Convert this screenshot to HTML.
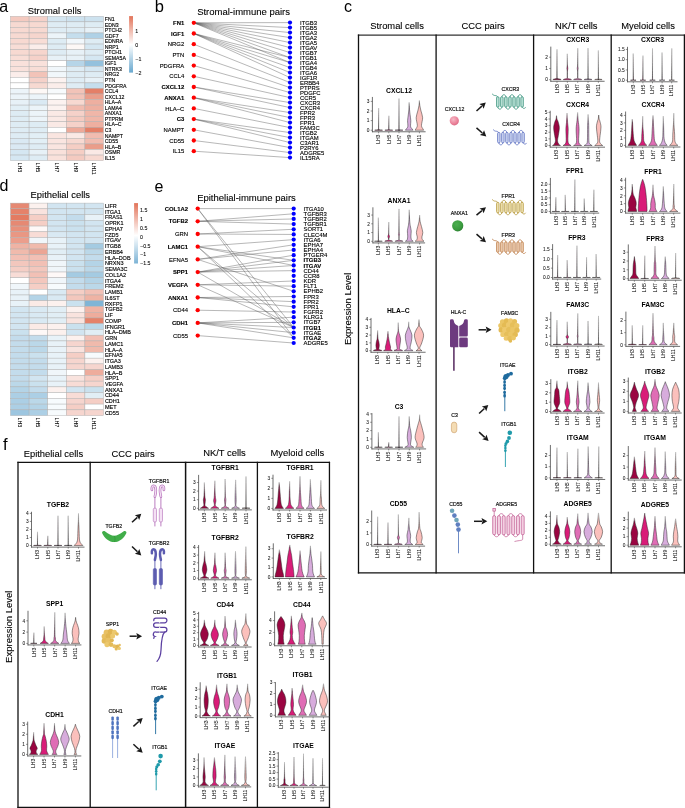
<!DOCTYPE html>
<html><head><meta charset="utf-8"><style>html,body{margin:0;padding:0;background:#fff;width:685px;height:808px;overflow:hidden}svg{display:block;will-change:transform}text{font-family:"Liberation Sans",sans-serif}</style></head><body>
<svg width="685" height="808" viewBox="0 0 685 808" font-family='"Liberation Sans", sans-serif'>
<rect width="685" height="808" fill="#ffffff"/>
<defs><linearGradient id="fade" x1="0" y1="0" x2="0" y2="1"><stop offset="0" stop-color="#fff" stop-opacity="0.6"/><stop offset="0.55" stop-color="#fff" stop-opacity="0.3"/><stop offset="1" stop-color="#fff" stop-opacity="0"/></linearGradient></defs>
<text x="-0.80" y="11.80" font-size="16" text-anchor="start" fill="#000">a</text>
<text x="54.60" y="14.40" font-size="9.4" text-anchor="middle" fill="#000" stroke="#000" stroke-width="0.1">Stromal cells</text>
<rect x="10.50" y="16.30" width="18.60" height="5.55" fill="#f4cac0" stroke="#b0b0b0" stroke-width="0.45"/>
<rect x="29.10" y="16.30" width="18.60" height="5.55" fill="#f5d1c9" stroke="#b0b0b0" stroke-width="0.45"/>
<rect x="47.70" y="16.30" width="18.60" height="5.55" fill="#d5e7f2" stroke="#b0b0b0" stroke-width="0.45"/>
<rect x="66.30" y="16.30" width="18.60" height="5.55" fill="#cde2ef" stroke="#b0b0b0" stroke-width="0.45"/>
<rect x="84.90" y="16.30" width="18.60" height="5.55" fill="#cde2ef" stroke="#b0b0b0" stroke-width="0.45"/>
<rect x="10.50" y="21.85" width="18.60" height="5.55" fill="#f7d9d1" stroke="#b0b0b0" stroke-width="0.45"/>
<rect x="29.10" y="21.85" width="18.60" height="5.55" fill="#f7d9d1" stroke="#b0b0b0" stroke-width="0.45"/>
<rect x="47.70" y="21.85" width="18.60" height="5.55" fill="#deecf4" stroke="#b0b0b0" stroke-width="0.45"/>
<rect x="66.30" y="21.85" width="18.60" height="5.55" fill="#deecf4" stroke="#b0b0b0" stroke-width="0.45"/>
<rect x="84.90" y="21.85" width="18.60" height="5.55" fill="#deecf4" stroke="#b0b0b0" stroke-width="0.45"/>
<rect x="10.50" y="27.40" width="18.60" height="5.55" fill="#f7d9d1" stroke="#b0b0b0" stroke-width="0.45"/>
<rect x="29.10" y="27.40" width="18.60" height="5.55" fill="#f7d9d1" stroke="#b0b0b0" stroke-width="0.45"/>
<rect x="47.70" y="27.40" width="18.60" height="5.55" fill="#deecf4" stroke="#b0b0b0" stroke-width="0.45"/>
<rect x="66.30" y="27.40" width="18.60" height="5.55" fill="#deecf4" stroke="#b0b0b0" stroke-width="0.45"/>
<rect x="84.90" y="27.40" width="18.60" height="5.55" fill="#e7f1f7" stroke="#b0b0b0" stroke-width="0.45"/>
<rect x="10.50" y="32.95" width="18.60" height="5.55" fill="#f7d9d1" stroke="#b0b0b0" stroke-width="0.45"/>
<rect x="29.10" y="32.95" width="18.60" height="5.55" fill="#f6d5cd" stroke="#b0b0b0" stroke-width="0.45"/>
<rect x="47.70" y="32.95" width="18.60" height="5.55" fill="#ecf4f9" stroke="#b0b0b0" stroke-width="0.45"/>
<rect x="66.30" y="32.95" width="18.60" height="5.55" fill="#c5deed" stroke="#b0b0b0" stroke-width="0.45"/>
<rect x="84.90" y="32.95" width="18.60" height="5.55" fill="#afd1e6" stroke="#b0b0b0" stroke-width="0.45"/>
<rect x="10.50" y="38.50" width="18.60" height="5.55" fill="#f7d9d1" stroke="#b0b0b0" stroke-width="0.45"/>
<rect x="29.10" y="38.50" width="18.60" height="5.55" fill="#f8ddd6" stroke="#b0b0b0" stroke-width="0.45"/>
<rect x="47.70" y="38.50" width="18.60" height="5.55" fill="#deecf4" stroke="#b0b0b0" stroke-width="0.45"/>
<rect x="66.30" y="38.50" width="18.60" height="5.55" fill="#f1f7fb" stroke="#b0b0b0" stroke-width="0.45"/>
<rect x="84.90" y="38.50" width="18.60" height="5.55" fill="#deecf4" stroke="#b0b0b0" stroke-width="0.45"/>
<rect x="10.50" y="44.05" width="18.60" height="5.55" fill="#f8ddd6" stroke="#b0b0b0" stroke-width="0.45"/>
<rect x="29.10" y="44.05" width="18.60" height="5.55" fill="#fbedea" stroke="#b0b0b0" stroke-width="0.45"/>
<rect x="47.70" y="44.05" width="18.60" height="5.55" fill="#deecf4" stroke="#b0b0b0" stroke-width="0.45"/>
<rect x="66.30" y="44.05" width="18.60" height="5.55" fill="#fdf8f6" stroke="#b0b0b0" stroke-width="0.45"/>
<rect x="84.90" y="44.05" width="18.60" height="5.55" fill="#d5e7f2" stroke="#b0b0b0" stroke-width="0.45"/>
<rect x="10.50" y="49.60" width="18.60" height="5.55" fill="#f7d9d1" stroke="#b0b0b0" stroke-width="0.45"/>
<rect x="29.10" y="49.60" width="18.60" height="5.55" fill="#f6d5cd" stroke="#b0b0b0" stroke-width="0.45"/>
<rect x="47.70" y="49.60" width="18.60" height="5.55" fill="#deecf4" stroke="#b0b0b0" stroke-width="0.45"/>
<rect x="66.30" y="49.60" width="18.60" height="5.55" fill="#e7f1f7" stroke="#b0b0b0" stroke-width="0.45"/>
<rect x="84.90" y="49.60" width="18.60" height="5.55" fill="#deecf4" stroke="#b0b0b0" stroke-width="0.45"/>
<rect x="10.50" y="55.15" width="18.60" height="5.55" fill="#f8ddd6" stroke="#b0b0b0" stroke-width="0.45"/>
<rect x="29.10" y="55.15" width="18.60" height="5.55" fill="#f5d1c9" stroke="#b0b0b0" stroke-width="0.45"/>
<rect x="47.70" y="55.15" width="18.60" height="5.55" fill="#e7f1f7" stroke="#b0b0b0" stroke-width="0.45"/>
<rect x="66.30" y="55.15" width="18.60" height="5.55" fill="#e7f1f7" stroke="#b0b0b0" stroke-width="0.45"/>
<rect x="84.90" y="55.15" width="18.60" height="5.55" fill="#d5e7f2" stroke="#b0b0b0" stroke-width="0.45"/>
<rect x="10.50" y="60.70" width="18.60" height="5.55" fill="#f9e1db" stroke="#b0b0b0" stroke-width="0.45"/>
<rect x="29.10" y="60.70" width="18.60" height="5.55" fill="#f9e1db" stroke="#b0b0b0" stroke-width="0.45"/>
<rect x="47.70" y="60.70" width="18.60" height="5.55" fill="#ffffff" stroke="#b0b0b0" stroke-width="0.45"/>
<rect x="66.30" y="60.70" width="18.60" height="5.55" fill="#b6d5e8" stroke="#b0b0b0" stroke-width="0.45"/>
<rect x="84.90" y="60.70" width="18.60" height="5.55" fill="#94c1dd" stroke="#b0b0b0" stroke-width="0.45"/>
<rect x="10.50" y="66.25" width="18.60" height="5.55" fill="#f9e1db" stroke="#b0b0b0" stroke-width="0.45"/>
<rect x="29.10" y="66.25" width="18.60" height="5.55" fill="#f8ddd6" stroke="#b0b0b0" stroke-width="0.45"/>
<rect x="47.70" y="66.25" width="18.60" height="5.55" fill="#f1f7fb" stroke="#b0b0b0" stroke-width="0.45"/>
<rect x="66.30" y="66.25" width="18.60" height="5.55" fill="#deecf4" stroke="#b0b0b0" stroke-width="0.45"/>
<rect x="84.90" y="66.25" width="18.60" height="5.55" fill="#d5e7f2" stroke="#b0b0b0" stroke-width="0.45"/>
<rect x="10.50" y="71.80" width="18.60" height="5.55" fill="#fbedea" stroke="#b0b0b0" stroke-width="0.45"/>
<rect x="29.10" y="71.80" width="18.60" height="5.55" fill="#f2c3b8" stroke="#b0b0b0" stroke-width="0.45"/>
<rect x="47.70" y="71.80" width="18.60" height="5.55" fill="#f1f7fb" stroke="#b0b0b0" stroke-width="0.45"/>
<rect x="66.30" y="71.80" width="18.60" height="5.55" fill="#deecf4" stroke="#b0b0b0" stroke-width="0.45"/>
<rect x="84.90" y="71.80" width="18.60" height="5.55" fill="#deecf4" stroke="#b0b0b0" stroke-width="0.45"/>
<rect x="10.50" y="77.35" width="18.60" height="5.55" fill="#ffffff" stroke="#b0b0b0" stroke-width="0.45"/>
<rect x="29.10" y="77.35" width="18.60" height="5.55" fill="#f5d1c9" stroke="#b0b0b0" stroke-width="0.45"/>
<rect x="47.70" y="77.35" width="18.60" height="5.55" fill="#fcf2f0" stroke="#b0b0b0" stroke-width="0.45"/>
<rect x="66.30" y="77.35" width="18.60" height="5.55" fill="#deecf4" stroke="#b0b0b0" stroke-width="0.45"/>
<rect x="84.90" y="77.35" width="18.60" height="5.55" fill="#e7f1f7" stroke="#b0b0b0" stroke-width="0.45"/>
<rect x="10.50" y="82.90" width="18.60" height="5.55" fill="#ffffff" stroke="#b0b0b0" stroke-width="0.45"/>
<rect x="29.10" y="82.90" width="18.60" height="5.55" fill="#f7d9d1" stroke="#b0b0b0" stroke-width="0.45"/>
<rect x="47.70" y="82.90" width="18.60" height="5.55" fill="#fbedea" stroke="#b0b0b0" stroke-width="0.45"/>
<rect x="66.30" y="82.90" width="18.60" height="5.55" fill="#deecf4" stroke="#b0b0b0" stroke-width="0.45"/>
<rect x="84.90" y="82.90" width="18.60" height="5.55" fill="#c5deed" stroke="#b0b0b0" stroke-width="0.45"/>
<rect x="10.50" y="88.45" width="18.60" height="5.55" fill="#ecf4f9" stroke="#b0b0b0" stroke-width="0.45"/>
<rect x="29.10" y="88.45" width="18.60" height="5.55" fill="#fdf8f6" stroke="#b0b0b0" stroke-width="0.45"/>
<rect x="47.70" y="88.45" width="18.60" height="5.55" fill="#f7fafc" stroke="#b0b0b0" stroke-width="0.45"/>
<rect x="66.30" y="88.45" width="18.60" height="5.55" fill="#f2c3b8" stroke="#b0b0b0" stroke-width="0.45"/>
<rect x="84.90" y="88.45" width="18.60" height="5.55" fill="#e47f67" stroke="#b0b0b0" stroke-width="0.45"/>
<rect x="10.50" y="94.00" width="18.60" height="5.55" fill="#ecf4f9" stroke="#b0b0b0" stroke-width="0.45"/>
<rect x="29.10" y="94.00" width="18.60" height="5.55" fill="#ecf4f9" stroke="#b0b0b0" stroke-width="0.45"/>
<rect x="47.70" y="94.00" width="18.60" height="5.55" fill="#ffffff" stroke="#b0b0b0" stroke-width="0.45"/>
<rect x="66.30" y="94.00" width="18.60" height="5.55" fill="#f2c3b8" stroke="#b0b0b0" stroke-width="0.45"/>
<rect x="84.90" y="94.00" width="18.60" height="5.55" fill="#ea9d8a" stroke="#b0b0b0" stroke-width="0.45"/>
<rect x="10.50" y="99.55" width="18.60" height="5.55" fill="#e7f1f7" stroke="#b0b0b0" stroke-width="0.45"/>
<rect x="29.10" y="99.55" width="18.60" height="5.55" fill="#dae9f3" stroke="#b0b0b0" stroke-width="0.45"/>
<rect x="47.70" y="99.55" width="18.60" height="5.55" fill="#fcf2f0" stroke="#b0b0b0" stroke-width="0.45"/>
<rect x="66.30" y="99.55" width="18.60" height="5.55" fill="#f7d9d1" stroke="#b0b0b0" stroke-width="0.45"/>
<rect x="84.90" y="99.55" width="18.60" height="5.55" fill="#eeafa0" stroke="#b0b0b0" stroke-width="0.45"/>
<rect x="10.50" y="105.10" width="18.60" height="5.55" fill="#e2eff6" stroke="#b0b0b0" stroke-width="0.45"/>
<rect x="29.10" y="105.10" width="18.60" height="5.55" fill="#ecf4f9" stroke="#b0b0b0" stroke-width="0.45"/>
<rect x="47.70" y="105.10" width="18.60" height="5.55" fill="#fcf2f0" stroke="#b0b0b0" stroke-width="0.45"/>
<rect x="66.30" y="105.10" width="18.60" height="5.55" fill="#f1bcb0" stroke="#b0b0b0" stroke-width="0.45"/>
<rect x="84.90" y="105.10" width="18.60" height="5.55" fill="#eeafa0" stroke="#b0b0b0" stroke-width="0.45"/>
<rect x="10.50" y="110.65" width="18.60" height="5.55" fill="#deecf4" stroke="#b0b0b0" stroke-width="0.45"/>
<rect x="29.10" y="110.65" width="18.60" height="5.55" fill="#ecf4f9" stroke="#b0b0b0" stroke-width="0.45"/>
<rect x="47.70" y="110.65" width="18.60" height="5.55" fill="#fae9e5" stroke="#b0b0b0" stroke-width="0.45"/>
<rect x="66.30" y="110.65" width="18.60" height="5.55" fill="#f5d1c9" stroke="#b0b0b0" stroke-width="0.45"/>
<rect x="84.90" y="110.65" width="18.60" height="5.55" fill="#f0b6a8" stroke="#b0b0b0" stroke-width="0.45"/>
<rect x="10.50" y="116.20" width="18.60" height="5.55" fill="#deecf4" stroke="#b0b0b0" stroke-width="0.45"/>
<rect x="29.10" y="116.20" width="18.60" height="5.55" fill="#ecf4f9" stroke="#b0b0b0" stroke-width="0.45"/>
<rect x="47.70" y="116.20" width="18.60" height="5.55" fill="#fae9e5" stroke="#b0b0b0" stroke-width="0.45"/>
<rect x="66.30" y="116.20" width="18.60" height="5.55" fill="#f4cac0" stroke="#b0b0b0" stroke-width="0.45"/>
<rect x="84.90" y="116.20" width="18.60" height="5.55" fill="#f0b6a8" stroke="#b0b0b0" stroke-width="0.45"/>
<rect x="10.50" y="121.75" width="18.60" height="5.55" fill="#deecf4" stroke="#b0b0b0" stroke-width="0.45"/>
<rect x="29.10" y="121.75" width="18.60" height="5.55" fill="#deecf4" stroke="#b0b0b0" stroke-width="0.45"/>
<rect x="47.70" y="121.75" width="18.60" height="5.55" fill="#fae9e5" stroke="#b0b0b0" stroke-width="0.45"/>
<rect x="66.30" y="121.75" width="18.60" height="5.55" fill="#f5d1c9" stroke="#b0b0b0" stroke-width="0.45"/>
<rect x="84.90" y="121.75" width="18.60" height="5.55" fill="#eeafa0" stroke="#b0b0b0" stroke-width="0.45"/>
<rect x="10.50" y="127.30" width="18.60" height="5.55" fill="#deecf4" stroke="#b0b0b0" stroke-width="0.45"/>
<rect x="29.10" y="127.30" width="18.60" height="5.55" fill="#deecf4" stroke="#b0b0b0" stroke-width="0.45"/>
<rect x="47.70" y="127.30" width="18.60" height="5.55" fill="#ffffff" stroke="#b0b0b0" stroke-width="0.45"/>
<rect x="66.30" y="127.30" width="18.60" height="5.55" fill="#eda999" stroke="#b0b0b0" stroke-width="0.45"/>
<rect x="84.90" y="127.30" width="18.60" height="5.55" fill="#e47f67" stroke="#b0b0b0" stroke-width="0.45"/>
<rect x="10.50" y="132.85" width="18.60" height="5.55" fill="#deecf4" stroke="#b0b0b0" stroke-width="0.45"/>
<rect x="29.10" y="132.85" width="18.60" height="5.55" fill="#e2eff6" stroke="#b0b0b0" stroke-width="0.45"/>
<rect x="47.70" y="132.85" width="18.60" height="5.55" fill="#fae5e0" stroke="#b0b0b0" stroke-width="0.45"/>
<rect x="66.30" y="132.85" width="18.60" height="5.55" fill="#fae9e5" stroke="#b0b0b0" stroke-width="0.45"/>
<rect x="84.90" y="132.85" width="18.60" height="5.55" fill="#f1bcb0" stroke="#b0b0b0" stroke-width="0.45"/>
<rect x="10.50" y="138.40" width="18.60" height="5.55" fill="#dae9f3" stroke="#b0b0b0" stroke-width="0.45"/>
<rect x="29.10" y="138.40" width="18.60" height="5.55" fill="#e2eff6" stroke="#b0b0b0" stroke-width="0.45"/>
<rect x="47.70" y="138.40" width="18.60" height="5.55" fill="#fae5e0" stroke="#b0b0b0" stroke-width="0.45"/>
<rect x="66.30" y="138.40" width="18.60" height="5.55" fill="#f7d9d1" stroke="#b0b0b0" stroke-width="0.45"/>
<rect x="84.90" y="138.40" width="18.60" height="5.55" fill="#f1bcb0" stroke="#b0b0b0" stroke-width="0.45"/>
<rect x="10.50" y="143.95" width="18.60" height="5.55" fill="#dae9f3" stroke="#b0b0b0" stroke-width="0.45"/>
<rect x="29.10" y="143.95" width="18.60" height="5.55" fill="#deecf4" stroke="#b0b0b0" stroke-width="0.45"/>
<rect x="47.70" y="143.95" width="18.60" height="5.55" fill="#fae5e0" stroke="#b0b0b0" stroke-width="0.45"/>
<rect x="66.30" y="143.95" width="18.60" height="5.55" fill="#f5cec4" stroke="#b0b0b0" stroke-width="0.45"/>
<rect x="84.90" y="143.95" width="18.60" height="5.55" fill="#ea9d8a" stroke="#b0b0b0" stroke-width="0.45"/>
<rect x="10.50" y="149.50" width="18.60" height="5.55" fill="#d5e7f2" stroke="#b0b0b0" stroke-width="0.45"/>
<rect x="29.10" y="149.50" width="18.60" height="5.55" fill="#e7f1f7" stroke="#b0b0b0" stroke-width="0.45"/>
<rect x="47.70" y="149.50" width="18.60" height="5.55" fill="#f9e1db" stroke="#b0b0b0" stroke-width="0.45"/>
<rect x="66.30" y="149.50" width="18.60" height="5.55" fill="#f5cec4" stroke="#b0b0b0" stroke-width="0.45"/>
<rect x="84.90" y="149.50" width="18.60" height="5.55" fill="#fae9e5" stroke="#b0b0b0" stroke-width="0.45"/>
<rect x="10.50" y="155.05" width="18.60" height="5.55" fill="#d5e7f2" stroke="#b0b0b0" stroke-width="0.45"/>
<rect x="29.10" y="155.05" width="18.60" height="5.55" fill="#deecf4" stroke="#b0b0b0" stroke-width="0.45"/>
<rect x="47.70" y="155.05" width="18.60" height="5.55" fill="#f9e1db" stroke="#b0b0b0" stroke-width="0.45"/>
<rect x="66.30" y="155.05" width="18.60" height="5.55" fill="#f4cac0" stroke="#b0b0b0" stroke-width="0.45"/>
<rect x="84.90" y="155.05" width="18.60" height="5.55" fill="#f7d9d1" stroke="#b0b0b0" stroke-width="0.45"/>
<text x="104.80" y="20.95" font-size="5.2" text-anchor="start" fill="#000" stroke="#000" stroke-width="0.14">FN1</text>
<text x="104.80" y="26.50" font-size="5.2" text-anchor="start" fill="#000" stroke="#000" stroke-width="0.14">EDN3</text>
<text x="104.80" y="32.05" font-size="5.2" text-anchor="start" fill="#000" stroke="#000" stroke-width="0.14">PTCH2</text>
<text x="104.80" y="37.60" font-size="5.2" text-anchor="start" fill="#000" stroke="#000" stroke-width="0.14">GDF7</text>
<text x="104.80" y="43.15" font-size="5.2" text-anchor="start" fill="#000" stroke="#000" stroke-width="0.14">EDNRA</text>
<text x="104.80" y="48.70" font-size="5.2" text-anchor="start" fill="#000" stroke="#000" stroke-width="0.14">NRP1</text>
<text x="104.80" y="54.25" font-size="5.2" text-anchor="start" fill="#000" stroke="#000" stroke-width="0.14">PTCH1</text>
<text x="104.80" y="59.80" font-size="5.2" text-anchor="start" fill="#000" stroke="#000" stroke-width="0.14">SEMA5A</text>
<text x="104.80" y="65.35" font-size="5.2" text-anchor="start" fill="#000" stroke="#000" stroke-width="0.14">IGF1</text>
<text x="104.80" y="70.90" font-size="5.2" text-anchor="start" fill="#000" stroke="#000" stroke-width="0.14">NTRK3</text>
<text x="104.80" y="76.45" font-size="5.2" text-anchor="start" fill="#000" stroke="#000" stroke-width="0.14">NRG2</text>
<text x="104.80" y="82.00" font-size="5.2" text-anchor="start" fill="#000" stroke="#000" stroke-width="0.14">PTN</text>
<text x="104.80" y="87.55" font-size="5.2" text-anchor="start" fill="#000" stroke="#000" stroke-width="0.14">PDGFRA</text>
<text x="104.80" y="93.10" font-size="5.2" text-anchor="start" fill="#000" stroke="#000" stroke-width="0.14">CCL4</text>
<text x="104.80" y="98.65" font-size="5.2" text-anchor="start" fill="#000" stroke="#000" stroke-width="0.14">CXCL12</text>
<text x="104.80" y="104.20" font-size="5.2" text-anchor="start" fill="#000" stroke="#000" stroke-width="0.14">HLA–A</text>
<text x="104.80" y="109.75" font-size="5.2" text-anchor="start" fill="#000" stroke="#000" stroke-width="0.14">LAMA4</text>
<text x="104.80" y="115.30" font-size="5.2" text-anchor="start" fill="#000" stroke="#000" stroke-width="0.14">ANXA1</text>
<text x="104.80" y="120.85" font-size="5.2" text-anchor="start" fill="#000" stroke="#000" stroke-width="0.14">PTPRM</text>
<text x="104.80" y="126.40" font-size="5.2" text-anchor="start" fill="#000" stroke="#000" stroke-width="0.14">HLA–C</text>
<text x="104.80" y="131.95" font-size="5.2" text-anchor="start" fill="#000" stroke="#000" stroke-width="0.14">C3</text>
<text x="104.80" y="137.50" font-size="5.2" text-anchor="start" fill="#000" stroke="#000" stroke-width="0.14">NAMPT</text>
<text x="104.80" y="143.05" font-size="5.2" text-anchor="start" fill="#000" stroke="#000" stroke-width="0.14">CD55</text>
<text x="104.80" y="148.60" font-size="5.2" text-anchor="start" fill="#000" stroke="#000" stroke-width="0.14">HLA–B</text>
<text x="104.80" y="154.15" font-size="5.2" text-anchor="start" fill="#000" stroke="#000" stroke-width="0.14">OSMR</text>
<text x="104.80" y="159.70" font-size="5.2" text-anchor="start" fill="#000" stroke="#000" stroke-width="0.14">IL15</text>
<text x="17.89" y="162.50" font-size="5.3" text-anchor="start" fill="#000" transform="rotate(90 17.89 162.50)" stroke="#000" stroke-width="0.07">LH3</text>
<text x="36.49" y="162.50" font-size="5.3" text-anchor="start" fill="#000" transform="rotate(90 36.49 162.50)" stroke="#000" stroke-width="0.07">LH5</text>
<text x="55.09" y="162.50" font-size="5.3" text-anchor="start" fill="#000" transform="rotate(90 55.09 162.50)" stroke="#000" stroke-width="0.07">LH7</text>
<text x="73.69" y="162.50" font-size="5.3" text-anchor="start" fill="#000" transform="rotate(90 73.69 162.50)" stroke="#000" stroke-width="0.07">LH9</text>
<text x="92.29" y="162.50" font-size="5.3" text-anchor="start" fill="#000" transform="rotate(90 92.29 162.50)" stroke="#000" stroke-width="0.07">LH11</text>
<defs><linearGradient id="g166" x1="0" y1="0" x2="0" y2="1"><stop offset="0" stop-color="#e2745a"/><stop offset="0.505" stop-color="#ffffff"/><stop offset="1" stop-color="#68a8cf"/></linearGradient></defs>
<rect x="129.10" y="16.10" width="3.90" height="56.50" fill="url(#g166)" stroke="none" stroke-width="0"/>
<text x="135.30" y="32.71" font-size="5.3" text-anchor="start" fill="#000" stroke="#000" stroke-width="0.07">1</text>
<text x="135.30" y="46.61" font-size="5.3" text-anchor="start" fill="#000" stroke="#000" stroke-width="0.07">0</text>
<text x="135.30" y="60.81" font-size="5.3" text-anchor="start" fill="#000" stroke="#000" stroke-width="0.07">−1</text>
<text x="135.30" y="74.71" font-size="5.3" text-anchor="start" fill="#000" stroke="#000" stroke-width="0.07">−2</text>
<text x="-0.50" y="191.40" font-size="16" text-anchor="start" fill="#000">d</text>
<text x="60.30" y="198.00" font-size="9.4" text-anchor="middle" fill="#000" stroke="#000" stroke-width="0.1">Epithelial cells</text>
<rect x="10.50" y="203.10" width="18.60" height="5.74" fill="#e68973" stroke="#b0b0b0" stroke-width="0.45"/>
<rect x="29.10" y="203.10" width="18.60" height="5.74" fill="#fcf1ee" stroke="#b0b0b0" stroke-width="0.45"/>
<rect x="47.70" y="203.10" width="18.60" height="5.74" fill="#d2e5f1" stroke="#b0b0b0" stroke-width="0.45"/>
<rect x="66.30" y="203.10" width="18.60" height="5.74" fill="#d2e5f1" stroke="#b0b0b0" stroke-width="0.45"/>
<rect x="84.90" y="203.10" width="18.60" height="5.74" fill="#d2e5f1" stroke="#b0b0b0" stroke-width="0.45"/>
<rect x="10.50" y="208.84" width="18.60" height="5.74" fill="#e5826a" stroke="#b0b0b0" stroke-width="0.45"/>
<rect x="29.10" y="208.84" width="18.60" height="5.74" fill="#f9e3de" stroke="#b0b0b0" stroke-width="0.45"/>
<rect x="47.70" y="208.84" width="18.60" height="5.74" fill="#d2e5f1" stroke="#b0b0b0" stroke-width="0.45"/>
<rect x="66.30" y="208.84" width="18.60" height="5.74" fill="#d2e5f1" stroke="#b0b0b0" stroke-width="0.45"/>
<rect x="84.90" y="208.84" width="18.60" height="5.74" fill="#d2e5f1" stroke="#b0b0b0" stroke-width="0.45"/>
<rect x="10.50" y="214.59" width="18.60" height="5.74" fill="#e37b62" stroke="#b0b0b0" stroke-width="0.45"/>
<rect x="29.10" y="214.59" width="18.60" height="5.74" fill="#f5cec5" stroke="#b0b0b0" stroke-width="0.45"/>
<rect x="47.70" y="214.59" width="18.60" height="5.74" fill="#d2e5f1" stroke="#b0b0b0" stroke-width="0.45"/>
<rect x="66.30" y="214.59" width="18.60" height="5.74" fill="#c3dcec" stroke="#b0b0b0" stroke-width="0.45"/>
<rect x="84.90" y="214.59" width="18.60" height="5.74" fill="#e8f2f8" stroke="#b0b0b0" stroke-width="0.45"/>
<rect x="10.50" y="220.33" width="18.60" height="5.74" fill="#e68973" stroke="#b0b0b0" stroke-width="0.45"/>
<rect x="29.10" y="220.33" width="18.60" height="5.74" fill="#f5cec5" stroke="#b0b0b0" stroke-width="0.45"/>
<rect x="47.70" y="220.33" width="18.60" height="5.74" fill="#d2e5f1" stroke="#b0b0b0" stroke-width="0.45"/>
<rect x="66.30" y="220.33" width="18.60" height="5.74" fill="#cae1ee" stroke="#b0b0b0" stroke-width="0.45"/>
<rect x="84.90" y="220.33" width="18.60" height="5.74" fill="#d2e5f1" stroke="#b0b0b0" stroke-width="0.45"/>
<rect x="10.50" y="226.07" width="18.60" height="5.74" fill="#e8907b" stroke="#b0b0b0" stroke-width="0.45"/>
<rect x="29.10" y="226.07" width="18.60" height="5.74" fill="#fef8f7" stroke="#b0b0b0" stroke-width="0.45"/>
<rect x="47.70" y="226.07" width="18.60" height="5.74" fill="#d2e5f1" stroke="#b0b0b0" stroke-width="0.45"/>
<rect x="66.30" y="226.07" width="18.60" height="5.74" fill="#cae1ee" stroke="#b0b0b0" stroke-width="0.45"/>
<rect x="84.90" y="226.07" width="18.60" height="5.74" fill="#d2e5f1" stroke="#b0b0b0" stroke-width="0.45"/>
<rect x="10.50" y="231.82" width="18.60" height="5.74" fill="#e99783" stroke="#b0b0b0" stroke-width="0.45"/>
<rect x="29.10" y="231.82" width="18.60" height="5.74" fill="#f8dcd6" stroke="#b0b0b0" stroke-width="0.45"/>
<rect x="47.70" y="231.82" width="18.60" height="5.74" fill="#d9e9f3" stroke="#b0b0b0" stroke-width="0.45"/>
<rect x="66.30" y="231.82" width="18.60" height="5.74" fill="#d2e5f1" stroke="#b0b0b0" stroke-width="0.45"/>
<rect x="84.90" y="231.82" width="18.60" height="5.74" fill="#d2e5f1" stroke="#b0b0b0" stroke-width="0.45"/>
<rect x="10.50" y="237.56" width="18.60" height="5.74" fill="#eb9e8c" stroke="#b0b0b0" stroke-width="0.45"/>
<rect x="29.10" y="237.56" width="18.60" height="5.74" fill="#f0f6fa" stroke="#b0b0b0" stroke-width="0.45"/>
<rect x="47.70" y="237.56" width="18.60" height="5.74" fill="#e8f2f8" stroke="#b0b0b0" stroke-width="0.45"/>
<rect x="66.30" y="237.56" width="18.60" height="5.74" fill="#d2e5f1" stroke="#b0b0b0" stroke-width="0.45"/>
<rect x="84.90" y="237.56" width="18.60" height="5.74" fill="#d2e5f1" stroke="#b0b0b0" stroke-width="0.45"/>
<rect x="10.50" y="243.30" width="18.60" height="5.74" fill="#efb3a4" stroke="#b0b0b0" stroke-width="0.45"/>
<rect x="29.10" y="243.30" width="18.60" height="5.74" fill="#f0baac" stroke="#b0b0b0" stroke-width="0.45"/>
<rect x="47.70" y="243.30" width="18.60" height="5.74" fill="#e8f2f8" stroke="#b0b0b0" stroke-width="0.45"/>
<rect x="66.30" y="243.30" width="18.60" height="5.74" fill="#d2e5f1" stroke="#b0b0b0" stroke-width="0.45"/>
<rect x="84.90" y="243.30" width="18.60" height="5.74" fill="#a4cbe2" stroke="#b0b0b0" stroke-width="0.45"/>
<rect x="10.50" y="249.05" width="18.60" height="5.74" fill="#f0baac" stroke="#b0b0b0" stroke-width="0.45"/>
<rect x="29.10" y="249.05" width="18.60" height="5.74" fill="#eca594" stroke="#b0b0b0" stroke-width="0.45"/>
<rect x="47.70" y="249.05" width="18.60" height="5.74" fill="#e1eef5" stroke="#b0b0b0" stroke-width="0.45"/>
<rect x="66.30" y="249.05" width="18.60" height="5.74" fill="#d2e5f1" stroke="#b0b0b0" stroke-width="0.45"/>
<rect x="84.90" y="249.05" width="18.60" height="5.74" fill="#bbd8e9" stroke="#b0b0b0" stroke-width="0.45"/>
<rect x="10.50" y="254.79" width="18.60" height="5.74" fill="#f2c0b5" stroke="#b0b0b0" stroke-width="0.45"/>
<rect x="29.10" y="254.79" width="18.60" height="5.74" fill="#f2c0b5" stroke="#b0b0b0" stroke-width="0.45"/>
<rect x="47.70" y="254.79" width="18.60" height="5.74" fill="#e8f2f8" stroke="#b0b0b0" stroke-width="0.45"/>
<rect x="66.30" y="254.79" width="18.60" height="5.74" fill="#d2e5f1" stroke="#b0b0b0" stroke-width="0.45"/>
<rect x="84.90" y="254.79" width="18.60" height="5.74" fill="#c3dcec" stroke="#b0b0b0" stroke-width="0.45"/>
<rect x="10.50" y="260.53" width="18.60" height="5.74" fill="#f3c7bd" stroke="#b0b0b0" stroke-width="0.45"/>
<rect x="29.10" y="260.53" width="18.60" height="5.74" fill="#f2c0b5" stroke="#b0b0b0" stroke-width="0.45"/>
<rect x="47.70" y="260.53" width="18.60" height="5.74" fill="#f0f6fa" stroke="#b0b0b0" stroke-width="0.45"/>
<rect x="66.30" y="260.53" width="18.60" height="5.74" fill="#cae1ee" stroke="#b0b0b0" stroke-width="0.45"/>
<rect x="84.90" y="260.53" width="18.60" height="5.74" fill="#b4d4e7" stroke="#b0b0b0" stroke-width="0.45"/>
<rect x="10.50" y="266.28" width="18.60" height="5.74" fill="#f5cec5" stroke="#b0b0b0" stroke-width="0.45"/>
<rect x="29.10" y="266.28" width="18.60" height="5.74" fill="#f3c7bd" stroke="#b0b0b0" stroke-width="0.45"/>
<rect x="47.70" y="266.28" width="18.60" height="5.74" fill="#f0f6fa" stroke="#b0b0b0" stroke-width="0.45"/>
<rect x="66.30" y="266.28" width="18.60" height="5.74" fill="#cae1ee" stroke="#b0b0b0" stroke-width="0.45"/>
<rect x="84.90" y="266.28" width="18.60" height="5.74" fill="#bbd8e9" stroke="#b0b0b0" stroke-width="0.45"/>
<rect x="10.50" y="272.02" width="18.60" height="5.74" fill="#f8dcd6" stroke="#b0b0b0" stroke-width="0.45"/>
<rect x="29.10" y="272.02" width="18.60" height="5.74" fill="#f2c0b5" stroke="#b0b0b0" stroke-width="0.45"/>
<rect x="47.70" y="272.02" width="18.60" height="5.74" fill="#fef8f7" stroke="#b0b0b0" stroke-width="0.45"/>
<rect x="66.30" y="272.02" width="18.60" height="5.74" fill="#a4cbe2" stroke="#b0b0b0" stroke-width="0.45"/>
<rect x="84.90" y="272.02" width="18.60" height="5.74" fill="#a4cbe2" stroke="#b0b0b0" stroke-width="0.45"/>
<rect x="10.50" y="277.76" width="18.60" height="5.74" fill="#ffffff" stroke="#b0b0b0" stroke-width="0.45"/>
<rect x="29.10" y="277.76" width="18.60" height="5.74" fill="#f3c7bd" stroke="#b0b0b0" stroke-width="0.45"/>
<rect x="47.70" y="277.76" width="18.60" height="5.74" fill="#f0f6fa" stroke="#b0b0b0" stroke-width="0.45"/>
<rect x="66.30" y="277.76" width="18.60" height="5.74" fill="#c3dcec" stroke="#b0b0b0" stroke-width="0.45"/>
<rect x="84.90" y="277.76" width="18.60" height="5.74" fill="#b4d4e7" stroke="#b0b0b0" stroke-width="0.45"/>
<rect x="10.50" y="283.51" width="18.60" height="5.74" fill="#f0f6fa" stroke="#b0b0b0" stroke-width="0.45"/>
<rect x="29.10" y="283.51" width="18.60" height="5.74" fill="#f5cec5" stroke="#b0b0b0" stroke-width="0.45"/>
<rect x="47.70" y="283.51" width="18.60" height="5.74" fill="#f7fbfd" stroke="#b0b0b0" stroke-width="0.45"/>
<rect x="66.30" y="283.51" width="18.60" height="5.74" fill="#c3dcec" stroke="#b0b0b0" stroke-width="0.45"/>
<rect x="84.90" y="283.51" width="18.60" height="5.74" fill="#bbd8e9" stroke="#b0b0b0" stroke-width="0.45"/>
<rect x="10.50" y="289.25" width="18.60" height="5.74" fill="#e8f2f8" stroke="#b0b0b0" stroke-width="0.45"/>
<rect x="29.10" y="289.25" width="18.60" height="5.74" fill="#ffffff" stroke="#b0b0b0" stroke-width="0.45"/>
<rect x="47.70" y="289.25" width="18.60" height="5.74" fill="#d9e9f3" stroke="#b0b0b0" stroke-width="0.45"/>
<rect x="66.30" y="289.25" width="18.60" height="5.74" fill="#f5cec5" stroke="#b0b0b0" stroke-width="0.45"/>
<rect x="84.90" y="289.25" width="18.60" height="5.74" fill="#f2c0b5" stroke="#b0b0b0" stroke-width="0.45"/>
<rect x="10.50" y="294.99" width="18.60" height="5.74" fill="#e8f2f8" stroke="#b0b0b0" stroke-width="0.45"/>
<rect x="29.10" y="294.99" width="18.60" height="5.74" fill="#b4d4e7" stroke="#b0b0b0" stroke-width="0.45"/>
<rect x="47.70" y="294.99" width="18.60" height="5.74" fill="#d9e9f3" stroke="#b0b0b0" stroke-width="0.45"/>
<rect x="66.30" y="294.99" width="18.60" height="5.74" fill="#f3c7bd" stroke="#b0b0b0" stroke-width="0.45"/>
<rect x="84.90" y="294.99" width="18.60" height="5.74" fill="#efb3a4" stroke="#b0b0b0" stroke-width="0.45"/>
<rect x="10.50" y="300.74" width="18.60" height="5.74" fill="#e8f2f8" stroke="#b0b0b0" stroke-width="0.45"/>
<rect x="29.10" y="300.74" width="18.60" height="5.74" fill="#fbeae6" stroke="#b0b0b0" stroke-width="0.45"/>
<rect x="47.70" y="300.74" width="18.60" height="5.74" fill="#fcf1ee" stroke="#b0b0b0" stroke-width="0.45"/>
<rect x="66.30" y="300.74" width="18.60" height="5.74" fill="#cae1ee" stroke="#b0b0b0" stroke-width="0.45"/>
<rect x="84.90" y="300.74" width="18.60" height="5.74" fill="#7fb5d6" stroke="#b0b0b0" stroke-width="0.45"/>
<rect x="10.50" y="306.48" width="18.60" height="5.74" fill="#d2e5f1" stroke="#b0b0b0" stroke-width="0.45"/>
<rect x="29.10" y="306.48" width="18.60" height="5.74" fill="#d9e9f3" stroke="#b0b0b0" stroke-width="0.45"/>
<rect x="47.70" y="306.48" width="18.60" height="5.74" fill="#e1eef5" stroke="#b0b0b0" stroke-width="0.45"/>
<rect x="66.30" y="306.48" width="18.60" height="5.74" fill="#fcf1ee" stroke="#b0b0b0" stroke-width="0.45"/>
<rect x="84.90" y="306.48" width="18.60" height="5.74" fill="#efb3a4" stroke="#b0b0b0" stroke-width="0.45"/>
<rect x="10.50" y="312.22" width="18.60" height="5.74" fill="#d2e5f1" stroke="#b0b0b0" stroke-width="0.45"/>
<rect x="29.10" y="312.22" width="18.60" height="5.74" fill="#d9e9f3" stroke="#b0b0b0" stroke-width="0.45"/>
<rect x="47.70" y="312.22" width="18.60" height="5.74" fill="#e1eef5" stroke="#b0b0b0" stroke-width="0.45"/>
<rect x="66.30" y="312.22" width="18.60" height="5.74" fill="#f9e3de" stroke="#b0b0b0" stroke-width="0.45"/>
<rect x="84.90" y="312.22" width="18.60" height="5.74" fill="#eeac9c" stroke="#b0b0b0" stroke-width="0.45"/>
<rect x="10.50" y="317.96" width="18.60" height="5.74" fill="#d2e5f1" stroke="#b0b0b0" stroke-width="0.45"/>
<rect x="29.10" y="317.96" width="18.60" height="5.74" fill="#d9e9f3" stroke="#b0b0b0" stroke-width="0.45"/>
<rect x="47.70" y="317.96" width="18.60" height="5.74" fill="#e1eef5" stroke="#b0b0b0" stroke-width="0.45"/>
<rect x="66.30" y="317.96" width="18.60" height="5.74" fill="#f9e3de" stroke="#b0b0b0" stroke-width="0.45"/>
<rect x="84.90" y="317.96" width="18.60" height="5.74" fill="#e5826a" stroke="#b0b0b0" stroke-width="0.45"/>
<rect x="10.50" y="323.71" width="18.60" height="5.74" fill="#d2e5f1" stroke="#b0b0b0" stroke-width="0.45"/>
<rect x="29.10" y="323.71" width="18.60" height="5.74" fill="#fbeae6" stroke="#b0b0b0" stroke-width="0.45"/>
<rect x="47.70" y="323.71" width="18.60" height="5.74" fill="#fcf1ee" stroke="#b0b0b0" stroke-width="0.45"/>
<rect x="66.30" y="323.71" width="18.60" height="5.74" fill="#cae1ee" stroke="#b0b0b0" stroke-width="0.45"/>
<rect x="84.90" y="323.71" width="18.60" height="5.74" fill="#bbd8e9" stroke="#b0b0b0" stroke-width="0.45"/>
<rect x="10.50" y="329.45" width="18.60" height="5.74" fill="#cae1ee" stroke="#b0b0b0" stroke-width="0.45"/>
<rect x="29.10" y="329.45" width="18.60" height="5.74" fill="#fef8f7" stroke="#b0b0b0" stroke-width="0.45"/>
<rect x="47.70" y="329.45" width="18.60" height="5.74" fill="#fcf1ee" stroke="#b0b0b0" stroke-width="0.45"/>
<rect x="66.30" y="329.45" width="18.60" height="5.74" fill="#d2e5f1" stroke="#b0b0b0" stroke-width="0.45"/>
<rect x="84.90" y="329.45" width="18.60" height="5.74" fill="#e1eef5" stroke="#b0b0b0" stroke-width="0.45"/>
<rect x="10.50" y="335.19" width="18.60" height="5.74" fill="#c3dcec" stroke="#b0b0b0" stroke-width="0.45"/>
<rect x="29.10" y="335.19" width="18.60" height="5.74" fill="#c3dcec" stroke="#b0b0b0" stroke-width="0.45"/>
<rect x="47.70" y="335.19" width="18.60" height="5.74" fill="#e8f2f8" stroke="#b0b0b0" stroke-width="0.45"/>
<rect x="66.30" y="335.19" width="18.60" height="5.74" fill="#fcf1ee" stroke="#b0b0b0" stroke-width="0.45"/>
<rect x="84.90" y="335.19" width="18.60" height="5.74" fill="#f2c0b5" stroke="#b0b0b0" stroke-width="0.45"/>
<rect x="10.50" y="340.94" width="18.60" height="5.74" fill="#c3dcec" stroke="#b0b0b0" stroke-width="0.45"/>
<rect x="29.10" y="340.94" width="18.60" height="5.74" fill="#bbd8e9" stroke="#b0b0b0" stroke-width="0.45"/>
<rect x="47.70" y="340.94" width="18.60" height="5.74" fill="#e8f2f8" stroke="#b0b0b0" stroke-width="0.45"/>
<rect x="66.30" y="340.94" width="18.60" height="5.74" fill="#f6d5ce" stroke="#b0b0b0" stroke-width="0.45"/>
<rect x="84.90" y="340.94" width="18.60" height="5.74" fill="#f0baac" stroke="#b0b0b0" stroke-width="0.45"/>
<rect x="10.50" y="346.68" width="18.60" height="5.74" fill="#c3dcec" stroke="#b0b0b0" stroke-width="0.45"/>
<rect x="29.10" y="346.68" width="18.60" height="5.74" fill="#bbd8e9" stroke="#b0b0b0" stroke-width="0.45"/>
<rect x="47.70" y="346.68" width="18.60" height="5.74" fill="#e8f2f8" stroke="#b0b0b0" stroke-width="0.45"/>
<rect x="66.30" y="346.68" width="18.60" height="5.74" fill="#f9e3de" stroke="#b0b0b0" stroke-width="0.45"/>
<rect x="84.90" y="346.68" width="18.60" height="5.74" fill="#f0baac" stroke="#b0b0b0" stroke-width="0.45"/>
<rect x="10.50" y="352.42" width="18.60" height="5.74" fill="#c3dcec" stroke="#b0b0b0" stroke-width="0.45"/>
<rect x="29.10" y="352.42" width="18.60" height="5.74" fill="#cae1ee" stroke="#b0b0b0" stroke-width="0.45"/>
<rect x="47.70" y="352.42" width="18.60" height="5.74" fill="#e8f2f8" stroke="#b0b0b0" stroke-width="0.45"/>
<rect x="66.30" y="352.42" width="18.60" height="5.74" fill="#f5cec5" stroke="#b0b0b0" stroke-width="0.45"/>
<rect x="84.90" y="352.42" width="18.60" height="5.74" fill="#f7fbfd" stroke="#b0b0b0" stroke-width="0.45"/>
<rect x="10.50" y="358.17" width="18.60" height="5.74" fill="#c3dcec" stroke="#b0b0b0" stroke-width="0.45"/>
<rect x="29.10" y="358.17" width="18.60" height="5.74" fill="#c3dcec" stroke="#b0b0b0" stroke-width="0.45"/>
<rect x="47.70" y="358.17" width="18.60" height="5.74" fill="#e8f2f8" stroke="#b0b0b0" stroke-width="0.45"/>
<rect x="66.30" y="358.17" width="18.60" height="5.74" fill="#f6d5ce" stroke="#b0b0b0" stroke-width="0.45"/>
<rect x="84.90" y="358.17" width="18.60" height="5.74" fill="#fcf1ee" stroke="#b0b0b0" stroke-width="0.45"/>
<rect x="10.50" y="363.91" width="18.60" height="5.74" fill="#c3dcec" stroke="#b0b0b0" stroke-width="0.45"/>
<rect x="29.10" y="363.91" width="18.60" height="5.74" fill="#c3dcec" stroke="#b0b0b0" stroke-width="0.45"/>
<rect x="47.70" y="363.91" width="18.60" height="5.74" fill="#e8f2f8" stroke="#b0b0b0" stroke-width="0.45"/>
<rect x="66.30" y="363.91" width="18.60" height="5.74" fill="#f6d5ce" stroke="#b0b0b0" stroke-width="0.45"/>
<rect x="84.90" y="363.91" width="18.60" height="5.74" fill="#f6d5ce" stroke="#b0b0b0" stroke-width="0.45"/>
<rect x="10.50" y="369.65" width="18.60" height="5.74" fill="#c3dcec" stroke="#b0b0b0" stroke-width="0.45"/>
<rect x="29.10" y="369.65" width="18.60" height="5.74" fill="#c3dcec" stroke="#b0b0b0" stroke-width="0.45"/>
<rect x="47.70" y="369.65" width="18.60" height="5.74" fill="#f0f6fa" stroke="#b0b0b0" stroke-width="0.45"/>
<rect x="66.30" y="369.65" width="18.60" height="5.74" fill="#ffffff" stroke="#b0b0b0" stroke-width="0.45"/>
<rect x="84.90" y="369.65" width="18.60" height="5.74" fill="#eeac9c" stroke="#b0b0b0" stroke-width="0.45"/>
<rect x="10.50" y="375.40" width="18.60" height="5.74" fill="#c3dcec" stroke="#b0b0b0" stroke-width="0.45"/>
<rect x="29.10" y="375.40" width="18.60" height="5.74" fill="#d2e5f1" stroke="#b0b0b0" stroke-width="0.45"/>
<rect x="47.70" y="375.40" width="18.60" height="5.74" fill="#e8f2f8" stroke="#b0b0b0" stroke-width="0.45"/>
<rect x="66.30" y="375.40" width="18.60" height="5.74" fill="#f9e3de" stroke="#b0b0b0" stroke-width="0.45"/>
<rect x="84.90" y="375.40" width="18.60" height="5.74" fill="#f5cec5" stroke="#b0b0b0" stroke-width="0.45"/>
<rect x="10.50" y="381.14" width="18.60" height="5.74" fill="#bbd8e9" stroke="#b0b0b0" stroke-width="0.45"/>
<rect x="29.10" y="381.14" width="18.60" height="5.74" fill="#cae1ee" stroke="#b0b0b0" stroke-width="0.45"/>
<rect x="47.70" y="381.14" width="18.60" height="5.74" fill="#e8f2f8" stroke="#b0b0b0" stroke-width="0.45"/>
<rect x="66.30" y="381.14" width="18.60" height="5.74" fill="#f8dcd6" stroke="#b0b0b0" stroke-width="0.45"/>
<rect x="84.90" y="381.14" width="18.60" height="5.74" fill="#f6d5ce" stroke="#b0b0b0" stroke-width="0.45"/>
<rect x="10.50" y="386.88" width="18.60" height="5.74" fill="#b4d4e7" stroke="#b0b0b0" stroke-width="0.45"/>
<rect x="29.10" y="386.88" width="18.60" height="5.74" fill="#c3dcec" stroke="#b0b0b0" stroke-width="0.45"/>
<rect x="47.70" y="386.88" width="18.60" height="5.74" fill="#fcf1ee" stroke="#b0b0b0" stroke-width="0.45"/>
<rect x="66.30" y="386.88" width="18.60" height="5.74" fill="#d2e5f1" stroke="#b0b0b0" stroke-width="0.45"/>
<rect x="84.90" y="386.88" width="18.60" height="5.74" fill="#cae1ee" stroke="#b0b0b0" stroke-width="0.45"/>
<rect x="10.50" y="392.63" width="18.60" height="5.74" fill="#accfe5" stroke="#b0b0b0" stroke-width="0.45"/>
<rect x="29.10" y="392.63" width="18.60" height="5.74" fill="#accfe5" stroke="#b0b0b0" stroke-width="0.45"/>
<rect x="47.70" y="392.63" width="18.60" height="5.74" fill="#ffffff" stroke="#b0b0b0" stroke-width="0.45"/>
<rect x="66.30" y="392.63" width="18.60" height="5.74" fill="#f8dcd6" stroke="#b0b0b0" stroke-width="0.45"/>
<rect x="84.90" y="392.63" width="18.60" height="5.74" fill="#e1eef5" stroke="#b0b0b0" stroke-width="0.45"/>
<rect x="10.50" y="398.37" width="18.60" height="5.74" fill="#accfe5" stroke="#b0b0b0" stroke-width="0.45"/>
<rect x="29.10" y="398.37" width="18.60" height="5.74" fill="#bbd8e9" stroke="#b0b0b0" stroke-width="0.45"/>
<rect x="47.70" y="398.37" width="18.60" height="5.74" fill="#f7fbfd" stroke="#b0b0b0" stroke-width="0.45"/>
<rect x="66.30" y="398.37" width="18.60" height="5.74" fill="#f6d5ce" stroke="#b0b0b0" stroke-width="0.45"/>
<rect x="84.90" y="398.37" width="18.60" height="5.74" fill="#f5cec5" stroke="#b0b0b0" stroke-width="0.45"/>
<rect x="10.50" y="404.11" width="18.60" height="5.74" fill="#accfe5" stroke="#b0b0b0" stroke-width="0.45"/>
<rect x="29.10" y="404.11" width="18.60" height="5.74" fill="#b4d4e7" stroke="#b0b0b0" stroke-width="0.45"/>
<rect x="47.70" y="404.11" width="18.60" height="5.74" fill="#f7fbfd" stroke="#b0b0b0" stroke-width="0.45"/>
<rect x="66.30" y="404.11" width="18.60" height="5.74" fill="#f5cec5" stroke="#b0b0b0" stroke-width="0.45"/>
<rect x="84.90" y="404.11" width="18.60" height="5.74" fill="#ffffff" stroke="#b0b0b0" stroke-width="0.45"/>
<rect x="10.50" y="409.86" width="18.60" height="5.74" fill="#9dc6e0" stroke="#b0b0b0" stroke-width="0.45"/>
<rect x="29.10" y="409.86" width="18.60" height="5.74" fill="#accfe5" stroke="#b0b0b0" stroke-width="0.45"/>
<rect x="47.70" y="409.86" width="18.60" height="5.74" fill="#f7fbfd" stroke="#b0b0b0" stroke-width="0.45"/>
<rect x="66.30" y="409.86" width="18.60" height="5.74" fill="#f6d5ce" stroke="#b0b0b0" stroke-width="0.45"/>
<rect x="84.90" y="409.86" width="18.60" height="5.74" fill="#f6d5ce" stroke="#b0b0b0" stroke-width="0.45"/>
<text x="104.90" y="207.95" font-size="5.5" text-anchor="start" fill="#000" stroke="#000" stroke-width="0.14">LIFR</text>
<text x="104.90" y="213.69" font-size="5.5" text-anchor="start" fill="#000" stroke="#000" stroke-width="0.14">ITGA1</text>
<text x="104.90" y="219.44" font-size="5.5" text-anchor="start" fill="#000" stroke="#000" stroke-width="0.14">FRAS1</text>
<text x="104.90" y="225.18" font-size="5.5" text-anchor="start" fill="#000" stroke="#000" stroke-width="0.14">OPRK1</text>
<text x="104.90" y="230.92" font-size="5.5" text-anchor="start" fill="#000" stroke="#000" stroke-width="0.14">EPHA7</text>
<text x="104.90" y="236.67" font-size="5.5" text-anchor="start" fill="#000" stroke="#000" stroke-width="0.14">FZD5</text>
<text x="104.90" y="242.41" font-size="5.5" text-anchor="start" fill="#000" stroke="#000" stroke-width="0.14">ITGAV</text>
<text x="104.90" y="248.15" font-size="5.5" text-anchor="start" fill="#000" stroke="#000" stroke-width="0.14">ITGB8</text>
<text x="104.90" y="253.90" font-size="5.5" text-anchor="start" fill="#000" stroke="#000" stroke-width="0.14">ERBB4</text>
<text x="104.90" y="259.64" font-size="5.5" text-anchor="start" fill="#000" stroke="#000" stroke-width="0.14">HLA–DOB</text>
<text x="104.90" y="265.38" font-size="5.5" text-anchor="start" fill="#000" stroke="#000" stroke-width="0.14">NRXN3</text>
<text x="104.90" y="271.13" font-size="5.5" text-anchor="start" fill="#000" stroke="#000" stroke-width="0.14">SEMA3C</text>
<text x="104.90" y="276.87" font-size="5.5" text-anchor="start" fill="#000" stroke="#000" stroke-width="0.14">COL1A2</text>
<text x="104.90" y="282.61" font-size="5.5" text-anchor="start" fill="#000" stroke="#000" stroke-width="0.14">ITGA4</text>
<text x="104.90" y="288.36" font-size="5.5" text-anchor="start" fill="#000" stroke="#000" stroke-width="0.14">FREM2</text>
<text x="104.90" y="294.10" font-size="5.5" text-anchor="start" fill="#000" stroke="#000" stroke-width="0.14">LAMB1</text>
<text x="104.90" y="299.84" font-size="5.5" text-anchor="start" fill="#000" stroke="#000" stroke-width="0.14">IL6ST</text>
<text x="104.90" y="305.59" font-size="5.5" text-anchor="start" fill="#000" stroke="#000" stroke-width="0.14">RXFP1</text>
<text x="104.90" y="311.33" font-size="5.5" text-anchor="start" fill="#000" stroke="#000" stroke-width="0.14">TGFB2</text>
<text x="104.90" y="317.07" font-size="5.5" text-anchor="start" fill="#000" stroke="#000" stroke-width="0.14">LIF</text>
<text x="104.90" y="322.82" font-size="5.5" text-anchor="start" fill="#000" stroke="#000" stroke-width="0.14">COMP</text>
<text x="104.90" y="328.56" font-size="5.5" text-anchor="start" fill="#000" stroke="#000" stroke-width="0.14">IFNGR1</text>
<text x="104.90" y="334.30" font-size="5.5" text-anchor="start" fill="#000" stroke="#000" stroke-width="0.14">HLA–DMB</text>
<text x="104.90" y="340.05" font-size="5.5" text-anchor="start" fill="#000" stroke="#000" stroke-width="0.14">GRN</text>
<text x="104.90" y="345.79" font-size="5.5" text-anchor="start" fill="#000" stroke="#000" stroke-width="0.14">LAMC1</text>
<text x="104.90" y="351.53" font-size="5.5" text-anchor="start" fill="#000" stroke="#000" stroke-width="0.14">HLA–A</text>
<text x="104.90" y="357.28" font-size="5.5" text-anchor="start" fill="#000" stroke="#000" stroke-width="0.14">EFNA5</text>
<text x="104.90" y="363.02" font-size="5.5" text-anchor="start" fill="#000" stroke="#000" stroke-width="0.14">ITGA3</text>
<text x="104.90" y="368.76" font-size="5.5" text-anchor="start" fill="#000" stroke="#000" stroke-width="0.14">LAMB3</text>
<text x="104.90" y="374.51" font-size="5.5" text-anchor="start" fill="#000" stroke="#000" stroke-width="0.14">HLA–B</text>
<text x="104.90" y="380.25" font-size="5.5" text-anchor="start" fill="#000" stroke="#000" stroke-width="0.14">SPP1</text>
<text x="104.90" y="385.99" font-size="5.5" text-anchor="start" fill="#000" stroke="#000" stroke-width="0.14">VEGFA</text>
<text x="104.90" y="391.74" font-size="5.5" text-anchor="start" fill="#000" stroke="#000" stroke-width="0.14">ANXA1</text>
<text x="104.90" y="397.48" font-size="5.5" text-anchor="start" fill="#000" stroke="#000" stroke-width="0.14">CD44</text>
<text x="104.90" y="403.22" font-size="5.5" text-anchor="start" fill="#000" stroke="#000" stroke-width="0.14">CDH1</text>
<text x="104.90" y="408.97" font-size="5.5" text-anchor="start" fill="#000" stroke="#000" stroke-width="0.14">MET</text>
<text x="104.90" y="414.71" font-size="5.5" text-anchor="start" fill="#000" stroke="#000" stroke-width="0.14">CD55</text>
<text x="17.89" y="417.50" font-size="5.3" text-anchor="start" fill="#000" transform="rotate(90 17.89 417.50)" stroke="#000" stroke-width="0.07">LH3</text>
<text x="36.49" y="417.50" font-size="5.3" text-anchor="start" fill="#000" transform="rotate(90 36.49 417.50)" stroke="#000" stroke-width="0.07">LH5</text>
<text x="55.09" y="417.50" font-size="5.3" text-anchor="start" fill="#000" transform="rotate(90 55.09 417.50)" stroke="#000" stroke-width="0.07">LH7</text>
<text x="73.69" y="417.50" font-size="5.3" text-anchor="start" fill="#000" transform="rotate(90 73.69 417.50)" stroke="#000" stroke-width="0.07">LH9</text>
<text x="92.29" y="417.50" font-size="5.3" text-anchor="start" fill="#000" transform="rotate(90 92.29 417.50)" stroke="#000" stroke-width="0.07">LH11</text>
<defs><linearGradient id="g401" x1="0" y1="0" x2="0" y2="1"><stop offset="0" stop-color="#e2745a"/><stop offset="0.535" stop-color="#ffffff"/><stop offset="1" stop-color="#7cb3d5"/></linearGradient></defs>
<rect x="134.10" y="203.10" width="3.90" height="60.40" fill="url(#g401)" stroke="none" stroke-width="0"/>
<text x="140.10" y="211.81" font-size="5.3" text-anchor="start" fill="#000" stroke="#000" stroke-width="0.07">1.5</text>
<text x="140.10" y="220.91" font-size="5.3" text-anchor="start" fill="#000" stroke="#000" stroke-width="0.07">1</text>
<text x="140.10" y="230.21" font-size="5.3" text-anchor="start" fill="#000" stroke="#000" stroke-width="0.07">0.5</text>
<text x="140.10" y="238.81" font-size="5.3" text-anchor="start" fill="#000" stroke="#000" stroke-width="0.07">0</text>
<text x="140.10" y="247.51" font-size="5.3" text-anchor="start" fill="#000" stroke="#000" stroke-width="0.07">−0.5</text>
<text x="140.10" y="256.31" font-size="5.3" text-anchor="start" fill="#000" stroke="#000" stroke-width="0.07">−1</text>
<text x="140.10" y="264.91" font-size="5.3" text-anchor="start" fill="#000" stroke="#000" stroke-width="0.07">−1.5</text>
<text x="154.70" y="11.80" font-size="16.5" text-anchor="start" fill="#000">b</text>
<text x="243.60" y="15.00" font-size="9.5" text-anchor="middle" fill="#000" stroke="#000" stroke-width="0.1">Stromal-immune pairs</text>
<line x1="193.80" y1="22.80" x2="290.00" y2="22.60" stroke="#555" stroke-width="0.42"/>
<line x1="193.80" y1="22.80" x2="290.00" y2="27.60" stroke="#555" stroke-width="0.42"/>
<line x1="193.80" y1="22.80" x2="290.00" y2="32.60" stroke="#555" stroke-width="0.42"/>
<line x1="193.80" y1="22.80" x2="290.00" y2="37.60" stroke="#555" stroke-width="0.42"/>
<line x1="193.80" y1="22.80" x2="290.00" y2="42.60" stroke="#555" stroke-width="0.42"/>
<line x1="193.80" y1="22.80" x2="290.00" y2="47.60" stroke="#555" stroke-width="0.42"/>
<line x1="193.80" y1="22.80" x2="290.00" y2="52.60" stroke="#555" stroke-width="0.42"/>
<line x1="193.80" y1="22.80" x2="290.00" y2="57.60" stroke="#555" stroke-width="0.42"/>
<line x1="193.80" y1="22.80" x2="290.00" y2="62.60" stroke="#555" stroke-width="0.42"/>
<line x1="193.80" y1="33.50" x2="290.00" y2="57.60" stroke="#555" stroke-width="0.42"/>
<line x1="193.80" y1="33.50" x2="290.00" y2="62.60" stroke="#555" stroke-width="0.42"/>
<line x1="193.80" y1="33.50" x2="290.00" y2="67.60" stroke="#555" stroke-width="0.42"/>
<line x1="193.80" y1="33.50" x2="290.00" y2="72.60" stroke="#555" stroke-width="0.42"/>
<line x1="193.80" y1="33.50" x2="290.00" y2="77.60" stroke="#555" stroke-width="0.42"/>
<line x1="193.80" y1="44.20" x2="290.00" y2="82.60" stroke="#555" stroke-width="0.42"/>
<line x1="193.80" y1="54.90" x2="290.00" y2="87.60" stroke="#555" stroke-width="0.42"/>
<line x1="193.80" y1="65.60" x2="290.00" y2="92.60" stroke="#555" stroke-width="0.42"/>
<line x1="193.80" y1="76.30" x2="290.00" y2="97.60" stroke="#555" stroke-width="0.42"/>
<line x1="193.80" y1="87.00" x2="290.00" y2="102.60" stroke="#555" stroke-width="0.42"/>
<line x1="193.80" y1="87.00" x2="290.00" y2="107.60" stroke="#555" stroke-width="0.42"/>
<line x1="193.80" y1="97.70" x2="290.00" y2="112.60" stroke="#555" stroke-width="0.42"/>
<line x1="193.80" y1="97.70" x2="290.00" y2="117.60" stroke="#555" stroke-width="0.42"/>
<line x1="193.80" y1="97.70" x2="290.00" y2="122.60" stroke="#555" stroke-width="0.42"/>
<line x1="193.80" y1="108.40" x2="290.00" y2="127.60" stroke="#555" stroke-width="0.42"/>
<line x1="193.80" y1="119.10" x2="290.00" y2="132.60" stroke="#555" stroke-width="0.42"/>
<line x1="193.80" y1="119.10" x2="290.00" y2="137.60" stroke="#555" stroke-width="0.42"/>
<line x1="193.80" y1="119.10" x2="290.00" y2="142.60" stroke="#555" stroke-width="0.42"/>
<line x1="193.80" y1="129.80" x2="290.00" y2="147.60" stroke="#555" stroke-width="0.42"/>
<line x1="193.80" y1="140.50" x2="290.00" y2="152.60" stroke="#555" stroke-width="0.42"/>
<line x1="193.80" y1="151.20" x2="290.00" y2="157.60" stroke="#555" stroke-width="0.42"/>
<circle cx="193.80" cy="22.80" r="2.15" fill="#ff0000"/>
<text x="184.20" y="24.92" font-size="5.9" text-anchor="end" font-weight="bold" fill="#000" stroke="#000" stroke-width="0.12">FN1</text>
<circle cx="193.80" cy="33.50" r="2.15" fill="#ff0000"/>
<text x="184.20" y="35.62" font-size="5.9" text-anchor="end" font-weight="bold" fill="#000" stroke="#000" stroke-width="0.12">IGF1</text>
<circle cx="193.80" cy="44.20" r="2.15" fill="#ff0000"/>
<text x="184.20" y="46.32" font-size="5.9" text-anchor="end" fill="#000" stroke="#000" stroke-width="0.12">NRG2</text>
<circle cx="193.80" cy="54.90" r="2.15" fill="#ff0000"/>
<text x="184.20" y="57.02" font-size="5.9" text-anchor="end" fill="#000" stroke="#000" stroke-width="0.12">PTN</text>
<circle cx="193.80" cy="65.60" r="2.15" fill="#ff0000"/>
<text x="184.20" y="67.72" font-size="5.9" text-anchor="end" fill="#000" stroke="#000" stroke-width="0.12">PDGFRA</text>
<circle cx="193.80" cy="76.30" r="2.15" fill="#ff0000"/>
<text x="184.20" y="78.42" font-size="5.9" text-anchor="end" fill="#000" stroke="#000" stroke-width="0.12">CCL4</text>
<circle cx="193.80" cy="87.00" r="2.15" fill="#ff0000"/>
<text x="184.20" y="89.12" font-size="5.9" text-anchor="end" font-weight="bold" fill="#000" stroke="#000" stroke-width="0.12">CXCL12</text>
<circle cx="193.80" cy="97.70" r="2.15" fill="#ff0000"/>
<text x="184.20" y="99.82" font-size="5.9" text-anchor="end" font-weight="bold" fill="#000" stroke="#000" stroke-width="0.12">ANXA1</text>
<circle cx="193.80" cy="108.40" r="2.15" fill="#ff0000"/>
<text x="184.20" y="110.52" font-size="5.9" text-anchor="end" fill="#000" stroke="#000" stroke-width="0.12">HLA–C</text>
<circle cx="193.80" cy="119.10" r="2.15" fill="#ff0000"/>
<text x="184.20" y="121.22" font-size="5.9" text-anchor="end" font-weight="bold" fill="#000" stroke="#000" stroke-width="0.12">C3</text>
<circle cx="193.80" cy="129.80" r="2.15" fill="#ff0000"/>
<text x="184.20" y="131.92" font-size="5.9" text-anchor="end" fill="#000" stroke="#000" stroke-width="0.12">NAMPT</text>
<circle cx="193.80" cy="140.50" r="2.15" fill="#ff0000"/>
<text x="184.20" y="142.62" font-size="5.9" text-anchor="end" fill="#000" stroke="#000" stroke-width="0.12">CD55</text>
<circle cx="193.80" cy="151.20" r="2.15" fill="#ff0000"/>
<text x="184.20" y="153.32" font-size="5.9" text-anchor="end" fill="#000" stroke="#000" stroke-width="0.12">IL15</text>
<circle cx="290.00" cy="22.60" r="2.1" fill="#0000ff"/>
<text x="300.00" y="24.72" font-size="5.9" text-anchor="start" fill="#000" stroke="#000" stroke-width="0.12">ITGB3</text>
<circle cx="290.00" cy="27.60" r="2.1" fill="#0000ff"/>
<text x="300.00" y="29.72" font-size="5.9" text-anchor="start" fill="#000" stroke="#000" stroke-width="0.12">ITGB5</text>
<circle cx="290.00" cy="32.60" r="2.1" fill="#0000ff"/>
<text x="300.00" y="34.72" font-size="5.9" text-anchor="start" fill="#000" stroke="#000" stroke-width="0.12">ITGA3</text>
<circle cx="290.00" cy="37.60" r="2.1" fill="#0000ff"/>
<text x="300.00" y="39.72" font-size="5.9" text-anchor="start" fill="#000" stroke="#000" stroke-width="0.12">ITGA2</text>
<circle cx="290.00" cy="42.60" r="2.1" fill="#0000ff"/>
<text x="300.00" y="44.72" font-size="5.9" text-anchor="start" fill="#000" stroke="#000" stroke-width="0.12">ITGA5</text>
<circle cx="290.00" cy="47.60" r="2.1" fill="#0000ff"/>
<text x="300.00" y="49.72" font-size="5.9" text-anchor="start" fill="#000" stroke="#000" stroke-width="0.12">ITGAV</text>
<circle cx="290.00" cy="52.60" r="2.1" fill="#0000ff"/>
<text x="300.00" y="54.72" font-size="5.9" text-anchor="start" fill="#000" stroke="#000" stroke-width="0.12">ITGB7</text>
<circle cx="290.00" cy="57.60" r="2.1" fill="#0000ff"/>
<text x="300.00" y="59.72" font-size="5.9" text-anchor="start" fill="#000" stroke="#000" stroke-width="0.12">ITGB1</text>
<circle cx="290.00" cy="62.60" r="2.1" fill="#0000ff"/>
<text x="300.00" y="64.72" font-size="5.9" text-anchor="start" fill="#000" stroke="#000" stroke-width="0.12">ITGA4</text>
<circle cx="290.00" cy="67.60" r="2.1" fill="#0000ff"/>
<text x="300.00" y="69.72" font-size="5.9" text-anchor="start" fill="#000" stroke="#000" stroke-width="0.12">ITGB4</text>
<circle cx="290.00" cy="72.60" r="2.1" fill="#0000ff"/>
<text x="300.00" y="74.72" font-size="5.9" text-anchor="start" fill="#000" stroke="#000" stroke-width="0.12">ITGA6</text>
<circle cx="290.00" cy="77.60" r="2.1" fill="#0000ff"/>
<text x="300.00" y="79.72" font-size="5.9" text-anchor="start" fill="#000" stroke="#000" stroke-width="0.12">IGF1R</text>
<circle cx="290.00" cy="82.60" r="2.1" fill="#0000ff"/>
<text x="300.00" y="84.72" font-size="5.9" text-anchor="start" fill="#000" stroke="#000" stroke-width="0.12">ERBB4</text>
<circle cx="290.00" cy="87.60" r="2.1" fill="#0000ff"/>
<text x="300.00" y="89.72" font-size="5.9" text-anchor="start" fill="#000" stroke="#000" stroke-width="0.12">PTPRS</text>
<circle cx="290.00" cy="92.60" r="2.1" fill="#0000ff"/>
<text x="300.00" y="94.72" font-size="5.9" text-anchor="start" fill="#000" stroke="#000" stroke-width="0.12">PDGFC</text>
<circle cx="290.00" cy="97.60" r="2.1" fill="#0000ff"/>
<text x="300.00" y="99.72" font-size="5.9" text-anchor="start" fill="#000" stroke="#000" stroke-width="0.12">CCR5</text>
<circle cx="290.00" cy="102.60" r="2.1" fill="#0000ff"/>
<text x="300.00" y="104.72" font-size="5.9" text-anchor="start" fill="#000" stroke="#000" stroke-width="0.12">CXCR3</text>
<circle cx="290.00" cy="107.60" r="2.1" fill="#0000ff"/>
<text x="300.00" y="109.72" font-size="5.9" text-anchor="start" fill="#000" stroke="#000" stroke-width="0.12">CXCR4</text>
<circle cx="290.00" cy="112.60" r="2.1" fill="#0000ff"/>
<text x="300.00" y="114.72" font-size="5.9" text-anchor="start" fill="#000" stroke="#000" stroke-width="0.12">FPR2</text>
<circle cx="290.00" cy="117.60" r="2.1" fill="#0000ff"/>
<text x="300.00" y="119.72" font-size="5.9" text-anchor="start" fill="#000" stroke="#000" stroke-width="0.12">FPR3</text>
<circle cx="290.00" cy="122.60" r="2.1" fill="#0000ff"/>
<text x="300.00" y="124.72" font-size="5.9" text-anchor="start" fill="#000" stroke="#000" stroke-width="0.12">FPR1</text>
<circle cx="290.00" cy="127.60" r="2.1" fill="#0000ff"/>
<text x="300.00" y="129.72" font-size="5.9" text-anchor="start" fill="#000" stroke="#000" stroke-width="0.12">FAM3C</text>
<circle cx="290.00" cy="132.60" r="2.1" fill="#0000ff"/>
<text x="300.00" y="134.72" font-size="5.9" text-anchor="start" fill="#000" stroke="#000" stroke-width="0.12">ITGB2</text>
<circle cx="290.00" cy="137.60" r="2.1" fill="#0000ff"/>
<text x="300.00" y="139.72" font-size="5.9" text-anchor="start" fill="#000" stroke="#000" stroke-width="0.12">ITGAM</text>
<circle cx="290.00" cy="142.60" r="2.1" fill="#0000ff"/>
<text x="300.00" y="144.72" font-size="5.9" text-anchor="start" fill="#000" stroke="#000" stroke-width="0.12">C3AR1</text>
<circle cx="290.00" cy="147.60" r="2.1" fill="#0000ff"/>
<text x="300.00" y="149.72" font-size="5.9" text-anchor="start" fill="#000" stroke="#000" stroke-width="0.12">P2RY6</text>
<circle cx="290.00" cy="152.60" r="2.1" fill="#0000ff"/>
<text x="300.00" y="154.72" font-size="5.9" text-anchor="start" fill="#000" stroke="#000" stroke-width="0.12">ADGRE5</text>
<circle cx="290.00" cy="157.60" r="2.1" fill="#0000ff"/>
<text x="300.00" y="159.72" font-size="5.9" text-anchor="start" fill="#000" stroke="#000" stroke-width="0.12">IL15RA</text>
<text x="154.50" y="191.80" font-size="16" text-anchor="start" fill="#000">e</text>
<text x="246.50" y="201.00" font-size="9.5" text-anchor="middle" fill="#000" stroke="#000" stroke-width="0.1">Epithelial-immune pairs</text>
<line x1="197.70" y1="208.60" x2="293.70" y2="208.60" stroke="#555" stroke-width="0.42"/>
<line x1="197.70" y1="208.60" x2="293.70" y2="327.51" stroke="#555" stroke-width="0.42"/>
<line x1="197.70" y1="208.60" x2="293.70" y2="337.85" stroke="#555" stroke-width="0.42"/>
<line x1="197.70" y1="221.30" x2="293.70" y2="213.77" stroke="#555" stroke-width="0.42"/>
<line x1="197.70" y1="221.30" x2="293.70" y2="218.94" stroke="#555" stroke-width="0.42"/>
<line x1="197.70" y1="221.30" x2="293.70" y2="224.11" stroke="#555" stroke-width="0.42"/>
<line x1="197.70" y1="234.00" x2="293.70" y2="229.28" stroke="#555" stroke-width="0.42"/>
<line x1="197.70" y1="234.00" x2="293.70" y2="234.45" stroke="#555" stroke-width="0.42"/>
<line x1="197.70" y1="246.70" x2="293.70" y2="239.62" stroke="#555" stroke-width="0.42"/>
<line x1="197.70" y1="246.70" x2="293.70" y2="260.30" stroke="#555" stroke-width="0.42"/>
<line x1="197.70" y1="246.70" x2="293.70" y2="265.47" stroke="#555" stroke-width="0.42"/>
<line x1="197.70" y1="246.70" x2="293.70" y2="327.51" stroke="#555" stroke-width="0.42"/>
<line x1="197.70" y1="246.70" x2="293.70" y2="337.85" stroke="#555" stroke-width="0.42"/>
<line x1="197.70" y1="259.40" x2="293.70" y2="244.79" stroke="#555" stroke-width="0.42"/>
<line x1="197.70" y1="259.40" x2="293.70" y2="249.96" stroke="#555" stroke-width="0.42"/>
<line x1="197.70" y1="259.40" x2="293.70" y2="291.32" stroke="#555" stroke-width="0.42"/>
<line x1="197.70" y1="272.10" x2="293.70" y2="255.13" stroke="#555" stroke-width="0.42"/>
<line x1="197.70" y1="272.10" x2="293.70" y2="260.30" stroke="#555" stroke-width="0.42"/>
<line x1="197.70" y1="272.10" x2="293.70" y2="265.47" stroke="#555" stroke-width="0.42"/>
<line x1="197.70" y1="272.10" x2="293.70" y2="270.64" stroke="#555" stroke-width="0.42"/>
<line x1="197.70" y1="272.10" x2="293.70" y2="327.51" stroke="#555" stroke-width="0.42"/>
<line x1="197.70" y1="284.80" x2="293.70" y2="280.98" stroke="#555" stroke-width="0.42"/>
<line x1="197.70" y1="284.80" x2="293.70" y2="286.15" stroke="#555" stroke-width="0.42"/>
<line x1="197.70" y1="284.80" x2="293.70" y2="327.51" stroke="#555" stroke-width="0.42"/>
<line x1="197.70" y1="297.50" x2="293.70" y2="296.49" stroke="#555" stroke-width="0.42"/>
<line x1="197.70" y1="297.50" x2="293.70" y2="301.66" stroke="#555" stroke-width="0.42"/>
<line x1="197.70" y1="297.50" x2="293.70" y2="306.83" stroke="#555" stroke-width="0.42"/>
<line x1="197.70" y1="310.20" x2="293.70" y2="312.00" stroke="#555" stroke-width="0.42"/>
<line x1="197.70" y1="322.90" x2="293.70" y2="317.17" stroke="#555" stroke-width="0.42"/>
<line x1="197.70" y1="322.90" x2="293.70" y2="322.34" stroke="#555" stroke-width="0.42"/>
<line x1="197.70" y1="322.90" x2="293.70" y2="327.51" stroke="#555" stroke-width="0.42"/>
<line x1="197.70" y1="322.90" x2="293.70" y2="332.68" stroke="#555" stroke-width="0.42"/>
<line x1="197.70" y1="322.90" x2="293.70" y2="337.85" stroke="#555" stroke-width="0.42"/>
<line x1="197.70" y1="335.60" x2="293.70" y2="343.02" stroke="#555" stroke-width="0.42"/>
<circle cx="197.70" cy="208.60" r="2.15" fill="#ff0000"/>
<text x="188.00" y="210.72" font-size="5.9" text-anchor="end" font-weight="bold" fill="#000" stroke="#000" stroke-width="0.12">COL1A2</text>
<circle cx="197.70" cy="221.30" r="2.15" fill="#ff0000"/>
<text x="188.00" y="223.42" font-size="5.9" text-anchor="end" font-weight="bold" fill="#000" stroke="#000" stroke-width="0.12">TGFB2</text>
<circle cx="197.70" cy="234.00" r="2.15" fill="#ff0000"/>
<text x="188.00" y="236.12" font-size="5.9" text-anchor="end" fill="#000" stroke="#000" stroke-width="0.12">GRN</text>
<circle cx="197.70" cy="246.70" r="2.15" fill="#ff0000"/>
<text x="188.00" y="248.82" font-size="5.9" text-anchor="end" font-weight="bold" fill="#000" stroke="#000" stroke-width="0.12">LAMC1</text>
<circle cx="197.70" cy="259.40" r="2.15" fill="#ff0000"/>
<text x="188.00" y="261.52" font-size="5.9" text-anchor="end" fill="#000" stroke="#000" stroke-width="0.12">EFNA5</text>
<circle cx="197.70" cy="272.10" r="2.15" fill="#ff0000"/>
<text x="188.00" y="274.22" font-size="5.9" text-anchor="end" font-weight="bold" fill="#000" stroke="#000" stroke-width="0.12">SPP1</text>
<circle cx="197.70" cy="284.80" r="2.15" fill="#ff0000"/>
<text x="188.00" y="286.92" font-size="5.9" text-anchor="end" font-weight="bold" fill="#000" stroke="#000" stroke-width="0.12">VEGFA</text>
<circle cx="197.70" cy="297.50" r="2.15" fill="#ff0000"/>
<text x="188.00" y="299.62" font-size="5.9" text-anchor="end" font-weight="bold" fill="#000" stroke="#000" stroke-width="0.12">ANXA1</text>
<circle cx="197.70" cy="310.20" r="2.15" fill="#ff0000"/>
<text x="188.00" y="312.32" font-size="5.9" text-anchor="end" fill="#000" stroke="#000" stroke-width="0.12">CD44</text>
<circle cx="197.70" cy="322.90" r="2.15" fill="#ff0000"/>
<text x="188.00" y="325.02" font-size="5.9" text-anchor="end" font-weight="bold" fill="#000" stroke="#000" stroke-width="0.12">CDH1</text>
<circle cx="197.70" cy="335.60" r="2.15" fill="#ff0000"/>
<text x="188.00" y="337.72" font-size="5.9" text-anchor="end" fill="#000" stroke="#000" stroke-width="0.12">CD55</text>
<circle cx="293.70" cy="208.60" r="2.1" fill="#0000ff"/>
<text x="303.60" y="210.72" font-size="5.9" text-anchor="start" fill="#000" stroke="#000" stroke-width="0.12">ITGA10</text>
<circle cx="293.70" cy="213.77" r="2.1" fill="#0000ff"/>
<text x="303.60" y="215.89" font-size="5.9" text-anchor="start" fill="#000" stroke="#000" stroke-width="0.12">TGFBR3</text>
<circle cx="293.70" cy="218.94" r="2.1" fill="#0000ff"/>
<text x="303.60" y="221.06" font-size="5.9" text-anchor="start" fill="#000" stroke="#000" stroke-width="0.12">TGFBR2</text>
<circle cx="293.70" cy="224.11" r="2.1" fill="#0000ff"/>
<text x="303.60" y="226.23" font-size="5.9" text-anchor="start" fill="#000" stroke="#000" stroke-width="0.12">TGFBR1</text>
<circle cx="293.70" cy="229.28" r="2.1" fill="#0000ff"/>
<text x="303.60" y="231.40" font-size="5.9" text-anchor="start" fill="#000" stroke="#000" stroke-width="0.12">SORT1</text>
<circle cx="293.70" cy="234.45" r="2.1" fill="#0000ff"/>
<text x="303.60" y="236.57" font-size="5.9" text-anchor="start" fill="#000" stroke="#000" stroke-width="0.12">CLEC4M</text>
<circle cx="293.70" cy="239.62" r="2.1" fill="#0000ff"/>
<text x="303.60" y="241.74" font-size="5.9" text-anchor="start" fill="#000" stroke="#000" stroke-width="0.12">ITGA6</text>
<circle cx="293.70" cy="244.79" r="2.1" fill="#0000ff"/>
<text x="303.60" y="246.91" font-size="5.9" text-anchor="start" fill="#000" stroke="#000" stroke-width="0.12">EPHA7</text>
<circle cx="293.70" cy="249.96" r="2.1" fill="#0000ff"/>
<text x="303.60" y="252.08" font-size="5.9" text-anchor="start" fill="#000" stroke="#000" stroke-width="0.12">EPHA4</text>
<circle cx="293.70" cy="255.13" r="2.1" fill="#0000ff"/>
<text x="303.60" y="257.25" font-size="5.9" text-anchor="start" fill="#000" stroke="#000" stroke-width="0.12">PTGER4</text>
<circle cx="293.70" cy="260.30" r="2.1" fill="#0000ff"/>
<text x="303.60" y="262.42" font-size="5.9" text-anchor="start" font-weight="bold" fill="#000" stroke="#000" stroke-width="0.12">ITGB3</text>
<circle cx="293.70" cy="265.47" r="2.1" fill="#0000ff"/>
<text x="303.60" y="267.59" font-size="5.9" text-anchor="start" font-weight="bold" fill="#000" stroke="#000" stroke-width="0.12">ITGAV</text>
<circle cx="293.70" cy="270.64" r="2.1" fill="#0000ff"/>
<text x="303.60" y="272.76" font-size="5.9" text-anchor="start" fill="#000" stroke="#000" stroke-width="0.12">CD44</text>
<circle cx="293.70" cy="275.81" r="2.1" fill="#0000ff"/>
<text x="303.60" y="277.93" font-size="5.9" text-anchor="start" fill="#000" stroke="#000" stroke-width="0.12">CCR8</text>
<circle cx="293.70" cy="280.98" r="2.1" fill="#0000ff"/>
<text x="303.60" y="283.10" font-size="5.9" text-anchor="start" fill="#000" stroke="#000" stroke-width="0.12">KDR</text>
<circle cx="293.70" cy="286.15" r="2.1" fill="#0000ff"/>
<text x="303.60" y="288.27" font-size="5.9" text-anchor="start" fill="#000" stroke="#000" stroke-width="0.12">FLT1</text>
<circle cx="293.70" cy="291.32" r="2.1" fill="#0000ff"/>
<text x="303.60" y="293.44" font-size="5.9" text-anchor="start" fill="#000" stroke="#000" stroke-width="0.12">EPHB2</text>
<circle cx="293.70" cy="296.49" r="2.1" fill="#0000ff"/>
<text x="303.60" y="298.61" font-size="5.9" text-anchor="start" fill="#000" stroke="#000" stroke-width="0.12">FPR3</text>
<circle cx="293.70" cy="301.66" r="2.1" fill="#0000ff"/>
<text x="303.60" y="303.78" font-size="5.9" text-anchor="start" fill="#000" stroke="#000" stroke-width="0.12">FPR2</text>
<circle cx="293.70" cy="306.83" r="2.1" fill="#0000ff"/>
<text x="303.60" y="308.95" font-size="5.9" text-anchor="start" fill="#000" stroke="#000" stroke-width="0.12">FPR1</text>
<circle cx="293.70" cy="312.00" r="2.1" fill="#0000ff"/>
<text x="303.60" y="314.12" font-size="5.9" text-anchor="start" fill="#000" stroke="#000" stroke-width="0.12">FGFR2</text>
<circle cx="293.70" cy="317.17" r="2.1" fill="#0000ff"/>
<text x="303.60" y="319.29" font-size="5.9" text-anchor="start" fill="#000" stroke="#000" stroke-width="0.12">KLRG1</text>
<circle cx="293.70" cy="322.34" r="2.1" fill="#0000ff"/>
<text x="303.60" y="324.46" font-size="5.9" text-anchor="start" fill="#000" stroke="#000" stroke-width="0.12">ITGB7</text>
<circle cx="293.70" cy="327.51" r="2.1" fill="#0000ff"/>
<text x="303.60" y="329.63" font-size="5.9" text-anchor="start" font-weight="bold" fill="#000" stroke="#000" stroke-width="0.12">ITGB1</text>
<circle cx="293.70" cy="332.68" r="2.1" fill="#0000ff"/>
<text x="303.60" y="334.80" font-size="5.9" text-anchor="start" fill="#000" stroke="#000" stroke-width="0.12">ITGAE</text>
<circle cx="293.70" cy="337.85" r="2.1" fill="#0000ff"/>
<text x="303.60" y="339.97" font-size="5.9" text-anchor="start" font-weight="bold" fill="#000" stroke="#000" stroke-width="0.12">ITGA2</text>
<circle cx="293.70" cy="343.02" r="2.1" fill="#0000ff"/>
<text x="303.60" y="345.14" font-size="5.9" text-anchor="start" fill="#000" stroke="#000" stroke-width="0.12">ADGRE5</text>
<g stroke="#111" fill="none" stroke-linecap="square">
<line x1="358.5" y1="35.2" x2="684.4" y2="35.2" stroke-width="1.3" stroke="#333"/>
<line x1="358.5" y1="572.9" x2="684.4" y2="572.9" stroke-width="1.3"/>
<line x1="358.5" y1="35.2" x2="358.5" y2="572.9" stroke-width="1.3"/>
<line x1="436.1" y1="35.2" x2="436.1" y2="572.9" stroke-width="1.3"/>
<line x1="533.6" y1="35.2" x2="533.6" y2="572.9" stroke-width="1.3"/>
<line x1="611.2" y1="35.2" x2="611.2" y2="572.9" stroke-width="1.3"/>
<line x1="684.4" y1="35.2" x2="684.4" y2="572.9" stroke-width="1.3"/>
<line x1="18.0" y1="462.4" x2="329.45" y2="462.4" stroke-width="1.2"/>
<line x1="18.0" y1="807.3" x2="329.45" y2="807.3" stroke-width="1.3"/>
<line x1="18.0" y1="462.4" x2="18.0" y2="807.3" stroke-width="1.3"/>
<line x1="90.2" y1="462.4" x2="90.2" y2="807.3" stroke-width="1.3"/>
<line x1="185.6" y1="462.4" x2="185.6" y2="807.3" stroke-width="1.5"/>
<line x1="257.4" y1="462.4" x2="257.4" y2="807.3" stroke-width="1.3"/>
<line x1="329.45" y1="462.4" x2="329.45" y2="807.3" stroke-width="1.3"/>
</g>
<text x="344.00" y="11.60" font-size="16" text-anchor="start" fill="#000">c</text>
<text x="397.00" y="28.70" font-size="9.4" text-anchor="middle" fill="#000" stroke="#000" stroke-width="0.1">Stromal cells</text>
<text x="483.10" y="28.70" font-size="9.4" text-anchor="middle" fill="#000" stroke="#000" stroke-width="0.1">CCC pairs</text>
<text x="576.30" y="28.70" font-size="9.4" text-anchor="middle" fill="#000" stroke="#000" stroke-width="0.1">NK/T cells</text>
<text x="648.00" y="28.70" font-size="9.4" text-anchor="middle" fill="#000" stroke="#000" stroke-width="0.1">Myeloid cells</text>
<text x="351.10" y="308.90" font-size="9.5" text-anchor="middle" fill="#000" transform="rotate(-90 351.10 308.90)" stroke="#000" stroke-width="0.1">Expression Level</text>
<text x="3.00" y="450.30" font-size="16.5" text-anchor="start" fill="#000">f</text>
<text x="53.40" y="456.60" font-size="9.4" text-anchor="middle" fill="#000" stroke="#000" stroke-width="0.1">Epithelial cells</text>
<text x="133.20" y="456.60" font-size="9.4" text-anchor="middle" fill="#000" stroke="#000" stroke-width="0.1">CCC pairs</text>
<text x="224.50" y="455.80" font-size="9.4" text-anchor="middle" fill="#000" stroke="#000" stroke-width="0.1">NK/T cells</text>
<text x="297.40" y="455.80" font-size="9.4" text-anchor="middle" fill="#000" stroke="#000" stroke-width="0.1">Myeloid cells</text>
<text x="11.80" y="626.70" font-size="9.5" text-anchor="middle" fill="#000" transform="rotate(-90 11.80 626.70)" stroke="#000" stroke-width="0.1">Expression Level</text>
<text x="399.00" y="92.70" font-size="6.8" text-anchor="middle" font-weight="bold" fill="#000">CXCL12</text>
<path d="M374.69,130.20 L382.51,130.20 C382.38,130.17 382.30,130.09 381.73,130.03 C381.15,129.98 379.57,130.08 379.06,129.86 C378.55,129.65 378.72,131.28 378.66,128.76 C378.59,126.24 378.66,118.18 378.66,114.74 C378.65,111.30 378.61,109.22 378.60,108.12 C378.59,109.22 378.55,111.30 378.54,114.74 C378.54,118.18 378.61,126.24 378.54,128.76 C378.48,131.28 378.65,129.65 378.14,129.86 C377.63,130.08 376.05,129.98 375.47,130.03 C374.90,130.09 374.82,130.17 374.69,130.20 Z" fill="#9a0541" stroke="#222" stroke-width="0.48" stroke-linejoin="round"/>
<rect x="377.70" y="107.52" width="1.8" height="20.34" fill="url(#fade)"/>
<path d="M384.89,130.20 L392.71,130.20 C392.58,130.17 392.50,130.09 391.93,130.03 C391.35,129.98 389.77,130.08 389.26,129.86 C388.75,129.65 388.92,130.38 388.86,128.76 C388.79,127.14 388.86,122.28 388.86,120.12 C388.85,117.96 388.81,116.52 388.80,115.80 C388.79,116.52 388.75,117.96 388.74,120.12 C388.74,122.28 388.81,127.14 388.74,128.76 C388.68,130.38 388.85,129.65 388.34,129.86 C387.83,130.08 386.25,129.98 385.67,130.03 C385.10,130.09 385.02,130.17 384.89,130.20 Z" fill="#d91c78" stroke="#222" stroke-width="0.48" stroke-linejoin="round"/>
<rect x="387.90" y="115.20" width="1.8" height="12.66" fill="url(#fade)"/>
<path d="M395.09,130.20 L402.91,130.20 C402.78,130.17 402.70,130.09 402.13,130.03 C401.55,129.98 399.97,130.08 399.46,129.86 C398.95,129.65 399.12,132.40 399.06,128.76 C398.99,125.12 399.06,113.06 399.06,108.02 C399.05,102.98 399.01,100.10 399.00,98.52 C398.99,100.10 398.95,102.98 398.94,108.02 C398.94,113.06 399.01,125.12 398.94,128.76 C398.88,132.40 399.05,129.65 398.54,129.86 C398.03,130.08 396.45,129.98 395.87,130.03 C395.30,130.09 395.22,130.17 395.09,130.20 Z" fill="#df6db5" stroke="#222" stroke-width="0.48" stroke-linejoin="round"/>
<rect x="398.10" y="97.92" width="1.8" height="29.94" fill="url(#fade)"/>
<path d="M405.29,130.20 L413.11,130.20 C412.92,129.96 412.38,129.40 411.96,128.76 C411.54,128.12 410.77,127.72 410.58,126.36 C410.39,125.00 410.89,122.52 410.81,120.60 C410.73,118.68 410.34,116.76 410.12,114.84 C409.90,112.92 409.63,111.16 409.48,109.08 C409.32,107.00 409.25,103.48 409.20,102.36 C409.15,103.48 409.08,107.00 408.92,109.08 C408.77,111.16 408.50,112.92 408.28,114.84 C408.06,116.76 407.67,118.68 407.59,120.60 C407.51,122.52 408.01,125.00 407.82,126.36 C407.63,127.72 406.86,128.12 406.44,128.76 C406.02,129.40 405.48,129.96 405.29,130.20 Z" fill="#d7acdc" stroke="#222" stroke-width="0.48" stroke-linejoin="round"/>
<rect x="408.30" y="101.76" width="1.8" height="5.32" fill="url(#fade)"/>
<path d="M415.03,130.20 L423.77,130.20 C423.62,129.96 423.23,129.56 422.85,128.76 C422.47,127.96 421.51,127.24 421.47,125.40 C421.43,123.56 422.70,120.12 422.62,117.72 C422.54,115.32 421.49,113.08 421.01,111.00 C420.53,108.92 420.04,107.00 419.77,105.24 C419.50,103.48 419.46,101.24 419.40,100.44 C419.34,101.24 419.30,103.48 419.03,105.24 C418.76,107.00 418.27,108.92 417.79,111.00 C417.31,113.08 416.26,115.32 416.18,117.72 C416.10,120.12 417.37,123.56 417.33,125.40 C417.29,127.24 416.33,127.96 415.95,128.76 C415.57,129.56 415.18,129.96 415.03,130.20 Z" fill="#fbc0bc" stroke="#222" stroke-width="0.48" stroke-linejoin="round"/>
<rect x="418.50" y="99.84" width="1.8" height="3.40" fill="url(#fade)"/>
<line x1="372.40" y1="96.94" x2="372.40" y2="132.18" stroke="#4a4a4a" stroke-width="0.8"/>
<line x1="372.00" y1="131.78" x2="425.60" y2="131.78" stroke="#4a4a4a" stroke-width="0.8"/>
<line x1="370.70" y1="130.20" x2="372.40" y2="130.20" stroke="#4a4a4a" stroke-width="0.6"/>
<text x="369.50" y="131.90" font-size="4.8" text-anchor="end" fill="#222" stroke="#222" stroke-width="0.07">0</text>
<line x1="370.70" y1="120.60" x2="372.40" y2="120.60" stroke="#4a4a4a" stroke-width="0.6"/>
<text x="369.50" y="122.30" font-size="4.8" text-anchor="end" fill="#222" stroke="#222" stroke-width="0.07">1</text>
<line x1="370.70" y1="111.00" x2="372.40" y2="111.00" stroke="#4a4a4a" stroke-width="0.6"/>
<text x="369.50" y="112.70" font-size="4.8" text-anchor="end" fill="#222" stroke="#222" stroke-width="0.07">2</text>
<line x1="370.70" y1="101.40" x2="372.40" y2="101.40" stroke="#4a4a4a" stroke-width="0.6"/>
<text x="369.50" y="103.10" font-size="4.8" text-anchor="end" fill="#222" stroke="#222" stroke-width="0.07">3</text>
<line x1="378.60" y1="131.78" x2="378.60" y2="133.28" stroke="#4a4a4a" stroke-width="0.6"/>
<text x="380.40" y="134.58" font-size="5.1" text-anchor="end" fill="#222" transform="rotate(-90 380.40 134.58)" stroke="#222" stroke-width="0.07">LH3</text>
<line x1="388.80" y1="131.78" x2="388.80" y2="133.28" stroke="#4a4a4a" stroke-width="0.6"/>
<text x="390.60" y="134.58" font-size="5.1" text-anchor="end" fill="#222" transform="rotate(-90 390.60 134.58)" stroke="#222" stroke-width="0.07">LH5</text>
<line x1="399.00" y1="131.78" x2="399.00" y2="133.28" stroke="#4a4a4a" stroke-width="0.6"/>
<text x="400.80" y="134.58" font-size="5.1" text-anchor="end" fill="#222" transform="rotate(-90 400.80 134.58)" stroke="#222" stroke-width="0.07">LH7</text>
<line x1="409.20" y1="131.78" x2="409.20" y2="133.28" stroke="#4a4a4a" stroke-width="0.6"/>
<text x="411.00" y="134.58" font-size="5.1" text-anchor="end" fill="#222" transform="rotate(-90 411.00 134.58)" stroke="#222" stroke-width="0.07">LH9</text>
<line x1="419.40" y1="131.78" x2="419.40" y2="133.28" stroke="#4a4a4a" stroke-width="0.6"/>
<text x="421.20" y="134.58" font-size="5.1" text-anchor="end" fill="#222" transform="rotate(-90 421.20 134.58)" stroke="#222" stroke-width="0.07">LH11</text>
<text x="399.00" y="203.20" font-size="6.8" text-anchor="middle" font-weight="bold" fill="#000">ANXA1</text>
<path d="M374.49,241.30 L382.31,241.30 C382.18,241.27 382.10,241.20 381.53,241.15 C380.95,241.10 379.37,241.19 378.86,240.99 C378.35,240.80 378.52,242.69 378.46,239.99 C378.39,237.28 378.46,228.48 378.46,224.76 C378.45,221.04 378.41,218.86 378.40,217.68 C378.39,218.86 378.35,221.04 378.34,224.76 C378.34,228.48 378.41,237.28 378.34,239.99 C378.28,242.69 378.45,240.80 377.94,240.99 C377.43,241.19 375.85,241.10 375.27,241.15 C374.70,241.20 374.62,241.27 374.49,241.30 Z" fill="#9a0541" stroke="#222" stroke-width="0.48" stroke-linejoin="round"/>
<rect x="377.50" y="217.08" width="1.8" height="21.92" fill="url(#fade)"/>
<path d="M384.79,241.30 L392.61,241.30 C392.48,241.21 392.40,240.95 391.83,240.78 C391.25,240.60 389.67,240.60 389.16,240.25 C388.65,239.90 388.82,238.94 388.76,238.68 C388.69,238.41 388.66,239.04 388.79,238.68 C388.92,238.31 389.53,237.29 389.53,236.49 C389.53,235.69 388.92,235.31 388.79,233.86 C388.66,232.42 388.77,229.79 388.76,227.83 C388.74,225.86 388.71,223.01 388.70,222.05 C388.69,223.01 388.66,225.86 388.64,227.83 C388.63,229.79 388.74,232.42 388.61,233.86 C388.48,235.31 387.87,235.69 387.87,236.49 C387.87,237.29 388.48,238.31 388.61,238.68 C388.74,239.04 388.71,238.41 388.64,238.68 C388.58,238.94 388.75,239.90 388.24,240.25 C387.73,240.60 386.15,240.60 385.57,240.78 C385.00,240.95 384.92,241.21 384.79,241.30 Z" fill="#d91c78" stroke="#222" stroke-width="0.48" stroke-linejoin="round"/>
<rect x="387.80" y="221.45" width="1.8" height="13.04" fill="url(#fade)"/>
<path d="M395.09,241.30 L402.91,241.30 C402.78,241.21 402.70,240.95 402.13,240.78 C401.55,240.60 399.97,240.60 399.46,240.25 C398.95,239.90 399.12,239.30 399.06,238.68 C398.99,238.05 399.01,237.22 399.09,236.49 C399.17,235.76 399.55,235.10 399.55,234.30 C399.55,233.50 399.17,234.29 399.09,231.68 C399.01,229.06 399.07,222.43 399.06,218.64 C399.04,214.85 399.01,210.54 399.00,208.93 C398.99,210.54 398.96,214.85 398.94,218.64 C398.93,222.43 398.99,229.06 398.91,231.68 C398.83,234.29 398.45,233.50 398.45,234.30 C398.45,235.10 398.83,235.76 398.91,236.49 C398.99,237.22 399.01,238.05 398.94,238.68 C398.88,239.30 399.05,239.90 398.54,240.25 C398.03,240.60 396.45,240.60 395.87,240.78 C395.30,240.95 395.22,241.21 395.09,241.30 Z" fill="#df6db5" stroke="#222" stroke-width="0.48" stroke-linejoin="round"/>
<rect x="398.10" y="208.33" width="1.8" height="23.97" fill="url(#fade)"/>
<path d="M405.39,241.30 L413.21,241.30 C412.90,241.01 411.75,240.43 411.37,239.55 C410.99,238.68 410.93,237.51 410.91,236.05 C410.89,234.59 411.35,232.55 411.23,230.80 C411.12,229.05 410.50,227.45 410.22,225.55 C409.94,223.65 409.73,222.05 409.58,219.43 C409.42,216.80 409.35,211.40 409.30,209.80 C409.25,211.40 409.18,216.80 409.02,219.43 C408.87,222.05 408.66,223.65 408.38,225.55 C408.10,227.45 407.48,229.05 407.37,230.80 C407.25,232.55 407.71,234.59 407.69,236.05 C407.67,237.51 407.61,238.68 407.23,239.55 C406.85,240.43 405.70,241.01 405.39,241.30 Z" fill="#d7acdc" stroke="#222" stroke-width="0.48" stroke-linejoin="round"/>
<rect x="408.40" y="209.20" width="1.8" height="8.22" fill="url(#fade)"/>
<path d="M415.23,241.30 L423.97,241.30 C423.70,241.01 422.70,240.28 422.36,239.55 C422.01,238.82 421.82,238.09 421.90,236.93 C421.98,235.76 422.90,234.30 422.82,232.55 C422.74,230.80 421.90,228.32 421.44,226.43 C420.98,224.53 420.37,223.07 420.06,221.18 C419.75,219.28 419.68,216.07 419.60,215.05 C419.52,216.07 419.45,219.28 419.14,221.18 C418.83,223.07 418.22,224.53 417.76,226.43 C417.30,228.32 416.46,230.80 416.38,232.55 C416.30,234.30 417.22,235.76 417.30,236.93 C417.38,238.09 417.18,238.82 416.84,239.55 C416.50,240.28 415.50,241.01 415.23,241.30 Z" fill="#fbc0bc" stroke="#222" stroke-width="0.48" stroke-linejoin="round"/>
<rect x="418.70" y="214.45" width="1.8" height="4.72" fill="url(#fade)"/>
<line x1="372.90" y1="207.31" x2="372.90" y2="243.32" stroke="#4a4a4a" stroke-width="0.8"/>
<line x1="372.50" y1="242.92" x2="425.10" y2="242.92" stroke="#4a4a4a" stroke-width="0.8"/>
<line x1="371.20" y1="241.30" x2="372.90" y2="241.30" stroke="#4a4a4a" stroke-width="0.6"/>
<text x="370.00" y="243.00" font-size="4.8" text-anchor="end" fill="#222" stroke="#222" stroke-width="0.07">0</text>
<line x1="371.20" y1="232.55" x2="372.90" y2="232.55" stroke="#4a4a4a" stroke-width="0.6"/>
<text x="370.00" y="234.25" font-size="4.8" text-anchor="end" fill="#222" stroke="#222" stroke-width="0.07">1</text>
<line x1="371.20" y1="223.80" x2="372.90" y2="223.80" stroke="#4a4a4a" stroke-width="0.6"/>
<text x="370.00" y="225.50" font-size="4.8" text-anchor="end" fill="#222" stroke="#222" stroke-width="0.07">2</text>
<line x1="371.20" y1="215.05" x2="372.90" y2="215.05" stroke="#4a4a4a" stroke-width="0.6"/>
<text x="370.00" y="216.75" font-size="4.8" text-anchor="end" fill="#222" stroke="#222" stroke-width="0.07">3</text>
<line x1="378.40" y1="242.92" x2="378.40" y2="244.42" stroke="#4a4a4a" stroke-width="0.6"/>
<text x="380.20" y="245.72" font-size="5.1" text-anchor="end" fill="#222" transform="rotate(-90 380.20 245.72)" stroke="#222" stroke-width="0.07">LH3</text>
<line x1="388.70" y1="242.92" x2="388.70" y2="244.42" stroke="#4a4a4a" stroke-width="0.6"/>
<text x="390.50" y="245.72" font-size="5.1" text-anchor="end" fill="#222" transform="rotate(-90 390.50 245.72)" stroke="#222" stroke-width="0.07">LH5</text>
<line x1="399.00" y1="242.92" x2="399.00" y2="244.42" stroke="#4a4a4a" stroke-width="0.6"/>
<text x="400.80" y="245.72" font-size="5.1" text-anchor="end" fill="#222" transform="rotate(-90 400.80 245.72)" stroke="#222" stroke-width="0.07">LH7</text>
<line x1="409.30" y1="242.92" x2="409.30" y2="244.42" stroke="#4a4a4a" stroke-width="0.6"/>
<text x="411.10" y="245.72" font-size="5.1" text-anchor="end" fill="#222" transform="rotate(-90 411.10 245.72)" stroke="#222" stroke-width="0.07">LH9</text>
<line x1="419.60" y1="242.92" x2="419.60" y2="244.42" stroke="#4a4a4a" stroke-width="0.6"/>
<text x="421.40" y="245.72" font-size="5.1" text-anchor="end" fill="#222" transform="rotate(-90 421.40 245.72)" stroke="#222" stroke-width="0.07">LH11</text>
<text x="398.30" y="312.90" font-size="6.8" text-anchor="middle" font-weight="bold" fill="#000">HLA–C</text>
<path d="M373.46,350.70 L381.74,350.70 C381.70,350.62 381.97,350.43 381.51,350.23 C381.05,350.04 379.40,349.91 378.98,349.53 C378.56,349.15 378.93,348.68 378.98,347.97 C379.03,347.25 379.34,346.35 379.30,345.24 C379.26,344.13 378.97,342.51 378.75,341.34 C378.53,340.17 378.16,340.04 377.97,338.22 C377.78,336.40 377.66,331.72 377.60,330.42 C377.54,331.72 377.42,336.40 377.23,338.22 C377.04,340.04 376.67,340.17 376.45,341.34 C376.23,342.51 375.94,344.13 375.90,345.24 C375.86,346.35 376.17,347.25 376.22,347.97 C376.27,348.68 376.64,349.15 376.22,349.53 C375.80,349.91 374.15,350.04 373.69,350.23 C373.23,350.43 373.50,350.62 373.46,350.70 Z" fill="#9a0541" stroke="#222" stroke-width="0.48" stroke-linejoin="round"/>
<rect x="376.70" y="329.82" width="1.8" height="6.40" fill="url(#fade)"/>
<path d="M383.67,350.70 L392.23,350.70 C392.19,350.62 392.29,350.44 392.00,350.23 C391.71,350.02 390.73,350.02 390.48,349.45 C390.23,348.88 390.68,347.89 390.53,346.80 C390.37,345.71 389.91,344.59 389.56,342.90 C389.21,341.21 388.68,338.61 388.41,336.66 C388.14,334.71 388.03,332.11 387.95,331.20 C387.87,332.11 387.76,334.71 387.49,336.66 C387.22,338.61 386.69,341.21 386.34,342.90 C385.99,344.59 385.53,345.71 385.37,346.80 C385.22,347.89 385.67,348.88 385.42,349.45 C385.17,350.02 384.19,350.02 383.90,350.23 C383.61,350.44 383.71,350.62 383.67,350.70 Z" fill="#d91c78" stroke="#222" stroke-width="0.48" stroke-linejoin="round"/>
<rect x="387.05" y="330.60" width="1.8" height="4.06" fill="url(#fade)"/>
<path d="M394.02,350.70 L402.58,350.70 C402.52,350.62 402.69,350.45 402.21,350.23 C401.73,350.01 400.10,349.95 399.68,349.37 C399.26,348.80 399.53,348.53 399.68,346.80 C399.83,345.07 400.68,341.21 400.60,339.00 C400.52,336.79 399.57,334.97 399.22,333.54 C398.88,332.11 398.68,332.24 398.53,330.42 C398.38,328.60 398.34,323.92 398.30,322.62 C398.26,323.92 398.22,328.60 398.07,330.42 C397.92,332.24 397.73,332.11 397.38,333.54 C397.03,334.97 396.08,336.79 396.00,339.00 C395.92,341.21 396.77,345.07 396.92,346.80 C397.07,348.53 397.34,348.80 396.92,349.37 C396.50,349.95 394.87,350.01 394.39,350.23 C393.91,350.45 394.08,350.62 394.02,350.70 Z" fill="#df6db5" stroke="#222" stroke-width="0.48" stroke-linejoin="round"/>
<rect x="397.40" y="322.02" width="1.8" height="9.52" fill="url(#fade)"/>
<path d="M404.37,350.70 L412.93,350.70 C412.87,350.62 412.97,350.49 412.56,350.23 C412.15,349.97 410.89,349.71 410.49,349.14 C410.09,348.57 410.01,348.10 410.17,346.80 C410.32,345.50 411.11,343.29 411.41,341.34 C411.71,339.39 412.19,337.05 411.96,335.10 C411.73,333.15 410.54,331.07 410.03,329.64 C409.52,328.21 409.11,327.82 408.88,326.52 C408.65,325.22 408.69,322.62 408.65,321.84 C408.61,322.62 408.65,325.22 408.42,326.52 C408.19,327.82 407.78,328.21 407.27,329.64 C406.76,331.07 405.57,333.15 405.34,335.10 C405.11,337.05 405.59,339.39 405.89,341.34 C406.19,343.29 406.98,345.50 407.13,346.80 C407.29,348.10 407.21,348.57 406.81,349.14 C406.41,349.71 405.15,349.97 404.74,350.23 C404.33,350.49 404.43,350.62 404.37,350.70 Z" fill="#d7acdc" stroke="#222" stroke-width="0.48" stroke-linejoin="round"/>
<rect x="407.75" y="321.24" width="1.8" height="6.40" fill="url(#fade)"/>
<path d="M416.01,350.70 L421.99,350.70 C421.72,350.50 420.75,350.05 420.38,349.53 C420.01,349.01 419.55,348.69 419.78,347.58 C420.01,346.47 421.12,344.98 421.76,342.90 C422.40,340.82 423.68,337.44 423.60,335.10 C423.52,332.76 421.99,330.42 421.30,328.86 C420.61,327.30 419.84,327.30 419.46,325.74 C419.08,324.18 419.08,320.54 419.00,319.50 C418.92,320.54 418.92,324.18 418.54,325.74 C418.16,327.30 417.39,327.30 416.70,328.86 C416.01,330.42 414.48,332.76 414.40,335.10 C414.32,337.44 415.60,340.82 416.24,342.90 C416.88,344.98 417.99,346.47 418.22,347.58 C418.45,348.69 417.99,349.01 417.62,349.53 C417.25,350.05 416.28,350.50 416.01,350.70 Z" fill="#fbc0bc" stroke="#222" stroke-width="0.48" stroke-linejoin="round"/>
<rect x="418.10" y="318.90" width="1.8" height="4.84" fill="url(#fade)"/>
<line x1="371.00" y1="317.94" x2="371.00" y2="352.66" stroke="#4a4a4a" stroke-width="0.8"/>
<line x1="370.60" y1="352.26" x2="425.60" y2="352.26" stroke="#4a4a4a" stroke-width="0.8"/>
<line x1="369.30" y1="350.70" x2="371.00" y2="350.70" stroke="#4a4a4a" stroke-width="0.6"/>
<text x="368.10" y="352.40" font-size="4.8" text-anchor="end" fill="#222" stroke="#222" stroke-width="0.07">0</text>
<line x1="369.30" y1="342.90" x2="371.00" y2="342.90" stroke="#4a4a4a" stroke-width="0.6"/>
<text x="368.10" y="344.60" font-size="4.8" text-anchor="end" fill="#222" stroke="#222" stroke-width="0.07">1</text>
<line x1="369.30" y1="335.10" x2="371.00" y2="335.10" stroke="#4a4a4a" stroke-width="0.6"/>
<text x="368.10" y="336.80" font-size="4.8" text-anchor="end" fill="#222" stroke="#222" stroke-width="0.07">2</text>
<line x1="369.30" y1="327.30" x2="371.00" y2="327.30" stroke="#4a4a4a" stroke-width="0.6"/>
<text x="368.10" y="329.00" font-size="4.8" text-anchor="end" fill="#222" stroke="#222" stroke-width="0.07">3</text>
<line x1="369.30" y1="319.50" x2="371.00" y2="319.50" stroke="#4a4a4a" stroke-width="0.6"/>
<text x="368.10" y="321.20" font-size="4.8" text-anchor="end" fill="#222" stroke="#222" stroke-width="0.07">4</text>
<line x1="377.60" y1="352.26" x2="377.60" y2="353.76" stroke="#4a4a4a" stroke-width="0.6"/>
<text x="379.40" y="355.06" font-size="5.1" text-anchor="end" fill="#222" transform="rotate(-90 379.40 355.06)" stroke="#222" stroke-width="0.07">LH3</text>
<line x1="387.95" y1="352.26" x2="387.95" y2="353.76" stroke="#4a4a4a" stroke-width="0.6"/>
<text x="389.75" y="355.06" font-size="5.1" text-anchor="end" fill="#222" transform="rotate(-90 389.75 355.06)" stroke="#222" stroke-width="0.07">LH5</text>
<line x1="398.30" y1="352.26" x2="398.30" y2="353.76" stroke="#4a4a4a" stroke-width="0.6"/>
<text x="400.10" y="355.06" font-size="5.1" text-anchor="end" fill="#222" transform="rotate(-90 400.10 355.06)" stroke="#222" stroke-width="0.07">LH7</text>
<line x1="408.65" y1="352.26" x2="408.65" y2="353.76" stroke="#4a4a4a" stroke-width="0.6"/>
<text x="410.45" y="355.06" font-size="5.1" text-anchor="end" fill="#222" transform="rotate(-90 410.45 355.06)" stroke="#222" stroke-width="0.07">LH9</text>
<line x1="419.00" y1="352.26" x2="419.00" y2="353.76" stroke="#4a4a4a" stroke-width="0.6"/>
<text x="420.80" y="355.06" font-size="5.1" text-anchor="end" fill="#222" transform="rotate(-90 420.80 355.06)" stroke="#222" stroke-width="0.07">LH11</text>
<text x="399.00" y="409.20" font-size="6.8" text-anchor="middle" font-weight="bold" fill="#000">C3</text>
<path d="M374.49,447.30 L382.31,447.30 C382.18,447.28 382.10,447.20 381.53,447.15 C380.95,447.11 379.37,447.19 378.86,447.01 C378.35,446.82 378.52,447.75 378.46,446.05 C378.39,444.34 378.46,439.08 378.46,436.78 C378.45,434.48 378.41,433.02 378.40,432.27 C378.39,433.02 378.35,434.48 378.34,436.78 C378.34,439.08 378.41,444.34 378.34,446.05 C378.28,447.75 378.45,446.82 377.94,447.01 C377.43,447.19 375.85,447.11 375.27,447.15 C374.70,447.20 374.62,447.28 374.49,447.30 Z" fill="#9a0541" stroke="#222" stroke-width="0.48" stroke-linejoin="round"/>
<rect x="377.50" y="431.67" width="1.8" height="13.34" fill="url(#fade)"/>
<path d="M384.79,447.30 L392.61,447.30 C392.48,447.28 392.40,447.20 391.83,447.15 C391.25,447.11 389.67,447.19 389.16,447.01 C388.65,446.82 388.82,446.58 388.76,446.05 C388.69,445.51 388.76,444.42 388.76,443.79 C388.75,443.17 388.71,442.54 388.70,442.29 C388.69,442.54 388.65,443.17 388.64,443.79 C388.64,444.42 388.71,445.51 388.64,446.05 C388.58,446.58 388.75,446.82 388.24,447.01 C387.73,447.19 386.15,447.11 385.57,447.15 C385.00,447.20 384.92,447.28 384.79,447.30 Z" fill="#d91c78" stroke="#222" stroke-width="0.48" stroke-linejoin="round"/>
<rect x="387.80" y="441.69" width="1.8" height="3.32" fill="url(#fade)"/>
<path d="M395.09,447.30 L402.91,447.30 C402.78,447.28 402.70,447.20 402.13,447.15 C401.55,447.11 399.97,447.19 399.46,447.01 C398.95,446.82 399.12,449.60 399.06,446.05 C398.99,442.49 399.06,430.61 399.06,425.67 C399.05,420.73 399.01,417.95 399.00,416.41 C398.99,417.95 398.95,420.73 398.94,425.67 C398.94,430.61 399.01,442.49 398.94,446.05 C398.88,449.60 399.05,446.82 398.54,447.01 C398.03,447.19 396.45,447.11 395.87,447.15 C395.30,447.20 395.22,447.28 395.09,447.30 Z" fill="#df6db5" stroke="#222" stroke-width="0.48" stroke-linejoin="round"/>
<rect x="398.10" y="415.81" width="1.8" height="29.20" fill="url(#fade)"/>
<path d="M404.79,447.30 L413.81,447.30 C413.44,447.09 412.15,446.53 411.60,446.05 C411.05,445.56 410.53,445.84 410.50,444.38 C410.46,442.92 411.34,439.58 411.37,437.28 C411.40,434.98 410.96,432.55 410.68,430.60 C410.40,428.65 409.90,427.96 409.67,425.59 C409.44,423.22 409.36,417.94 409.30,416.41 C409.24,417.94 409.16,423.22 408.93,425.59 C408.70,427.96 408.20,428.65 407.92,430.60 C407.64,432.55 407.20,434.98 407.23,437.28 C407.26,439.58 408.14,442.92 408.10,444.38 C408.07,445.84 407.55,445.56 407.00,446.05 C406.45,446.53 405.16,447.09 404.79,447.30 Z" fill="#d7acdc" stroke="#222" stroke-width="0.48" stroke-linejoin="round"/>
<rect x="408.40" y="415.81" width="1.8" height="7.79" fill="url(#fade)"/>
<path d="M415.60,447.30 L423.60,447.30 C423.39,447.02 422.58,446.33 422.36,445.63 C422.14,444.93 421.98,444.52 422.27,443.12 C422.56,441.73 424.09,439.65 424.11,437.28 C424.12,434.91 422.96,431.44 422.36,428.93 C421.76,426.43 420.94,423.78 420.52,422.25 C420.10,420.72 419.98,421.00 419.83,419.75 C419.68,418.49 419.64,415.57 419.60,414.74 C419.56,415.57 419.52,418.49 419.37,419.75 C419.22,421.00 419.10,420.72 418.68,422.25 C418.26,423.78 417.44,426.43 416.84,428.93 C416.24,431.44 415.08,434.91 415.09,437.28 C415.11,439.65 416.64,441.73 416.93,443.12 C417.22,444.52 417.06,444.93 416.84,445.63 C416.62,446.33 415.80,447.02 415.60,447.30 Z" fill="#fbc0bc" stroke="#222" stroke-width="0.48" stroke-linejoin="round"/>
<rect x="418.70" y="414.13" width="1.8" height="6.12" fill="url(#fade)"/>
<line x1="371.90" y1="413.11" x2="371.90" y2="449.33" stroke="#4a4a4a" stroke-width="0.8"/>
<line x1="371.50" y1="448.93" x2="426.10" y2="448.93" stroke="#4a4a4a" stroke-width="0.8"/>
<line x1="370.20" y1="447.30" x2="371.90" y2="447.30" stroke="#4a4a4a" stroke-width="0.6"/>
<text x="369.00" y="449.00" font-size="4.8" text-anchor="end" fill="#222" stroke="#222" stroke-width="0.07">0</text>
<line x1="370.20" y1="438.95" x2="371.90" y2="438.95" stroke="#4a4a4a" stroke-width="0.6"/>
<text x="369.00" y="440.65" font-size="4.8" text-anchor="end" fill="#222" stroke="#222" stroke-width="0.07">1</text>
<line x1="370.20" y1="430.60" x2="371.90" y2="430.60" stroke="#4a4a4a" stroke-width="0.6"/>
<text x="369.00" y="432.30" font-size="4.8" text-anchor="end" fill="#222" stroke="#222" stroke-width="0.07">2</text>
<line x1="370.20" y1="422.25" x2="371.90" y2="422.25" stroke="#4a4a4a" stroke-width="0.6"/>
<text x="369.00" y="423.95" font-size="4.8" text-anchor="end" fill="#222" stroke="#222" stroke-width="0.07">3</text>
<line x1="370.20" y1="413.90" x2="371.90" y2="413.90" stroke="#4a4a4a" stroke-width="0.6"/>
<text x="369.00" y="415.60" font-size="4.8" text-anchor="end" fill="#222" stroke="#222" stroke-width="0.07">4</text>
<line x1="378.40" y1="448.93" x2="378.40" y2="450.43" stroke="#4a4a4a" stroke-width="0.6"/>
<text x="380.20" y="451.73" font-size="5.1" text-anchor="end" fill="#222" transform="rotate(-90 380.20 451.73)" stroke="#222" stroke-width="0.07">LH3</text>
<line x1="388.70" y1="448.93" x2="388.70" y2="450.43" stroke="#4a4a4a" stroke-width="0.6"/>
<text x="390.50" y="451.73" font-size="5.1" text-anchor="end" fill="#222" transform="rotate(-90 390.50 451.73)" stroke="#222" stroke-width="0.07">LH5</text>
<line x1="399.00" y1="448.93" x2="399.00" y2="450.43" stroke="#4a4a4a" stroke-width="0.6"/>
<text x="400.80" y="451.73" font-size="5.1" text-anchor="end" fill="#222" transform="rotate(-90 400.80 451.73)" stroke="#222" stroke-width="0.07">LH7</text>
<line x1="409.30" y1="448.93" x2="409.30" y2="450.43" stroke="#4a4a4a" stroke-width="0.6"/>
<text x="411.10" y="451.73" font-size="5.1" text-anchor="end" fill="#222" transform="rotate(-90 411.10 451.73)" stroke="#222" stroke-width="0.07">LH9</text>
<line x1="419.60" y1="448.93" x2="419.60" y2="450.43" stroke="#4a4a4a" stroke-width="0.6"/>
<text x="421.40" y="451.73" font-size="5.1" text-anchor="end" fill="#222" transform="rotate(-90 421.40 451.73)" stroke="#222" stroke-width="0.07">LH11</text>
<text x="398.40" y="506.30" font-size="6.8" text-anchor="middle" font-weight="bold" fill="#000">CD55</text>
<path d="M373.69,544.50 L381.51,544.50 C381.38,544.47 381.30,544.37 380.73,544.30 C380.15,544.23 378.57,544.35 378.06,544.10 C377.55,543.84 377.72,545.93 377.66,542.77 C377.59,539.60 377.66,529.43 377.66,525.10 C377.65,520.76 377.61,518.17 377.60,516.78 C377.59,518.17 377.55,520.76 377.54,525.10 C377.54,529.43 377.61,539.60 377.54,542.77 C377.48,545.93 377.65,543.84 377.14,544.10 C376.63,544.35 375.05,544.23 374.47,544.30 C373.90,544.37 373.82,544.47 373.69,544.50 Z" fill="#9a0541" stroke="#222" stroke-width="0.48" stroke-linejoin="round"/>
<rect x="376.70" y="516.18" width="1.8" height="25.92" fill="url(#fade)"/>
<path d="M384.09,544.50 L391.91,544.50 C391.78,544.47 391.70,544.37 391.13,544.30 C390.55,544.23 388.97,544.35 388.46,544.10 C387.95,543.84 388.12,545.26 388.06,542.77 C387.99,540.27 388.06,532.51 388.06,529.14 C388.05,525.77 388.01,523.65 388.00,522.55 C387.99,523.65 387.95,525.77 387.94,529.14 C387.94,532.51 388.01,540.27 387.94,542.77 C387.88,545.26 388.05,543.84 387.54,544.10 C387.03,544.35 385.45,544.23 384.87,544.30 C384.30,544.37 384.22,544.47 384.09,544.50 Z" fill="#d91c78" stroke="#222" stroke-width="0.48" stroke-linejoin="round"/>
<rect x="387.10" y="521.95" width="1.8" height="20.14" fill="url(#fade)"/>
<path d="M394.49,544.50 L402.31,544.50 C402.18,544.42 402.10,544.19 401.53,544.04 C400.95,543.88 399.37,543.88 398.86,543.58 C398.35,543.27 398.52,542.71 398.46,542.19 C398.39,541.67 398.33,541.23 398.49,540.46 C398.65,539.69 399.41,538.63 399.41,537.57 C399.41,536.51 398.65,536.45 398.49,534.11 C398.33,531.76 398.47,526.75 398.46,523.48 C398.44,520.21 398.41,515.97 398.40,514.47 C398.39,515.97 398.36,520.21 398.34,523.48 C398.33,526.75 398.47,531.76 398.31,534.11 C398.15,536.45 397.39,536.51 397.39,537.57 C397.39,538.63 398.15,539.69 398.31,540.46 C398.47,541.23 398.41,541.67 398.34,542.19 C398.28,542.71 398.45,543.27 397.94,543.58 C397.43,543.88 395.85,543.88 395.27,544.04 C394.70,544.19 394.62,544.42 394.49,544.50 Z" fill="#df6db5" stroke="#222" stroke-width="0.48" stroke-linejoin="round"/>
<rect x="397.50" y="513.87" width="1.8" height="21.70" fill="url(#fade)"/>
<path d="M404.80,544.50 L412.80,544.50 C412.52,544.31 411.54,543.92 411.10,543.35 C410.66,542.77 410.26,542.38 410.18,541.03 C410.10,539.69 410.75,537.18 410.64,535.26 C410.52,533.34 409.76,531.41 409.49,529.49 C409.22,527.56 409.14,525.63 409.03,523.71 C408.91,521.79 408.84,518.90 408.80,517.93 C408.76,518.90 408.68,521.79 408.57,523.71 C408.45,525.63 408.38,527.56 408.11,529.49 C407.84,531.41 407.07,533.34 406.96,535.26 C406.84,537.18 407.50,539.69 407.42,541.03 C407.34,542.38 406.94,542.77 406.50,543.35 C406.06,543.92 405.08,544.31 404.80,544.50 Z" fill="#d7acdc" stroke="#222" stroke-width="0.48" stroke-linejoin="round"/>
<rect x="407.90" y="517.33" width="1.8" height="10.15" fill="url(#fade)"/>
<path d="M415.20,544.50 L423.20,544.50 C423.00,544.31 422.28,543.73 421.96,543.35 C421.64,542.96 421.23,543.15 421.27,542.19 C421.31,541.23 422.23,539.30 422.19,537.57 C422.15,535.84 421.42,533.33 421.04,531.79 C420.66,530.25 420.16,530.06 419.89,528.33 C419.62,526.60 419.55,524.10 419.43,521.40 C419.31,518.70 419.24,513.70 419.20,512.16 C419.16,513.70 419.08,518.70 418.97,521.40 C418.85,524.10 418.78,526.60 418.51,528.33 C418.24,530.06 417.74,530.25 417.36,531.79 C416.98,533.33 416.25,535.84 416.21,537.57 C416.17,539.30 417.09,541.23 417.13,542.19 C417.17,543.15 416.76,542.96 416.44,543.35 C416.12,543.73 415.40,544.31 415.20,544.50 Z" fill="#fbc0bc" stroke="#222" stroke-width="0.48" stroke-linejoin="round"/>
<rect x="418.30" y="511.56" width="1.8" height="14.77" fill="url(#fade)"/>
<line x1="371.70" y1="510.54" x2="371.70" y2="546.52" stroke="#4a4a4a" stroke-width="0.8"/>
<line x1="371.30" y1="546.12" x2="425.10" y2="546.12" stroke="#4a4a4a" stroke-width="0.8"/>
<line x1="370.00" y1="544.50" x2="371.70" y2="544.50" stroke="#4a4a4a" stroke-width="0.6"/>
<text x="368.80" y="546.20" font-size="4.8" text-anchor="end" fill="#222" stroke="#222" stroke-width="0.07">0</text>
<line x1="370.00" y1="532.95" x2="371.70" y2="532.95" stroke="#4a4a4a" stroke-width="0.6"/>
<text x="368.80" y="534.65" font-size="4.8" text-anchor="end" fill="#222" stroke="#222" stroke-width="0.07">1</text>
<line x1="370.00" y1="521.40" x2="371.70" y2="521.40" stroke="#4a4a4a" stroke-width="0.6"/>
<text x="368.80" y="523.10" font-size="4.8" text-anchor="end" fill="#222" stroke="#222" stroke-width="0.07">2</text>
<line x1="377.60" y1="546.12" x2="377.60" y2="547.62" stroke="#4a4a4a" stroke-width="0.6"/>
<text x="379.40" y="548.92" font-size="5.1" text-anchor="end" fill="#222" transform="rotate(-90 379.40 548.92)" stroke="#222" stroke-width="0.07">LH3</text>
<line x1="388.00" y1="546.12" x2="388.00" y2="547.62" stroke="#4a4a4a" stroke-width="0.6"/>
<text x="389.80" y="548.92" font-size="5.1" text-anchor="end" fill="#222" transform="rotate(-90 389.80 548.92)" stroke="#222" stroke-width="0.07">LH5</text>
<line x1="398.40" y1="546.12" x2="398.40" y2="547.62" stroke="#4a4a4a" stroke-width="0.6"/>
<text x="400.20" y="548.92" font-size="5.1" text-anchor="end" fill="#222" transform="rotate(-90 400.20 548.92)" stroke="#222" stroke-width="0.07">LH7</text>
<line x1="408.80" y1="546.12" x2="408.80" y2="547.62" stroke="#4a4a4a" stroke-width="0.6"/>
<text x="410.60" y="548.92" font-size="5.1" text-anchor="end" fill="#222" transform="rotate(-90 410.60 548.92)" stroke="#222" stroke-width="0.07">LH9</text>
<line x1="419.20" y1="546.12" x2="419.20" y2="547.62" stroke="#4a4a4a" stroke-width="0.6"/>
<text x="421.00" y="548.92" font-size="5.1" text-anchor="end" fill="#222" transform="rotate(-90 421.00 548.92)" stroke="#222" stroke-width="0.07">LH11</text>
<text x="577.70" y="42.10" font-size="6.8" text-anchor="middle" font-weight="bold" fill="#000">CXCR3</text>
<path d="M552.86,79.70 L561.14,79.70 C561.00,79.61 560.93,79.33 560.31,79.14 C559.70,78.95 558.00,78.95 557.46,78.58 C556.92,78.20 557.12,80.24 557.06,76.89 C556.99,73.53 557.06,63.03 557.06,58.44 C557.05,53.84 557.01,50.84 557.00,49.33 C556.99,50.84 556.95,53.84 556.94,58.44 C556.94,63.03 557.01,73.53 556.94,76.89 C556.88,80.24 557.08,78.20 556.54,78.58 C556.00,78.95 554.30,78.95 553.69,79.14 C553.07,79.33 553.00,79.61 552.86,79.70 Z" fill="#9a0541" stroke="#222" stroke-width="0.48" stroke-linejoin="round"/>
<rect x="556.10" y="48.73" width="1.8" height="27.85" fill="url(#fade)"/>
<path d="M563.21,79.70 L571.49,79.70 C571.35,79.61 571.28,79.33 570.66,79.14 C570.05,78.95 568.35,78.95 567.81,78.58 C567.27,78.20 567.47,78.11 567.41,76.89 C567.34,75.67 567.37,72.67 567.44,71.26 C567.51,69.86 567.81,69.48 567.81,68.45 C567.81,67.42 567.51,66.22 567.44,65.08 C567.37,63.93 567.42,63.46 567.41,61.59 C567.39,59.71 567.36,55.12 567.35,53.83 C567.34,55.12 567.31,59.71 567.29,61.59 C567.28,63.46 567.33,63.93 567.26,65.08 C567.19,66.22 566.89,67.42 566.89,68.45 C566.89,69.48 567.19,69.86 567.26,71.26 C567.33,72.67 567.36,75.67 567.29,76.89 C567.23,78.11 567.43,78.20 566.89,78.58 C566.35,78.95 564.65,78.95 564.04,79.14 C563.42,79.33 563.35,79.61 563.21,79.70 Z" fill="#d91c78" stroke="#222" stroke-width="0.48" stroke-linejoin="round"/>
<rect x="566.45" y="53.23" width="1.8" height="13.23" fill="url(#fade)"/>
<path d="M573.56,79.70 L581.84,79.70 C581.70,79.61 581.63,79.33 581.01,79.14 C580.40,78.95 578.70,78.95 578.16,78.58 C577.62,78.20 577.82,78.11 577.76,76.89 C577.69,75.67 577.72,72.67 577.79,71.26 C577.86,69.86 578.16,69.48 578.16,68.45 C578.16,67.42 577.86,66.88 577.79,65.08 C577.72,63.28 577.77,60.46 577.76,57.65 C577.74,54.84 577.71,49.78 577.70,48.20 C577.69,49.78 577.66,54.84 577.64,57.65 C577.63,60.46 577.68,63.28 577.61,65.08 C577.54,66.88 577.24,67.42 577.24,68.45 C577.24,69.48 577.54,69.86 577.61,71.26 C577.68,72.67 577.71,75.67 577.64,76.89 C577.58,78.11 577.78,78.20 577.24,78.58 C576.70,78.95 575.00,78.95 574.39,79.14 C573.77,79.33 573.70,79.61 573.56,79.70 Z" fill="#df6db5" stroke="#222" stroke-width="0.48" stroke-linejoin="round"/>
<rect x="576.80" y="47.60" width="1.8" height="18.85" fill="url(#fade)"/>
<path d="M584.14,79.70 L591.96,79.70 C591.83,79.62 591.75,79.40 591.18,79.25 C590.60,79.10 589.02,79.10 588.51,78.80 C588.00,78.50 588.17,80.97 588.11,77.45 C588.04,73.93 588.11,62.53 588.11,57.65 C588.10,52.78 588.06,49.78 588.05,48.20 C588.04,49.78 588.00,52.78 587.99,57.65 C587.99,62.53 588.06,73.93 587.99,77.45 C587.93,80.97 588.10,78.50 587.59,78.80 C587.08,79.10 585.50,79.10 584.92,79.25 C584.35,79.40 584.27,79.62 584.14,79.70 Z" fill="#d7acdc" stroke="#222" stroke-width="0.48" stroke-linejoin="round"/>
<rect x="587.15" y="47.60" width="1.8" height="29.20" fill="url(#fade)"/>
<path d="M594.72,79.70 L602.08,79.70 C601.96,79.64 601.88,79.47 601.34,79.36 C600.81,79.25 599.34,79.25 598.86,79.03 C598.38,78.80 598.52,81.31 598.46,78.01 C598.39,74.71 598.46,63.82 598.46,59.23 C598.45,54.63 598.41,51.91 598.40,50.45 C598.39,51.91 598.35,54.63 598.34,59.23 C598.34,63.82 598.41,74.71 598.34,78.01 C598.28,81.31 598.42,78.80 597.94,79.03 C597.46,79.25 595.99,79.25 595.46,79.36 C594.92,79.47 594.84,79.64 594.72,79.70 Z" fill="#fbc0bc" stroke="#222" stroke-width="0.48" stroke-linejoin="round"/>
<rect x="597.50" y="49.85" width="1.8" height="27.18" fill="url(#fade)"/>
<line x1="550.80" y1="46.62" x2="550.80" y2="81.68" stroke="#4a4a4a" stroke-width="0.8"/>
<line x1="550.40" y1="81.28" x2="604.60" y2="81.28" stroke="#4a4a4a" stroke-width="0.8"/>
<line x1="549.10" y1="79.70" x2="550.80" y2="79.70" stroke="#4a4a4a" stroke-width="0.6"/>
<text x="547.90" y="81.40" font-size="4.8" text-anchor="end" fill="#222" stroke="#222" stroke-width="0.07">0</text>
<line x1="549.10" y1="68.45" x2="550.80" y2="68.45" stroke="#4a4a4a" stroke-width="0.6"/>
<text x="547.90" y="70.15" font-size="4.8" text-anchor="end" fill="#222" stroke="#222" stroke-width="0.07">1</text>
<line x1="549.10" y1="57.20" x2="550.80" y2="57.20" stroke="#4a4a4a" stroke-width="0.6"/>
<text x="547.90" y="58.90" font-size="4.8" text-anchor="end" fill="#222" stroke="#222" stroke-width="0.07">2</text>
<line x1="557.00" y1="81.28" x2="557.00" y2="82.78" stroke="#4a4a4a" stroke-width="0.6"/>
<text x="558.80" y="84.08" font-size="5.1" text-anchor="end" fill="#222" transform="rotate(-90 558.80 84.08)" stroke="#222" stroke-width="0.07">LH3</text>
<line x1="567.35" y1="81.28" x2="567.35" y2="82.78" stroke="#4a4a4a" stroke-width="0.6"/>
<text x="569.15" y="84.08" font-size="5.1" text-anchor="end" fill="#222" transform="rotate(-90 569.15 84.08)" stroke="#222" stroke-width="0.07">LH5</text>
<line x1="577.70" y1="81.28" x2="577.70" y2="82.78" stroke="#4a4a4a" stroke-width="0.6"/>
<text x="579.50" y="84.08" font-size="5.1" text-anchor="end" fill="#222" transform="rotate(-90 579.50 84.08)" stroke="#222" stroke-width="0.07">LH7</text>
<line x1="588.05" y1="81.28" x2="588.05" y2="82.78" stroke="#4a4a4a" stroke-width="0.6"/>
<text x="589.85" y="84.08" font-size="5.1" text-anchor="end" fill="#222" transform="rotate(-90 589.85 84.08)" stroke="#222" stroke-width="0.07">LH9</text>
<line x1="598.40" y1="81.28" x2="598.40" y2="82.78" stroke="#4a4a4a" stroke-width="0.6"/>
<text x="600.20" y="84.08" font-size="5.1" text-anchor="end" fill="#222" transform="rotate(-90 600.20 84.08)" stroke="#222" stroke-width="0.07">LH11</text>
<text x="577.60" y="107.30" font-size="6.8" text-anchor="middle" font-weight="bold" fill="#000">CXCR4</text>
<path d="M552.50,145.50 L560.50,145.50 C560.22,145.28 559.30,144.95 558.80,144.18 C558.30,143.40 557.59,142.30 557.51,140.87 C557.44,139.43 558.03,137.78 558.34,135.57 C558.65,133.36 559.39,129.94 559.35,127.63 C559.31,125.31 558.51,123.10 558.11,121.67 C557.71,120.23 557.23,120.01 556.96,119.02 C556.69,118.03 556.58,116.26 556.50,115.71 C556.42,116.26 556.31,118.03 556.04,119.02 C555.77,120.01 555.29,120.23 554.89,121.67 C554.49,123.10 553.69,125.31 553.65,127.63 C553.61,129.94 554.35,133.36 554.66,135.57 C554.97,137.78 555.56,139.43 555.49,140.87 C555.41,142.30 554.70,143.40 554.20,144.18 C553.70,144.95 552.78,145.28 552.50,145.50 Z" fill="#9a0541" stroke="#222" stroke-width="0.48" stroke-linejoin="round"/>
<path d="M563.05,145.50 L571.05,145.50 C570.73,145.28 569.63,144.95 569.12,144.18 C568.61,143.40 568.12,143.40 567.97,140.87 C567.82,138.33 568.26,132.04 568.20,128.95 C568.14,125.86 567.79,124.98 567.60,122.33 C567.41,119.68 567.14,114.61 567.05,113.06 C566.96,114.61 566.69,119.68 566.50,122.33 C566.31,124.98 565.96,125.86 565.90,128.95 C565.84,132.04 566.28,138.33 566.13,140.87 C565.98,143.40 565.49,143.40 564.98,144.18 C564.47,144.95 563.37,145.28 563.05,145.50 Z" fill="#d91c78" stroke="#222" stroke-width="0.48" stroke-linejoin="round"/>
<rect x="566.15" y="112.46" width="1.8" height="7.87" fill="url(#fade)"/>
<path d="M573.60,145.50 L581.60,145.50 C581.28,145.28 580.17,144.95 579.67,144.18 C579.17,143.40 578.71,143.40 578.61,140.87 C578.51,138.33 579.15,132.37 579.07,128.95 C579.00,125.53 578.40,123.10 578.15,120.34 C577.91,117.59 577.69,113.72 577.60,112.40 C577.51,113.72 577.29,117.59 577.05,120.34 C576.80,123.10 576.20,125.53 576.13,128.95 C576.05,132.37 576.69,138.33 576.59,140.87 C576.49,143.40 576.03,143.40 575.53,144.18 C575.03,144.95 573.92,145.28 573.60,145.50 Z" fill="#df6db5" stroke="#222" stroke-width="0.48" stroke-linejoin="round"/>
<rect x="576.70" y="111.80" width="1.8" height="6.54" fill="url(#fade)"/>
<path d="M584.15,145.50 L592.15,145.50 C591.79,145.28 590.53,144.95 589.99,144.18 C589.45,143.40 589.10,143.96 588.89,140.87 C588.67,137.78 588.82,130.05 588.70,125.64 C588.58,121.23 588.24,116.26 588.15,114.39 C588.06,116.26 587.72,121.23 587.60,125.64 C587.48,130.05 587.63,137.78 587.41,140.87 C587.20,143.96 586.85,143.40 586.31,144.18 C585.77,144.95 584.51,145.28 584.15,145.50 Z" fill="#d7acdc" stroke="#222" stroke-width="0.48" stroke-linejoin="round"/>
<rect x="587.25" y="113.79" width="1.8" height="9.85" fill="url(#fade)"/>
<path d="M594.70,145.50 L602.70,145.50 C602.42,145.28 601.51,144.84 601.00,144.18 C600.49,143.51 599.77,142.96 599.62,141.53 C599.47,140.09 599.85,138.00 600.08,135.57 C600.31,133.14 601.04,129.39 601.00,126.96 C600.96,124.54 600.16,122.33 599.85,121.01 C599.54,119.68 599.35,120.01 599.16,119.02 C598.97,118.03 598.78,115.71 598.70,115.05 C598.62,115.71 598.43,118.03 598.24,119.02 C598.05,120.01 597.86,119.68 597.55,121.01 C597.24,122.33 596.44,124.54 596.40,126.96 C596.36,129.39 597.09,133.14 597.32,135.57 C597.55,138.00 597.93,140.09 597.78,141.53 C597.63,142.96 596.91,143.51 596.40,144.18 C595.89,144.84 594.98,145.28 594.70,145.50 Z" fill="#fbc0bc" stroke="#222" stroke-width="0.48" stroke-linejoin="round"/>
<line x1="550.20" y1="110.75" x2="550.20" y2="147.56" stroke="#4a4a4a" stroke-width="0.8"/>
<line x1="549.80" y1="147.16" x2="605.00" y2="147.16" stroke="#4a4a4a" stroke-width="0.8"/>
<line x1="548.50" y1="145.50" x2="550.20" y2="145.50" stroke="#4a4a4a" stroke-width="0.6"/>
<text x="547.30" y="147.20" font-size="4.8" text-anchor="end" fill="#222" stroke="#222" stroke-width="0.07">0</text>
<line x1="548.50" y1="138.88" x2="550.20" y2="138.88" stroke="#4a4a4a" stroke-width="0.6"/>
<text x="547.30" y="140.58" font-size="4.8" text-anchor="end" fill="#222" stroke="#222" stroke-width="0.07">1</text>
<line x1="548.50" y1="132.26" x2="550.20" y2="132.26" stroke="#4a4a4a" stroke-width="0.6"/>
<text x="547.30" y="133.96" font-size="4.8" text-anchor="end" fill="#222" stroke="#222" stroke-width="0.07">2</text>
<line x1="548.50" y1="125.64" x2="550.20" y2="125.64" stroke="#4a4a4a" stroke-width="0.6"/>
<text x="547.30" y="127.34" font-size="4.8" text-anchor="end" fill="#222" stroke="#222" stroke-width="0.07">3</text>
<line x1="548.50" y1="119.02" x2="550.20" y2="119.02" stroke="#4a4a4a" stroke-width="0.6"/>
<text x="547.30" y="120.72" font-size="4.8" text-anchor="end" fill="#222" stroke="#222" stroke-width="0.07">4</text>
<line x1="548.50" y1="112.40" x2="550.20" y2="112.40" stroke="#4a4a4a" stroke-width="0.6"/>
<text x="547.30" y="114.10" font-size="4.8" text-anchor="end" fill="#222" stroke="#222" stroke-width="0.07">5</text>
<line x1="556.50" y1="147.16" x2="556.50" y2="148.66" stroke="#4a4a4a" stroke-width="0.6"/>
<text x="558.30" y="149.96" font-size="5.1" text-anchor="end" fill="#222" transform="rotate(-90 558.30 149.96)" stroke="#222" stroke-width="0.07">LH3</text>
<line x1="567.05" y1="147.16" x2="567.05" y2="148.66" stroke="#4a4a4a" stroke-width="0.6"/>
<text x="568.85" y="149.96" font-size="5.1" text-anchor="end" fill="#222" transform="rotate(-90 568.85 149.96)" stroke="#222" stroke-width="0.07">LH5</text>
<line x1="577.60" y1="147.16" x2="577.60" y2="148.66" stroke="#4a4a4a" stroke-width="0.6"/>
<text x="579.40" y="149.96" font-size="5.1" text-anchor="end" fill="#222" transform="rotate(-90 579.40 149.96)" stroke="#222" stroke-width="0.07">LH7</text>
<line x1="588.15" y1="147.16" x2="588.15" y2="148.66" stroke="#4a4a4a" stroke-width="0.6"/>
<text x="589.95" y="149.96" font-size="5.1" text-anchor="end" fill="#222" transform="rotate(-90 589.95 149.96)" stroke="#222" stroke-width="0.07">LH9</text>
<line x1="598.70" y1="147.16" x2="598.70" y2="148.66" stroke="#4a4a4a" stroke-width="0.6"/>
<text x="600.50" y="149.96" font-size="5.1" text-anchor="end" fill="#222" transform="rotate(-90 600.50 149.96)" stroke="#222" stroke-width="0.07">LH11</text>
<text x="574.80" y="173.40" font-size="6.8" text-anchor="middle" font-weight="bold" fill="#000">FPR1</text>
<path d="M551.89,211.50 L559.71,211.50 C559.58,211.48 559.50,211.43 558.93,211.40 C558.35,211.36 556.77,211.62 556.26,211.30 C555.75,210.97 555.92,211.09 555.86,209.46 C555.79,207.83 555.86,203.54 555.86,201.50 C555.85,199.46 555.81,197.93 555.80,197.22 C555.79,197.93 555.75,199.46 555.74,201.50 C555.74,203.54 555.81,207.83 555.74,209.46 C555.68,211.09 555.85,210.97 555.34,211.30 C554.83,211.62 553.25,211.36 552.67,211.40 C552.10,211.43 552.02,211.48 551.89,211.50 Z" fill="#9a0541" stroke="#222" stroke-width="0.48" stroke-linejoin="round"/>
<rect x="554.90" y="196.62" width="1.8" height="12.68" fill="url(#fade)"/>
<path d="M561.39,211.50 L569.21,211.50 C569.08,211.48 569.00,211.43 568.43,211.40 C567.85,211.36 566.27,211.62 565.76,211.30 C565.25,210.97 565.42,211.36 565.36,209.46 C565.29,207.56 565.36,202.31 565.36,199.89 C565.35,197.46 565.31,195.74 565.30,194.91 C565.29,195.74 565.25,197.46 565.24,199.89 C565.24,202.31 565.31,207.56 565.24,209.46 C565.18,211.36 565.35,210.97 564.84,211.30 C564.33,211.62 562.75,211.36 562.17,211.40 C561.60,211.43 561.52,211.48 561.39,211.50 Z" fill="#d91c78" stroke="#222" stroke-width="0.48" stroke-linejoin="round"/>
<rect x="564.40" y="194.31" width="1.8" height="14.99" fill="url(#fade)"/>
<path d="M570.89,211.50 L578.71,211.50 C578.58,211.48 578.50,211.43 577.93,211.40 C577.35,211.36 575.77,211.62 575.26,211.30 C574.75,210.97 574.92,213.15 574.86,209.46 C574.79,205.77 574.86,194.11 574.86,189.13 C574.85,184.14 574.81,181.14 574.80,179.54 C574.79,181.14 574.75,184.14 574.74,189.13 C574.74,194.11 574.81,205.77 574.74,209.46 C574.68,213.15 574.85,210.97 574.34,211.30 C573.83,211.62 572.25,211.36 571.67,211.40 C571.10,211.43 571.02,211.48 570.89,211.50 Z" fill="#df6db5" stroke="#222" stroke-width="0.48" stroke-linejoin="round"/>
<rect x="573.90" y="178.94" width="1.8" height="30.36" fill="url(#fade)"/>
<path d="M580.39,211.50 L588.21,211.50 C588.08,211.48 588.00,211.43 587.43,211.40 C586.85,211.36 585.27,211.62 584.76,211.30 C584.25,210.97 584.42,210.93 584.36,209.46 C584.29,207.99 584.36,204.27 584.36,202.46 C584.35,200.64 584.31,199.23 584.30,198.58 C584.29,199.23 584.25,200.64 584.24,202.46 C584.24,204.27 584.31,207.99 584.24,209.46 C584.18,210.93 584.35,210.97 583.84,211.30 C583.33,211.62 581.75,211.36 581.17,211.40 C580.60,211.43 580.52,211.48 580.39,211.50 Z" fill="#d7acdc" stroke="#222" stroke-width="0.48" stroke-linejoin="round"/>
<rect x="583.40" y="197.98" width="1.8" height="11.32" fill="url(#fade)"/>
<path d="M589.89,211.50 L597.71,211.50 C597.58,211.48 597.50,211.43 596.93,211.40 C596.35,211.36 594.77,211.62 594.26,211.30 C593.75,210.97 593.92,211.96 593.86,209.46 C593.79,206.96 593.86,199.55 593.86,196.27 C593.85,192.98 593.81,190.83 593.80,189.74 C593.79,190.83 593.75,192.98 593.74,196.27 C593.74,199.55 593.81,206.96 593.74,209.46 C593.68,211.96 593.85,210.97 593.34,211.30 C592.83,211.62 591.25,211.36 590.67,211.40 C590.10,211.43 590.02,211.48 589.89,211.50 Z" fill="#fbc0bc" stroke="#222" stroke-width="0.48" stroke-linejoin="round"/>
<rect x="592.90" y="189.14" width="1.8" height="20.16" fill="url(#fade)"/>
<line x1="550.40" y1="177.94" x2="550.40" y2="213.50" stroke="#4a4a4a" stroke-width="0.8"/>
<line x1="550.00" y1="213.10" x2="599.20" y2="213.10" stroke="#4a4a4a" stroke-width="0.8"/>
<line x1="548.70" y1="211.50" x2="550.40" y2="211.50" stroke="#4a4a4a" stroke-width="0.6"/>
<text x="547.50" y="213.20" font-size="4.8" text-anchor="end" fill="#222" stroke="#222" stroke-width="0.07">0.0</text>
<line x1="548.70" y1="204.70" x2="550.40" y2="204.70" stroke="#4a4a4a" stroke-width="0.6"/>
<text x="547.50" y="206.40" font-size="4.8" text-anchor="end" fill="#222" stroke="#222" stroke-width="0.07">0.5</text>
<line x1="548.70" y1="197.90" x2="550.40" y2="197.90" stroke="#4a4a4a" stroke-width="0.6"/>
<text x="547.50" y="199.60" font-size="4.8" text-anchor="end" fill="#222" stroke="#222" stroke-width="0.07">1.0</text>
<line x1="548.70" y1="191.10" x2="550.40" y2="191.10" stroke="#4a4a4a" stroke-width="0.6"/>
<text x="547.50" y="192.80" font-size="4.8" text-anchor="end" fill="#222" stroke="#222" stroke-width="0.07">1.5</text>
<line x1="548.70" y1="184.30" x2="550.40" y2="184.30" stroke="#4a4a4a" stroke-width="0.6"/>
<text x="547.50" y="186.00" font-size="4.8" text-anchor="end" fill="#222" stroke="#222" stroke-width="0.07">2.0</text>
<line x1="555.80" y1="213.10" x2="555.80" y2="214.60" stroke="#4a4a4a" stroke-width="0.6"/>
<text x="557.60" y="215.90" font-size="5.1" text-anchor="end" fill="#222" transform="rotate(-90 557.60 215.90)" stroke="#222" stroke-width="0.07">LH3</text>
<line x1="565.30" y1="213.10" x2="565.30" y2="214.60" stroke="#4a4a4a" stroke-width="0.6"/>
<text x="567.10" y="215.90" font-size="5.1" text-anchor="end" fill="#222" transform="rotate(-90 567.10 215.90)" stroke="#222" stroke-width="0.07">LH5</text>
<line x1="574.80" y1="213.10" x2="574.80" y2="214.60" stroke="#4a4a4a" stroke-width="0.6"/>
<text x="576.60" y="215.90" font-size="5.1" text-anchor="end" fill="#222" transform="rotate(-90 576.60 215.90)" stroke="#222" stroke-width="0.07">LH7</text>
<line x1="584.30" y1="213.10" x2="584.30" y2="214.60" stroke="#4a4a4a" stroke-width="0.6"/>
<text x="586.10" y="215.90" font-size="5.1" text-anchor="end" fill="#222" transform="rotate(-90 586.10 215.90)" stroke="#222" stroke-width="0.07">LH9</text>
<line x1="593.80" y1="213.10" x2="593.80" y2="214.60" stroke="#4a4a4a" stroke-width="0.6"/>
<text x="595.60" y="215.90" font-size="5.1" text-anchor="end" fill="#222" transform="rotate(-90 595.60 215.90)" stroke="#222" stroke-width="0.07">LH11</text>
<text x="576.90" y="239.70" font-size="6.8" text-anchor="middle" font-weight="bold" fill="#000">FPR3</text>
<path d="M553.69,277.50 L561.51,277.50 C561.38,277.48 561.30,277.43 560.73,277.39 C560.15,277.35 558.57,277.72 558.06,277.28 C557.55,276.83 557.72,277.28 557.66,274.69 C557.59,272.11 557.66,265.06 557.66,261.79 C557.65,258.52 557.61,256.18 557.60,255.06 C557.59,256.18 557.55,258.52 557.54,261.79 C557.54,265.06 557.61,272.11 557.54,274.69 C557.48,277.28 557.65,276.83 557.14,277.28 C556.63,277.72 555.05,277.35 554.47,277.39 C553.90,277.43 553.82,277.48 553.69,277.50 Z" fill="#9a0541" stroke="#222" stroke-width="0.48" stroke-linejoin="round"/>
<rect x="556.70" y="254.46" width="1.8" height="20.82" fill="url(#fade)"/>
<path d="M563.34,277.50 L571.16,277.50 C571.03,277.48 570.95,277.43 570.38,277.39 C569.80,277.35 568.22,277.72 567.71,277.28 C567.20,276.83 567.37,276.69 567.31,274.69 C567.24,272.70 567.31,267.76 567.31,265.33 C567.30,262.90 567.26,260.98 567.25,260.11 C567.24,260.98 567.20,262.90 567.19,265.33 C567.19,267.76 567.26,272.70 567.19,274.69 C567.13,276.69 567.30,276.83 566.79,277.28 C566.28,277.72 564.70,277.35 564.12,277.39 C563.55,277.43 563.47,277.48 563.34,277.50 Z" fill="#d91c78" stroke="#222" stroke-width="0.48" stroke-linejoin="round"/>
<rect x="566.35" y="259.51" width="1.8" height="15.77" fill="url(#fade)"/>
<path d="M572.99,277.50 L580.81,277.50 C580.68,277.48 580.60,277.43 580.03,277.39 C579.45,277.35 577.87,277.72 577.36,277.28 C576.85,276.83 577.02,278.37 576.96,274.69 C576.89,271.02 576.96,260.08 576.96,255.25 C576.95,250.42 576.91,247.30 576.90,245.71 C576.89,247.30 576.85,250.42 576.84,255.25 C576.84,260.08 576.91,271.02 576.84,274.69 C576.78,278.37 576.95,276.83 576.44,277.28 C575.93,277.72 574.35,277.35 573.77,277.39 C573.20,277.43 573.12,277.48 572.99,277.50 Z" fill="#df6db5" stroke="#222" stroke-width="0.48" stroke-linejoin="round"/>
<rect x="576.00" y="245.11" width="1.8" height="30.17" fill="url(#fade)"/>
<path d="M582.64,277.50 L590.46,277.50 C590.33,277.48 590.25,277.43 589.68,277.39 C589.10,277.35 587.52,277.72 587.01,277.28 C586.50,276.83 586.67,277.01 586.61,274.69 C586.54,272.38 586.61,266.26 586.61,263.36 C586.60,260.46 586.56,258.31 586.55,257.30 C586.54,258.31 586.50,260.46 586.49,263.36 C586.49,266.26 586.56,272.38 586.49,274.69 C586.43,277.01 586.60,276.83 586.09,277.28 C585.58,277.72 584.00,277.35 583.42,277.39 C582.85,277.43 582.77,277.48 582.64,277.50 Z" fill="#d7acdc" stroke="#222" stroke-width="0.48" stroke-linejoin="round"/>
<rect x="585.65" y="256.70" width="1.8" height="18.57" fill="url(#fade)"/>
<path d="M592.29,277.50 L600.11,277.50 C599.98,277.48 599.90,277.43 599.33,277.39 C598.75,277.35 597.17,277.72 596.66,277.28 C596.15,276.83 596.32,277.38 596.26,274.69 C596.19,272.01 596.26,264.57 596.26,261.14 C596.25,257.71 596.21,255.29 596.20,254.12 C596.19,255.29 596.15,257.71 596.14,261.14 C596.14,264.57 596.21,272.01 596.14,274.69 C596.08,277.38 596.25,276.83 595.74,277.28 C595.23,277.72 593.65,277.35 593.07,277.39 C592.50,277.43 592.42,277.48 592.29,277.50 Z" fill="#fbc0bc" stroke="#222" stroke-width="0.48" stroke-linejoin="round"/>
<rect x="595.30" y="253.53" width="1.8" height="21.75" fill="url(#fade)"/>
<line x1="552.60" y1="244.12" x2="552.60" y2="279.49" stroke="#4a4a4a" stroke-width="0.8"/>
<line x1="552.20" y1="279.09" x2="601.20" y2="279.09" stroke="#4a4a4a" stroke-width="0.8"/>
<line x1="550.90" y1="277.50" x2="552.60" y2="277.50" stroke="#4a4a4a" stroke-width="0.6"/>
<text x="549.70" y="279.20" font-size="4.8" text-anchor="end" fill="#222" stroke="#222" stroke-width="0.07">0.0</text>
<line x1="550.90" y1="268.15" x2="552.60" y2="268.15" stroke="#4a4a4a" stroke-width="0.6"/>
<text x="549.70" y="269.85" font-size="4.8" text-anchor="end" fill="#222" stroke="#222" stroke-width="0.07">0.5</text>
<line x1="550.90" y1="258.80" x2="552.60" y2="258.80" stroke="#4a4a4a" stroke-width="0.6"/>
<text x="549.70" y="260.50" font-size="4.8" text-anchor="end" fill="#222" stroke="#222" stroke-width="0.07">1.0</text>
<line x1="550.90" y1="249.45" x2="552.60" y2="249.45" stroke="#4a4a4a" stroke-width="0.6"/>
<text x="549.70" y="251.15" font-size="4.8" text-anchor="end" fill="#222" stroke="#222" stroke-width="0.07">1.5</text>
<line x1="557.60" y1="279.09" x2="557.60" y2="280.59" stroke="#4a4a4a" stroke-width="0.6"/>
<text x="559.40" y="281.89" font-size="5.1" text-anchor="end" fill="#222" transform="rotate(-90 559.40 281.89)" stroke="#222" stroke-width="0.07">LH3</text>
<line x1="567.25" y1="279.09" x2="567.25" y2="280.59" stroke="#4a4a4a" stroke-width="0.6"/>
<text x="569.05" y="281.89" font-size="5.1" text-anchor="end" fill="#222" transform="rotate(-90 569.05 281.89)" stroke="#222" stroke-width="0.07">LH5</text>
<line x1="576.90" y1="279.09" x2="576.90" y2="280.59" stroke="#4a4a4a" stroke-width="0.6"/>
<text x="578.70" y="281.89" font-size="5.1" text-anchor="end" fill="#222" transform="rotate(-90 578.70 281.89)" stroke="#222" stroke-width="0.07">LH7</text>
<line x1="586.55" y1="279.09" x2="586.55" y2="280.59" stroke="#4a4a4a" stroke-width="0.6"/>
<text x="588.35" y="281.89" font-size="5.1" text-anchor="end" fill="#222" transform="rotate(-90 588.35 281.89)" stroke="#222" stroke-width="0.07">LH9</text>
<line x1="596.20" y1="279.09" x2="596.20" y2="280.59" stroke="#4a4a4a" stroke-width="0.6"/>
<text x="598.00" y="281.89" font-size="5.1" text-anchor="end" fill="#222" transform="rotate(-90 598.00 281.89)" stroke="#222" stroke-width="0.07">LH11</text>
<text x="577.70" y="307.10" font-size="6.8" text-anchor="middle" font-weight="bold" fill="#000">FAM3C</text>
<path d="M552.99,344.50 L560.81,344.50 C560.68,344.48 560.60,344.40 560.03,344.35 C559.45,344.30 557.87,344.39 557.36,344.21 C556.85,344.02 557.02,346.03 556.96,343.24 C556.89,340.45 556.96,331.30 556.96,327.45 C556.95,323.60 556.91,321.36 556.90,320.14 C556.89,321.36 556.85,323.60 556.84,327.45 C556.84,331.30 556.91,340.45 556.84,343.24 C556.78,346.03 556.95,344.02 556.44,344.21 C555.93,344.39 554.35,344.30 553.77,344.35 C553.20,344.40 553.12,344.48 552.99,344.50 Z" fill="#9a0541" stroke="#222" stroke-width="0.48" stroke-linejoin="round"/>
<rect x="556.00" y="319.54" width="1.8" height="22.67" fill="url(#fade)"/>
<path d="M563.16,344.50 L571.44,344.50 C571.30,344.42 571.23,344.16 570.61,344.00 C570.00,343.83 568.30,343.83 567.76,343.49 C567.22,343.16 567.42,342.72 567.36,341.98 C567.29,341.24 567.19,339.88 567.39,339.04 C567.60,338.20 568.59,337.71 568.59,336.94 C568.59,336.17 567.60,335.81 567.39,334.42 C567.19,333.03 567.37,330.72 567.36,328.62 C567.34,326.52 567.31,322.95 567.30,321.82 C567.29,322.95 567.26,326.52 567.24,328.62 C567.23,330.72 567.41,333.03 567.21,334.42 C567.00,335.81 566.01,336.17 566.01,336.94 C566.01,337.71 567.00,338.20 567.21,339.04 C567.41,339.88 567.31,341.24 567.24,341.98 C567.18,342.72 567.38,343.16 566.84,343.49 C566.30,343.83 564.60,343.83 563.99,344.00 C563.37,344.16 563.30,344.42 563.16,344.50 Z" fill="#d91c78" stroke="#222" stroke-width="0.48" stroke-linejoin="round"/>
<rect x="566.40" y="321.22" width="1.8" height="13.72" fill="url(#fade)"/>
<path d="M573.56,344.50 L581.84,344.50 C581.70,344.43 581.63,344.22 581.01,344.08 C580.40,343.94 578.70,343.94 578.16,343.66 C577.62,343.38 577.82,343.31 577.76,342.40 C577.69,341.49 577.72,339.25 577.79,338.20 C577.86,337.15 578.16,336.87 578.16,336.10 C578.16,335.33 577.86,335.81 577.79,333.58 C577.72,331.35 577.77,326.10 577.76,322.74 C577.74,319.38 577.71,314.97 577.70,313.42 C577.69,314.97 577.66,319.38 577.64,322.74 C577.63,326.10 577.68,331.35 577.61,333.58 C577.54,335.81 577.24,335.33 577.24,336.10 C577.24,336.87 577.54,337.15 577.61,338.20 C577.68,339.25 577.71,341.49 577.64,342.40 C577.58,343.31 577.78,343.38 577.24,343.66 C576.70,343.94 575.00,343.94 574.39,344.08 C573.77,344.22 573.70,344.43 573.56,344.50 Z" fill="#df6db5" stroke="#222" stroke-width="0.48" stroke-linejoin="round"/>
<rect x="576.80" y="312.82" width="1.8" height="21.28" fill="url(#fade)"/>
<path d="M584.19,344.50 L592.01,344.50 C591.88,344.44 591.80,344.28 591.23,344.16 C590.65,344.05 589.07,344.05 588.56,343.83 C588.05,343.60 588.22,345.45 588.16,342.82 C588.09,340.19 588.16,331.68 588.16,328.04 C588.15,324.40 588.11,322.16 588.10,320.98 C588.09,322.16 588.05,324.40 588.04,328.04 C588.04,331.68 588.11,340.19 588.04,342.82 C587.98,345.45 588.15,343.60 587.64,343.83 C587.13,344.05 585.55,344.05 584.97,344.16 C584.40,344.28 584.32,344.44 584.19,344.50 Z" fill="#d7acdc" stroke="#222" stroke-width="0.48" stroke-linejoin="round"/>
<rect x="587.20" y="320.38" width="1.8" height="21.45" fill="url(#fade)"/>
<path d="M594.59,344.50 L602.41,344.50 C602.28,344.44 602.20,344.28 601.63,344.16 C601.05,344.05 599.47,344.05 598.96,343.83 C598.45,343.60 598.62,346.04 598.56,342.82 C598.49,339.60 598.56,328.99 598.56,324.51 C598.55,320.03 598.51,317.37 598.50,315.94 C598.49,317.37 598.45,320.03 598.44,324.51 C598.44,328.99 598.51,339.60 598.44,342.82 C598.38,346.04 598.55,343.60 598.04,343.83 C597.53,344.05 595.95,344.05 595.37,344.16 C594.80,344.28 594.72,344.44 594.59,344.50 Z" fill="#fbc0bc" stroke="#222" stroke-width="0.48" stroke-linejoin="round"/>
<rect x="597.60" y="315.34" width="1.8" height="26.49" fill="url(#fade)"/>
<line x1="550.80" y1="311.87" x2="550.80" y2="346.45" stroke="#4a4a4a" stroke-width="0.8"/>
<line x1="550.40" y1="346.05" x2="604.60" y2="346.05" stroke="#4a4a4a" stroke-width="0.8"/>
<line x1="549.10" y1="344.50" x2="550.80" y2="344.50" stroke="#4a4a4a" stroke-width="0.6"/>
<text x="547.90" y="346.20" font-size="4.8" text-anchor="end" fill="#222" stroke="#222" stroke-width="0.07">0</text>
<line x1="549.10" y1="336.10" x2="550.80" y2="336.10" stroke="#4a4a4a" stroke-width="0.6"/>
<text x="547.90" y="337.80" font-size="4.8" text-anchor="end" fill="#222" stroke="#222" stroke-width="0.07">1</text>
<line x1="549.10" y1="327.70" x2="550.80" y2="327.70" stroke="#4a4a4a" stroke-width="0.6"/>
<text x="547.90" y="329.40" font-size="4.8" text-anchor="end" fill="#222" stroke="#222" stroke-width="0.07">2</text>
<line x1="549.10" y1="319.30" x2="550.80" y2="319.30" stroke="#4a4a4a" stroke-width="0.6"/>
<text x="547.90" y="321.00" font-size="4.8" text-anchor="end" fill="#222" stroke="#222" stroke-width="0.07">3</text>
<line x1="556.90" y1="346.05" x2="556.90" y2="347.55" stroke="#4a4a4a" stroke-width="0.6"/>
<text x="558.70" y="348.85" font-size="5.1" text-anchor="end" fill="#222" transform="rotate(-90 558.70 348.85)" stroke="#222" stroke-width="0.07">LH3</text>
<line x1="567.30" y1="346.05" x2="567.30" y2="347.55" stroke="#4a4a4a" stroke-width="0.6"/>
<text x="569.10" y="348.85" font-size="5.1" text-anchor="end" fill="#222" transform="rotate(-90 569.10 348.85)" stroke="#222" stroke-width="0.07">LH5</text>
<line x1="577.70" y1="346.05" x2="577.70" y2="347.55" stroke="#4a4a4a" stroke-width="0.6"/>
<text x="579.50" y="348.85" font-size="5.1" text-anchor="end" fill="#222" transform="rotate(-90 579.50 348.85)" stroke="#222" stroke-width="0.07">LH7</text>
<line x1="588.10" y1="346.05" x2="588.10" y2="347.55" stroke="#4a4a4a" stroke-width="0.6"/>
<text x="589.90" y="348.85" font-size="5.1" text-anchor="end" fill="#222" transform="rotate(-90 589.90 348.85)" stroke="#222" stroke-width="0.07">LH9</text>
<line x1="598.50" y1="346.05" x2="598.50" y2="347.55" stroke="#4a4a4a" stroke-width="0.6"/>
<text x="600.30" y="348.85" font-size="5.1" text-anchor="end" fill="#222" transform="rotate(-90 600.30 348.85)" stroke="#222" stroke-width="0.07">LH11</text>
<text x="577.70" y="374.10" font-size="6.8" text-anchor="middle" font-weight="bold" fill="#000">ITGB2</text>
<path d="M552.53,411.50 L561.27,411.50 C561.08,411.31 560.73,410.85 560.12,410.38 C559.51,409.91 557.86,409.45 557.59,408.70 C557.32,407.95 558.15,406.99 558.51,405.90 C558.87,404.81 559.64,404.04 559.75,402.17 C559.87,400.30 559.37,396.73 559.20,394.71 C559.03,392.68 559.05,391.28 558.74,390.04 C558.43,388.80 557.67,388.80 557.36,387.24 C557.05,385.69 556.98,381.80 556.90,380.71 C556.82,381.80 556.75,385.69 556.44,387.24 C556.13,388.80 555.37,388.80 555.06,390.04 C554.75,391.28 554.77,392.68 554.60,394.71 C554.43,396.73 553.93,400.30 554.05,402.17 C554.16,404.04 554.93,404.81 555.29,405.90 C555.65,406.99 556.48,407.95 556.21,408.70 C555.94,409.45 554.29,409.91 553.68,410.38 C553.07,410.85 552.72,411.31 552.53,411.50 Z" fill="#9a0541" stroke="#222" stroke-width="0.48" stroke-linejoin="round"/>
<rect x="556.00" y="380.11" width="1.8" height="5.13" fill="url(#fade)"/>
<path d="M562.93,411.50 L571.67,411.50 C571.48,411.31 571.13,410.85 570.52,410.38 C569.91,409.91 568.30,409.45 567.99,408.70 C567.68,407.95 568.37,406.99 568.68,405.90 C568.99,404.81 569.71,404.04 569.83,402.17 C569.94,400.30 569.56,396.73 569.37,394.71 C569.18,392.68 568.96,391.28 568.68,390.04 C568.40,388.80 567.90,388.64 567.67,387.24 C567.44,385.84 567.36,382.58 567.30,381.64 C567.24,382.58 567.16,385.84 566.93,387.24 C566.70,388.64 566.20,388.80 565.92,390.04 C565.64,391.28 565.42,392.68 565.23,394.71 C565.04,396.73 564.65,400.30 564.77,402.17 C564.88,404.04 565.61,404.81 565.92,405.90 C566.23,406.99 566.92,407.95 566.61,408.70 C566.30,409.45 564.69,409.91 564.08,410.38 C563.47,410.85 563.12,411.31 562.93,411.50 Z" fill="#d91c78" stroke="#222" stroke-width="0.48" stroke-linejoin="round"/>
<rect x="566.40" y="381.04" width="1.8" height="4.20" fill="url(#fade)"/>
<path d="M573.47,411.50 L581.93,411.50 C581.61,411.31 580.59,411.00 580.00,410.38 C579.41,409.76 578.54,409.14 578.39,407.77 C578.24,406.40 579.04,403.88 579.08,402.17 C579.12,400.46 578.80,399.53 578.62,397.50 C578.44,395.48 578.13,392.84 577.98,390.04 C577.82,387.24 577.75,382.27 577.70,380.71 C577.65,382.27 577.58,387.24 577.42,390.04 C577.27,392.84 576.96,395.48 576.78,397.50 C576.60,399.53 576.28,400.46 576.32,402.17 C576.36,403.88 577.16,406.40 577.01,407.77 C576.86,409.14 575.99,409.76 575.40,410.38 C574.81,411.00 573.79,411.31 573.47,411.50 Z" fill="#df6db5" stroke="#222" stroke-width="0.48" stroke-linejoin="round"/>
<rect x="576.80" y="380.11" width="1.8" height="7.93" fill="url(#fade)"/>
<path d="M583.96,411.50 L592.24,411.50 C591.93,411.31 590.94,411.00 590.40,410.38 C589.86,409.76 589.10,409.14 589.02,407.77 C588.94,406.40 589.90,404.35 589.94,402.17 C589.98,399.99 589.51,396.88 589.25,394.71 C588.99,392.53 588.57,391.13 588.38,389.11 C588.18,387.09 588.15,383.67 588.10,382.58 C588.05,383.67 588.02,387.09 587.82,389.11 C587.63,391.13 587.21,392.53 586.95,394.71 C586.69,396.88 586.22,399.99 586.26,402.17 C586.30,404.35 587.26,406.40 587.18,407.77 C587.10,409.14 586.34,409.76 585.80,410.38 C585.26,411.00 584.27,411.31 583.96,411.50 Z" fill="#d7acdc" stroke="#222" stroke-width="0.48" stroke-linejoin="round"/>
<rect x="587.20" y="381.98" width="1.8" height="5.13" fill="url(#fade)"/>
<path d="M594.59,411.50 L602.41,411.50 C602.06,411.31 600.91,411.00 600.34,410.38 C599.77,409.76 599.08,409.45 598.96,407.77 C598.85,406.09 599.61,402.48 599.65,400.30 C599.69,398.13 599.35,396.73 599.19,394.71 C599.03,392.68 598.80,390.20 598.68,388.18 C598.57,386.15 598.53,383.51 598.50,382.58 C598.47,383.51 598.43,386.15 598.32,388.18 C598.20,390.20 597.97,392.68 597.81,394.71 C597.65,396.73 597.31,398.13 597.35,400.30 C597.39,402.48 598.15,406.09 598.04,407.77 C597.92,409.45 597.23,409.76 596.66,410.38 C596.09,411.00 594.94,411.31 594.59,411.50 Z" fill="#fbc0bc" stroke="#222" stroke-width="0.48" stroke-linejoin="round"/>
<rect x="597.60" y="381.98" width="1.8" height="10.73" fill="url(#fade)"/>
<line x1="550.80" y1="379.17" x2="550.80" y2="413.44" stroke="#4a4a4a" stroke-width="0.8"/>
<line x1="550.40" y1="413.04" x2="604.60" y2="413.04" stroke="#4a4a4a" stroke-width="0.8"/>
<line x1="549.10" y1="411.50" x2="550.80" y2="411.50" stroke="#4a4a4a" stroke-width="0.6"/>
<text x="547.90" y="413.20" font-size="4.8" text-anchor="end" fill="#222" stroke="#222" stroke-width="0.07">0</text>
<line x1="549.10" y1="402.17" x2="550.80" y2="402.17" stroke="#4a4a4a" stroke-width="0.6"/>
<text x="547.90" y="403.87" font-size="4.8" text-anchor="end" fill="#222" stroke="#222" stroke-width="0.07">1</text>
<line x1="549.10" y1="392.84" x2="550.80" y2="392.84" stroke="#4a4a4a" stroke-width="0.6"/>
<text x="547.90" y="394.54" font-size="4.8" text-anchor="end" fill="#222" stroke="#222" stroke-width="0.07">2</text>
<line x1="549.10" y1="383.51" x2="550.80" y2="383.51" stroke="#4a4a4a" stroke-width="0.6"/>
<text x="547.90" y="385.21" font-size="4.8" text-anchor="end" fill="#222" stroke="#222" stroke-width="0.07">3</text>
<line x1="556.90" y1="413.04" x2="556.90" y2="414.54" stroke="#4a4a4a" stroke-width="0.6"/>
<text x="558.70" y="415.84" font-size="5.1" text-anchor="end" fill="#222" transform="rotate(-90 558.70 415.84)" stroke="#222" stroke-width="0.07">LH3</text>
<line x1="567.30" y1="413.04" x2="567.30" y2="414.54" stroke="#4a4a4a" stroke-width="0.6"/>
<text x="569.10" y="415.84" font-size="5.1" text-anchor="end" fill="#222" transform="rotate(-90 569.10 415.84)" stroke="#222" stroke-width="0.07">LH5</text>
<line x1="577.70" y1="413.04" x2="577.70" y2="414.54" stroke="#4a4a4a" stroke-width="0.6"/>
<text x="579.50" y="415.84" font-size="5.1" text-anchor="end" fill="#222" transform="rotate(-90 579.50 415.84)" stroke="#222" stroke-width="0.07">LH7</text>
<line x1="588.10" y1="413.04" x2="588.10" y2="414.54" stroke="#4a4a4a" stroke-width="0.6"/>
<text x="589.90" y="415.84" font-size="5.1" text-anchor="end" fill="#222" transform="rotate(-90 589.90 415.84)" stroke="#222" stroke-width="0.07">LH9</text>
<line x1="598.50" y1="413.04" x2="598.50" y2="414.54" stroke="#4a4a4a" stroke-width="0.6"/>
<text x="600.30" y="415.84" font-size="5.1" text-anchor="end" fill="#222" transform="rotate(-90 600.30 415.84)" stroke="#222" stroke-width="0.07">LH11</text>
<text x="577.80" y="440.20" font-size="6.8" text-anchor="middle" font-weight="bold" fill="#000">ITGAM</text>
<path d="M552.99,477.90 L560.81,477.90 C560.68,477.87 560.60,477.77 560.03,477.70 C559.45,477.64 557.87,477.76 557.36,477.51 C556.85,477.26 557.02,479.68 556.96,476.22 C556.89,472.76 556.96,461.49 556.96,456.73 C556.95,451.97 556.91,449.17 556.90,447.66 C556.89,449.17 556.85,451.97 556.84,456.73 C556.84,461.49 556.91,472.76 556.84,476.22 C556.78,479.68 556.95,477.26 556.44,477.51 C555.93,477.76 554.35,477.64 553.77,477.70 C553.20,477.77 553.12,477.87 552.99,477.90 Z" fill="#9a0541" stroke="#222" stroke-width="0.48" stroke-linejoin="round"/>
<rect x="556.00" y="447.06" width="1.8" height="28.45" fill="url(#fade)"/>
<path d="M563.44,477.90 L571.26,477.90 C571.13,477.87 571.05,477.77 570.48,477.70 C569.90,477.64 568.32,477.76 567.81,477.51 C567.30,477.26 567.47,479.16 567.41,476.22 C567.34,473.28 567.41,463.88 567.41,459.87 C567.40,455.85 567.36,453.43 567.35,452.14 C567.34,453.43 567.30,455.85 567.29,459.87 C567.29,463.88 567.36,473.28 567.29,476.22 C567.23,479.16 567.40,477.26 566.89,477.51 C566.38,477.76 564.80,477.64 564.22,477.70 C563.65,477.77 563.57,477.87 563.44,477.90 Z" fill="#d91c78" stroke="#222" stroke-width="0.48" stroke-linejoin="round"/>
<rect x="566.45" y="451.54" width="1.8" height="23.97" fill="url(#fade)"/>
<path d="M573.89,477.90 L581.71,477.90 C581.58,477.87 581.50,477.77 580.93,477.70 C580.35,477.64 578.77,477.76 578.26,477.51 C577.75,477.26 577.92,479.55 577.86,476.22 C577.79,472.89 577.86,462.09 577.86,457.52 C577.85,452.94 577.81,450.24 577.80,448.78 C577.79,450.24 577.75,452.94 577.74,457.52 C577.74,462.09 577.81,472.89 577.74,476.22 C577.68,479.55 577.85,477.26 577.34,477.51 C576.83,477.76 575.25,477.64 574.67,477.70 C574.10,477.77 574.02,477.87 573.89,477.90 Z" fill="#df6db5" stroke="#222" stroke-width="0.48" stroke-linejoin="round"/>
<rect x="576.90" y="448.18" width="1.8" height="27.33" fill="url(#fade)"/>
<path d="M584.11,477.90 L592.39,477.90 C592.08,477.71 591.12,477.34 590.55,476.78 C589.97,476.22 589.25,475.66 588.94,474.54 C588.63,473.42 588.78,471.74 588.71,470.06 C588.64,468.38 588.60,468.38 588.53,464.46 C588.45,460.54 588.30,449.53 588.25,446.54 C588.20,449.53 588.05,460.54 587.97,464.46 C587.90,468.38 587.86,468.38 587.79,470.06 C587.72,471.74 587.87,473.42 587.56,474.54 C587.25,475.66 586.53,476.22 585.95,476.78 C585.38,477.34 584.42,477.71 584.11,477.90 Z" fill="#d7acdc" stroke="#222" stroke-width="0.48" stroke-linejoin="round"/>
<rect x="587.35" y="445.94" width="1.8" height="16.52" fill="url(#fade)"/>
<path d="M594.79,477.90 L602.61,477.90 C602.48,477.87 602.40,477.77 601.83,477.70 C601.25,477.64 599.67,477.76 599.16,477.51 C598.65,477.26 598.82,479.81 598.76,476.22 C598.69,472.63 598.76,460.89 598.76,455.95 C598.75,451.00 598.71,448.11 598.70,446.54 C598.69,448.11 598.65,451.00 598.64,455.95 C598.64,460.89 598.71,472.63 598.64,476.22 C598.58,479.81 598.75,477.26 598.24,477.51 C597.73,477.76 596.15,477.64 595.57,477.70 C595.00,477.77 594.92,477.87 594.79,477.90 Z" fill="#fbc0bc" stroke="#222" stroke-width="0.48" stroke-linejoin="round"/>
<rect x="597.80" y="445.94" width="1.8" height="29.57" fill="url(#fade)"/>
<line x1="550.40" y1="444.97" x2="550.40" y2="479.87" stroke="#4a4a4a" stroke-width="0.8"/>
<line x1="550.00" y1="479.47" x2="605.20" y2="479.47" stroke="#4a4a4a" stroke-width="0.8"/>
<line x1="548.70" y1="477.90" x2="550.40" y2="477.90" stroke="#4a4a4a" stroke-width="0.6"/>
<text x="547.50" y="479.60" font-size="4.8" text-anchor="end" fill="#222" stroke="#222" stroke-width="0.07">0</text>
<line x1="548.70" y1="466.70" x2="550.40" y2="466.70" stroke="#4a4a4a" stroke-width="0.6"/>
<text x="547.50" y="468.40" font-size="4.8" text-anchor="end" fill="#222" stroke="#222" stroke-width="0.07">1</text>
<line x1="548.70" y1="455.50" x2="550.40" y2="455.50" stroke="#4a4a4a" stroke-width="0.6"/>
<text x="547.50" y="457.20" font-size="4.8" text-anchor="end" fill="#222" stroke="#222" stroke-width="0.07">2</text>
<line x1="556.90" y1="479.47" x2="556.90" y2="480.97" stroke="#4a4a4a" stroke-width="0.6"/>
<text x="558.70" y="482.27" font-size="5.1" text-anchor="end" fill="#222" transform="rotate(-90 558.70 482.27)" stroke="#222" stroke-width="0.07">LH3</text>
<line x1="567.35" y1="479.47" x2="567.35" y2="480.97" stroke="#4a4a4a" stroke-width="0.6"/>
<text x="569.15" y="482.27" font-size="5.1" text-anchor="end" fill="#222" transform="rotate(-90 569.15 482.27)" stroke="#222" stroke-width="0.07">LH5</text>
<line x1="577.80" y1="479.47" x2="577.80" y2="480.97" stroke="#4a4a4a" stroke-width="0.6"/>
<text x="579.60" y="482.27" font-size="5.1" text-anchor="end" fill="#222" transform="rotate(-90 579.60 482.27)" stroke="#222" stroke-width="0.07">LH7</text>
<line x1="588.25" y1="479.47" x2="588.25" y2="480.97" stroke="#4a4a4a" stroke-width="0.6"/>
<text x="590.05" y="482.27" font-size="5.1" text-anchor="end" fill="#222" transform="rotate(-90 590.05 482.27)" stroke="#222" stroke-width="0.07">LH9</text>
<line x1="598.70" y1="479.47" x2="598.70" y2="480.97" stroke="#4a4a4a" stroke-width="0.6"/>
<text x="600.50" y="482.27" font-size="5.1" text-anchor="end" fill="#222" transform="rotate(-90 600.50 482.27)" stroke="#222" stroke-width="0.07">LH11</text>
<text x="577.70" y="506.10" font-size="6.8" text-anchor="middle" font-weight="bold" fill="#000">ADGRE5</text>
<path d="M552.53,544.20 L561.27,544.20 C561.00,544.03 560.24,543.74 559.66,543.16 C559.08,542.58 557.97,541.71 557.82,540.73 C557.67,539.74 558.43,538.76 558.74,537.25 C559.05,535.74 559.66,533.43 559.66,531.69 C559.66,529.95 559.12,528.22 558.74,526.83 C558.36,525.44 557.67,525.32 557.36,523.35 C557.05,521.38 556.98,516.40 556.90,515.01 C556.82,516.40 556.75,521.38 556.44,523.35 C556.13,525.32 555.44,525.44 555.06,526.83 C554.68,528.22 554.14,529.95 554.14,531.69 C554.14,533.43 554.75,535.74 555.06,537.25 C555.37,538.76 556.13,539.74 555.98,540.73 C555.83,541.71 554.72,542.58 554.14,543.16 C553.56,543.74 552.80,544.03 552.53,544.20 Z" fill="#9a0541" stroke="#222" stroke-width="0.48" stroke-linejoin="round"/>
<rect x="556.00" y="514.41" width="1.8" height="6.94" fill="url(#fade)"/>
<path d="M562.93,544.20 L571.67,544.20 C571.40,544.03 570.67,543.74 570.06,543.16 C569.45,542.58 568.14,541.71 567.99,540.73 C567.84,539.74 568.83,538.76 569.14,537.25 C569.45,535.74 569.87,533.43 569.83,531.69 C569.79,529.95 569.25,528.22 568.91,526.83 C568.56,525.44 568.03,524.97 567.76,523.35 C567.49,521.73 567.38,518.14 567.30,517.10 C567.22,518.14 567.11,521.73 566.84,523.35 C566.57,524.97 566.03,525.44 565.69,526.83 C565.34,528.22 564.81,529.95 564.77,531.69 C564.73,533.43 565.15,535.74 565.46,537.25 C565.77,538.76 566.76,539.74 566.61,540.73 C566.46,541.71 565.15,542.58 564.54,543.16 C563.93,543.74 563.20,544.03 562.93,544.20 Z" fill="#d91c78" stroke="#222" stroke-width="0.48" stroke-linejoin="round"/>
<rect x="566.40" y="516.50" width="1.8" height="4.86" fill="url(#fade)"/>
<path d="M573.79,544.20 L581.61,544.20 C581.26,544.03 580.10,543.74 579.54,543.16 C578.98,542.58 578.21,541.71 578.25,540.73 C578.29,539.74 579.36,538.76 579.77,537.25 C580.18,535.74 580.69,533.43 580.69,531.69 C580.69,529.95 580.15,528.22 579.77,526.83 C579.39,525.44 578.74,525.55 578.39,523.35 C578.04,521.15 577.81,515.24 577.70,513.62 C577.58,515.24 577.35,521.15 577.01,523.35 C576.66,525.55 576.01,525.44 575.63,526.83 C575.25,528.22 574.71,529.95 574.71,531.69 C574.71,533.43 575.22,535.74 575.63,537.25 C576.04,538.76 577.11,539.74 577.15,540.73 C577.19,541.71 576.42,542.58 575.86,543.16 C575.30,543.74 574.13,544.03 573.79,544.20 Z" fill="#df6db5" stroke="#222" stroke-width="0.48" stroke-linejoin="round"/>
<rect x="576.80" y="513.02" width="1.8" height="8.33" fill="url(#fade)"/>
<path d="M584.65,544.20 L591.55,544.20 C591.24,544.03 590.13,543.74 589.71,543.16 C589.29,542.58 588.83,541.71 589.02,540.73 C589.21,539.74 590.32,538.76 590.86,537.25 C591.40,535.74 592.24,533.43 592.24,531.69 C592.24,529.95 591.40,528.22 590.86,526.83 C590.32,525.44 589.48,525.67 589.02,523.35 C588.56,521.03 588.25,514.66 588.10,512.93 C587.95,514.66 587.64,521.03 587.18,523.35 C586.72,525.67 585.88,525.44 585.34,526.83 C584.80,528.22 583.96,529.95 583.96,531.69 C583.96,533.43 584.80,535.74 585.34,537.25 C585.88,538.76 586.99,539.74 587.18,540.73 C587.37,541.71 586.91,542.58 586.49,543.16 C586.07,543.74 584.96,544.03 584.65,544.20 Z" fill="#d7acdc" stroke="#222" stroke-width="0.48" stroke-linejoin="round"/>
<rect x="587.20" y="512.33" width="1.8" height="9.02" fill="url(#fade)"/>
<path d="M594.59,544.20 L602.41,544.20 C602.06,544.03 600.88,543.74 600.34,543.16 C599.80,542.58 599.04,541.71 599.19,540.73 C599.34,539.74 600.68,538.76 601.26,537.25 C601.84,535.74 602.64,533.43 602.64,531.69 C602.64,529.95 601.76,528.22 601.26,526.83 C600.76,525.44 600.11,525.67 599.65,523.35 C599.19,521.03 598.69,514.66 598.50,512.93 C598.31,514.66 597.81,521.03 597.35,523.35 C596.89,525.67 596.24,525.44 595.74,526.83 C595.24,528.22 594.36,529.95 594.36,531.69 C594.36,533.43 595.16,535.74 595.74,537.25 C596.32,538.76 597.66,539.74 597.81,540.73 C597.96,541.71 597.20,542.58 596.66,543.16 C596.12,543.74 594.94,544.03 594.59,544.20 Z" fill="#fbc0bc" stroke="#222" stroke-width="0.48" stroke-linejoin="round"/>
<rect x="597.60" y="512.33" width="1.8" height="9.02" fill="url(#fade)"/>
<line x1="550.40" y1="511.36" x2="550.40" y2="546.16" stroke="#4a4a4a" stroke-width="0.8"/>
<line x1="550.00" y1="545.76" x2="605.00" y2="545.76" stroke="#4a4a4a" stroke-width="0.8"/>
<line x1="548.70" y1="544.20" x2="550.40" y2="544.20" stroke="#4a4a4a" stroke-width="0.6"/>
<text x="547.50" y="545.90" font-size="4.8" text-anchor="end" fill="#222" stroke="#222" stroke-width="0.07">0</text>
<line x1="548.70" y1="537.25" x2="550.40" y2="537.25" stroke="#4a4a4a" stroke-width="0.6"/>
<text x="547.50" y="538.95" font-size="4.8" text-anchor="end" fill="#222" stroke="#222" stroke-width="0.07">1</text>
<line x1="548.70" y1="530.30" x2="550.40" y2="530.30" stroke="#4a4a4a" stroke-width="0.6"/>
<text x="547.50" y="532.00" font-size="4.8" text-anchor="end" fill="#222" stroke="#222" stroke-width="0.07">2</text>
<line x1="548.70" y1="523.35" x2="550.40" y2="523.35" stroke="#4a4a4a" stroke-width="0.6"/>
<text x="547.50" y="525.05" font-size="4.8" text-anchor="end" fill="#222" stroke="#222" stroke-width="0.07">3</text>
<line x1="548.70" y1="516.40" x2="550.40" y2="516.40" stroke="#4a4a4a" stroke-width="0.6"/>
<text x="547.50" y="518.10" font-size="4.8" text-anchor="end" fill="#222" stroke="#222" stroke-width="0.07">4</text>
<line x1="556.90" y1="545.76" x2="556.90" y2="547.26" stroke="#4a4a4a" stroke-width="0.6"/>
<text x="558.70" y="548.56" font-size="5.1" text-anchor="end" fill="#222" transform="rotate(-90 558.70 548.56)" stroke="#222" stroke-width="0.07">LH3</text>
<line x1="567.30" y1="545.76" x2="567.30" y2="547.26" stroke="#4a4a4a" stroke-width="0.6"/>
<text x="569.10" y="548.56" font-size="5.1" text-anchor="end" fill="#222" transform="rotate(-90 569.10 548.56)" stroke="#222" stroke-width="0.07">LH5</text>
<line x1="577.70" y1="545.76" x2="577.70" y2="547.26" stroke="#4a4a4a" stroke-width="0.6"/>
<text x="579.50" y="548.56" font-size="5.1" text-anchor="end" fill="#222" transform="rotate(-90 579.50 548.56)" stroke="#222" stroke-width="0.07">LH7</text>
<line x1="588.10" y1="545.76" x2="588.10" y2="547.26" stroke="#4a4a4a" stroke-width="0.6"/>
<text x="589.90" y="548.56" font-size="5.1" text-anchor="end" fill="#222" transform="rotate(-90 589.90 548.56)" stroke="#222" stroke-width="0.07">LH9</text>
<line x1="598.50" y1="545.76" x2="598.50" y2="547.26" stroke="#4a4a4a" stroke-width="0.6"/>
<text x="600.30" y="548.56" font-size="5.1" text-anchor="end" fill="#222" transform="rotate(-90 600.30 548.56)" stroke="#222" stroke-width="0.07">LH11</text>
<text x="652.50" y="42.30" font-size="6.8" text-anchor="middle" font-weight="bold" fill="#000">CXCR3</text>
<path d="M630.54,80.20 L636.06,80.20 C635.97,80.18 635.89,80.13 635.51,80.10 C635.12,80.06 634.12,80.49 633.76,80.00 C633.40,79.50 633.42,80.20 633.36,77.12 C633.29,74.05 633.36,65.47 633.36,61.55 C633.35,57.62 633.31,54.88 633.30,53.55 C633.29,54.88 633.25,57.62 633.24,61.55 C633.24,65.47 633.31,74.05 633.24,77.12 C633.18,80.20 633.20,79.50 632.84,80.00 C632.48,80.49 631.48,80.06 631.09,80.10 C630.71,80.13 630.63,80.18 630.54,80.20 Z" fill="#9a0541" stroke="#222" stroke-width="0.48" stroke-linejoin="round"/>
<rect x="632.40" y="52.95" width="1.8" height="25.05" fill="url(#fade)"/>
<path d="M640.14,80.20 L645.66,80.20 C645.57,80.18 645.49,80.13 645.11,80.10 C644.72,80.06 643.72,80.49 643.36,80.00 C643.00,79.50 643.02,79.96 642.96,77.12 C642.89,74.29 642.96,66.57 642.96,62.98 C642.95,59.39 642.91,56.83 642.90,55.60 C642.89,56.83 642.85,59.39 642.84,62.98 C642.84,66.57 642.91,74.29 642.84,77.12 C642.78,79.96 642.80,79.50 642.44,80.00 C642.08,80.49 641.08,80.06 640.69,80.10 C640.31,80.13 640.23,80.18 640.14,80.20 Z" fill="#d91c78" stroke="#222" stroke-width="0.48" stroke-linejoin="round"/>
<rect x="642.00" y="55.00" width="1.8" height="22.99" fill="url(#fade)"/>
<path d="M649.74,80.20 L655.26,80.20 C655.17,80.18 655.09,80.13 654.71,80.10 C654.32,80.06 653.32,80.49 652.96,80.00 C652.60,79.50 652.62,80.80 652.56,77.12 C652.49,73.45 652.56,62.74 652.56,57.96 C652.55,53.17 652.51,50.01 652.50,48.42 C652.49,50.01 652.45,53.17 652.44,57.96 C652.44,62.74 652.51,73.45 652.44,77.12 C652.38,80.80 652.40,79.50 652.04,80.00 C651.68,80.49 650.68,80.06 650.29,80.10 C649.91,80.13 649.83,80.18 649.74,80.20 Z" fill="#df6db5" stroke="#222" stroke-width="0.48" stroke-linejoin="round"/>
<rect x="651.60" y="47.82" width="1.8" height="30.17" fill="url(#fade)"/>
<path d="M659.34,80.20 L664.86,80.20 C664.77,80.18 664.69,80.13 664.31,80.10 C663.92,80.06 662.92,80.49 662.56,80.00 C662.20,79.50 662.22,80.32 662.16,77.12 C662.09,73.93 662.16,64.93 662.16,60.83 C662.15,56.73 662.11,53.91 662.10,52.53 C662.09,53.91 662.05,56.73 662.04,60.83 C662.04,64.93 662.11,73.93 662.04,77.12 C661.98,80.32 662.00,79.50 661.64,80.00 C661.28,80.49 660.28,80.06 659.89,80.10 C659.51,80.13 659.43,80.18 659.34,80.20 Z" fill="#d7acdc" stroke="#222" stroke-width="0.48" stroke-linejoin="round"/>
<rect x="661.20" y="51.93" width="1.8" height="26.07" fill="url(#fade)"/>
<path d="M668.94,80.20 L674.46,80.20 C674.37,80.18 674.29,80.13 673.91,80.10 C673.52,80.06 672.52,80.49 672.16,80.00 C671.80,79.50 671.82,80.80 671.76,77.12 C671.69,73.45 671.76,62.74 671.76,57.96 C671.75,53.17 671.71,50.01 671.70,48.42 C671.69,50.01 671.65,53.17 671.64,57.96 C671.64,62.74 671.71,73.45 671.64,77.12 C671.58,80.80 671.60,79.50 671.24,80.00 C670.88,80.49 669.88,80.06 669.49,80.10 C669.11,80.13 669.03,80.18 668.94,80.20 Z" fill="#fbc0bc" stroke="#222" stroke-width="0.48" stroke-linejoin="round"/>
<rect x="670.80" y="47.82" width="1.8" height="30.17" fill="url(#fade)"/>
<line x1="627.50" y1="46.84" x2="627.50" y2="82.19" stroke="#4a4a4a" stroke-width="0.8"/>
<line x1="627.10" y1="81.79" x2="677.50" y2="81.79" stroke="#4a4a4a" stroke-width="0.8"/>
<line x1="625.80" y1="80.20" x2="627.50" y2="80.20" stroke="#4a4a4a" stroke-width="0.6"/>
<text x="624.60" y="81.90" font-size="4.8" text-anchor="end" fill="#222" stroke="#222" stroke-width="0.07">0.0</text>
<line x1="625.80" y1="69.95" x2="627.50" y2="69.95" stroke="#4a4a4a" stroke-width="0.6"/>
<text x="624.60" y="71.65" font-size="4.8" text-anchor="end" fill="#222" stroke="#222" stroke-width="0.07">0.5</text>
<line x1="625.80" y1="59.70" x2="627.50" y2="59.70" stroke="#4a4a4a" stroke-width="0.6"/>
<text x="624.60" y="61.40" font-size="4.8" text-anchor="end" fill="#222" stroke="#222" stroke-width="0.07">1.0</text>
<line x1="625.80" y1="49.45" x2="627.50" y2="49.45" stroke="#4a4a4a" stroke-width="0.6"/>
<text x="624.60" y="51.15" font-size="4.8" text-anchor="end" fill="#222" stroke="#222" stroke-width="0.07">1.5</text>
<line x1="633.30" y1="81.79" x2="633.30" y2="83.29" stroke="#4a4a4a" stroke-width="0.6"/>
<text x="635.10" y="84.59" font-size="5.1" text-anchor="end" fill="#222" transform="rotate(-90 635.10 84.59)" stroke="#222" stroke-width="0.07">LH3</text>
<line x1="642.90" y1="81.79" x2="642.90" y2="83.29" stroke="#4a4a4a" stroke-width="0.6"/>
<text x="644.70" y="84.59" font-size="5.1" text-anchor="end" fill="#222" transform="rotate(-90 644.70 84.59)" stroke="#222" stroke-width="0.07">LH5</text>
<line x1="652.50" y1="81.79" x2="652.50" y2="83.29" stroke="#4a4a4a" stroke-width="0.6"/>
<text x="654.30" y="84.59" font-size="5.1" text-anchor="end" fill="#222" transform="rotate(-90 654.30 84.59)" stroke="#222" stroke-width="0.07">LH7</text>
<line x1="662.10" y1="81.79" x2="662.10" y2="83.29" stroke="#4a4a4a" stroke-width="0.6"/>
<text x="663.90" y="84.59" font-size="5.1" text-anchor="end" fill="#222" transform="rotate(-90 663.90 84.59)" stroke="#222" stroke-width="0.07">LH9</text>
<line x1="671.70" y1="81.79" x2="671.70" y2="83.29" stroke="#4a4a4a" stroke-width="0.6"/>
<text x="673.50" y="84.59" font-size="5.1" text-anchor="end" fill="#222" transform="rotate(-90 673.50 84.59)" stroke="#222" stroke-width="0.07">LH11</text>
<text x="653.00" y="107.30" font-size="6.8" text-anchor="middle" font-weight="bold" fill="#000">CXCR4</text>
<path d="M627.93,145.40 L636.67,145.40 C636.52,145.15 636.17,144.65 635.75,143.90 C635.33,143.15 634.52,142.15 634.14,140.90 C633.76,139.65 633.64,138.15 633.45,136.40 C633.26,134.65 633.12,132.40 632.99,130.40 C632.86,128.40 632.78,126.28 632.67,124.40 C632.55,122.53 632.36,120.03 632.30,119.15 C632.24,120.03 632.05,122.53 631.93,124.40 C631.82,126.28 631.74,128.40 631.61,130.40 C631.48,132.40 631.34,134.65 631.15,136.40 C630.96,138.15 630.84,139.65 630.46,140.90 C630.08,142.15 629.27,143.15 628.85,143.90 C628.43,144.65 628.08,145.15 627.93,145.40 Z" fill="#9a0541" stroke="#222" stroke-width="0.48" stroke-linejoin="round"/>
<rect x="631.40" y="118.55" width="1.8" height="3.85" fill="url(#fade)"/>
<path d="M638.51,145.40 L646.79,145.40 C646.56,145.15 645.91,144.65 645.41,143.90 C644.91,143.15 644.11,142.15 643.80,140.90 C643.49,139.65 643.67,138.15 643.57,136.40 C643.47,134.65 643.32,132.03 643.20,130.40 C643.09,128.78 642.97,129.03 642.88,126.65 C642.79,124.28 642.69,117.90 642.65,116.15 C642.61,117.90 642.51,124.28 642.42,126.65 C642.33,129.03 642.21,128.78 642.10,130.40 C641.98,132.03 641.83,134.65 641.73,136.40 C641.63,138.15 641.81,139.65 641.50,140.90 C641.19,142.15 640.39,143.15 639.89,143.90 C639.39,144.65 638.74,145.15 638.51,145.40 Z" fill="#d91c78" stroke="#222" stroke-width="0.48" stroke-linejoin="round"/>
<rect x="641.75" y="115.55" width="1.8" height="12.85" fill="url(#fade)"/>
<path d="M648.63,145.40 L657.37,145.40 C657.18,145.15 656.68,144.65 656.22,143.90 C655.76,143.15 654.96,142.15 654.61,140.90 C654.27,139.65 654.28,138.15 654.15,136.40 C654.02,134.65 653.96,132.65 653.83,130.40 C653.70,128.15 653.51,125.40 653.37,122.90 C653.23,120.40 653.06,116.65 653.00,115.40 C652.94,116.65 652.77,120.40 652.63,122.90 C652.49,125.40 652.30,128.15 652.17,130.40 C652.04,132.65 651.98,134.65 651.85,136.40 C651.72,138.15 651.74,139.65 651.39,140.90 C651.05,142.15 650.24,143.15 649.78,143.90 C649.32,144.65 648.82,145.15 648.63,145.40 Z" fill="#df6db5" stroke="#222" stroke-width="0.48" stroke-linejoin="round"/>
<rect x="652.10" y="114.80" width="1.8" height="6.10" fill="url(#fade)"/>
<path d="M659.44,145.40 L667.26,145.40 C667.03,145.15 666.34,144.65 665.88,143.90 C665.42,143.15 664.83,142.15 664.50,140.90 C664.17,139.65 664.03,138.15 663.90,136.40 C663.77,134.65 663.81,133.78 663.72,130.40 C663.63,127.03 663.41,118.53 663.35,116.15 C663.29,118.53 663.07,127.03 662.98,130.40 C662.89,133.78 662.93,134.65 662.80,136.40 C662.67,138.15 662.53,139.65 662.20,140.90 C661.87,142.15 661.28,143.15 660.82,143.90 C660.36,144.65 659.67,145.15 659.44,145.40 Z" fill="#d7acdc" stroke="#222" stroke-width="0.48" stroke-linejoin="round"/>
<rect x="662.45" y="115.55" width="1.8" height="12.85" fill="url(#fade)"/>
<path d="M669.56,145.40 L677.84,145.40 C677.57,145.15 676.73,144.65 676.23,143.90 C675.73,143.15 675.12,142.53 674.85,140.90 C674.58,139.28 674.72,136.15 674.62,134.15 C674.52,132.15 674.37,130.78 674.25,128.90 C674.13,127.03 673.98,125.53 673.88,122.90 C673.79,120.28 673.73,114.78 673.70,113.15 C673.67,114.78 673.61,120.28 673.52,122.90 C673.42,125.53 673.27,127.03 673.15,128.90 C673.03,130.78 672.88,132.15 672.78,134.15 C672.68,136.15 672.82,139.28 672.55,140.90 C672.28,142.53 671.67,143.15 671.17,143.90 C670.67,144.65 669.83,145.15 669.56,145.40 Z" fill="#fbc0bc" stroke="#222" stroke-width="0.48" stroke-linejoin="round"/>
<rect x="672.80" y="112.55" width="1.8" height="14.35" fill="url(#fade)"/>
<line x1="625.60" y1="111.54" x2="625.60" y2="147.41" stroke="#4a4a4a" stroke-width="0.8"/>
<line x1="625.20" y1="147.01" x2="680.40" y2="147.01" stroke="#4a4a4a" stroke-width="0.8"/>
<line x1="623.90" y1="145.40" x2="625.60" y2="145.40" stroke="#4a4a4a" stroke-width="0.6"/>
<text x="622.70" y="147.10" font-size="4.8" text-anchor="end" fill="#222" stroke="#222" stroke-width="0.07">0</text>
<line x1="623.90" y1="137.90" x2="625.60" y2="137.90" stroke="#4a4a4a" stroke-width="0.6"/>
<text x="622.70" y="139.60" font-size="4.8" text-anchor="end" fill="#222" stroke="#222" stroke-width="0.07">1</text>
<line x1="623.90" y1="130.40" x2="625.60" y2="130.40" stroke="#4a4a4a" stroke-width="0.6"/>
<text x="622.70" y="132.10" font-size="4.8" text-anchor="end" fill="#222" stroke="#222" stroke-width="0.07">2</text>
<line x1="623.90" y1="122.90" x2="625.60" y2="122.90" stroke="#4a4a4a" stroke-width="0.6"/>
<text x="622.70" y="124.60" font-size="4.8" text-anchor="end" fill="#222" stroke="#222" stroke-width="0.07">3</text>
<line x1="623.90" y1="115.40" x2="625.60" y2="115.40" stroke="#4a4a4a" stroke-width="0.6"/>
<text x="622.70" y="117.10" font-size="4.8" text-anchor="end" fill="#222" stroke="#222" stroke-width="0.07">4</text>
<line x1="632.30" y1="147.01" x2="632.30" y2="148.51" stroke="#4a4a4a" stroke-width="0.6"/>
<text x="634.10" y="149.81" font-size="5.1" text-anchor="end" fill="#222" transform="rotate(-90 634.10 149.81)" stroke="#222" stroke-width="0.07">LH3</text>
<line x1="642.65" y1="147.01" x2="642.65" y2="148.51" stroke="#4a4a4a" stroke-width="0.6"/>
<text x="644.45" y="149.81" font-size="5.1" text-anchor="end" fill="#222" transform="rotate(-90 644.45 149.81)" stroke="#222" stroke-width="0.07">LH5</text>
<line x1="653.00" y1="147.01" x2="653.00" y2="148.51" stroke="#4a4a4a" stroke-width="0.6"/>
<text x="654.80" y="149.81" font-size="5.1" text-anchor="end" fill="#222" transform="rotate(-90 654.80 149.81)" stroke="#222" stroke-width="0.07">LH7</text>
<line x1="663.35" y1="147.01" x2="663.35" y2="148.51" stroke="#4a4a4a" stroke-width="0.6"/>
<text x="665.15" y="149.81" font-size="5.1" text-anchor="end" fill="#222" transform="rotate(-90 665.15 149.81)" stroke="#222" stroke-width="0.07">LH9</text>
<line x1="673.70" y1="147.01" x2="673.70" y2="148.51" stroke="#4a4a4a" stroke-width="0.6"/>
<text x="675.50" y="149.81" font-size="5.1" text-anchor="end" fill="#222" transform="rotate(-90 675.50 149.81)" stroke="#222" stroke-width="0.07">LH11</text>
<text x="653.00" y="173.90" font-size="6.8" text-anchor="middle" font-weight="bold" fill="#000">FPR1</text>
<path d="M627.93,211.50 L636.67,211.50 C636.63,211.24 636.59,210.58 636.44,209.93 C636.29,209.28 635.79,208.49 635.75,207.57 C635.71,206.66 636.17,205.48 636.21,204.44 C636.25,203.39 636.25,202.47 635.98,201.29 C635.71,200.12 635.06,198.55 634.60,197.37 C634.14,196.19 633.56,195.54 633.22,194.23 C632.88,192.92 632.73,191.22 632.58,189.52 C632.42,187.82 632.35,184.94 632.30,184.03 C632.25,184.94 632.18,187.82 632.02,189.52 C631.87,191.22 631.72,192.92 631.38,194.23 C631.04,195.54 630.46,196.19 630.00,197.37 C629.54,198.55 628.89,200.12 628.62,201.29 C628.35,202.47 628.35,203.39 628.39,204.44 C628.43,205.48 628.89,206.66 628.85,207.57 C628.81,208.49 628.31,209.28 628.16,209.93 C628.01,210.58 627.97,211.24 627.93,211.50 Z" fill="#9a0541" stroke="#222" stroke-width="0.48" stroke-linejoin="round"/>
<rect x="631.40" y="183.43" width="1.8" height="4.09" fill="url(#fade)"/>
<path d="M638.28,211.50 L647.02,211.50 C647.02,210.98 647.06,209.67 647.02,208.36 C646.98,207.05 646.91,205.48 646.79,203.65 C646.68,201.82 646.52,199.46 646.33,197.37 C646.14,195.28 645.91,193.05 645.64,191.09 C645.37,189.13 645.07,187.16 644.72,185.59 C644.38,184.03 643.92,182.72 643.57,181.67 C643.23,180.62 642.80,179.71 642.65,179.31 C642.50,179.71 642.08,180.62 641.73,181.67 C641.39,182.72 640.93,184.03 640.58,185.59 C640.24,187.16 639.93,189.13 639.66,191.09 C639.39,193.05 639.16,195.28 638.97,197.37 C638.78,199.46 638.63,201.82 638.51,203.65 C638.40,205.48 638.32,207.05 638.28,208.36 C638.24,209.67 638.28,210.98 638.28,211.50 Z" fill="#d91c78" stroke="#222" stroke-width="0.48" stroke-linejoin="round"/>
<path d="M648.86,211.50 L657.14,211.50 C656.95,211.24 656.30,210.58 655.99,209.93 C655.68,209.28 655.42,208.62 655.30,207.57 C655.19,206.53 655.42,204.96 655.30,203.65 C655.19,202.34 654.88,201.03 654.61,199.72 C654.34,198.42 653.92,197.24 653.69,195.80 C653.46,194.36 653.35,192.92 653.23,191.09 C653.12,189.26 653.04,185.86 653.00,184.81 C652.96,185.86 652.89,189.26 652.77,191.09 C652.66,192.92 652.54,194.36 652.31,195.80 C652.08,197.24 651.66,198.42 651.39,199.72 C651.12,201.03 650.82,202.34 650.70,203.65 C650.59,204.96 650.82,206.53 650.70,207.57 C650.59,208.62 650.32,209.28 650.01,209.93 C649.70,210.58 649.05,211.24 648.86,211.50 Z" fill="#df6db5" stroke="#222" stroke-width="0.48" stroke-linejoin="round"/>
<rect x="652.10" y="184.21" width="1.8" height="9.59" fill="url(#fade)"/>
<path d="M659.44,211.50 L667.26,211.50 C666.99,211.24 666.07,210.58 665.65,209.93 C665.23,209.28 664.96,208.62 664.73,207.57 C664.50,206.53 664.44,205.61 664.27,203.65 C664.10,201.69 663.87,198.68 663.72,195.80 C663.56,192.92 663.41,187.95 663.35,186.38 C663.29,187.95 663.14,192.92 662.98,195.80 C662.83,198.68 662.60,201.69 662.43,203.65 C662.26,205.61 662.20,206.53 661.97,207.57 C661.74,208.62 661.47,209.28 661.05,209.93 C660.63,210.58 659.71,211.24 659.44,211.50 Z" fill="#d7acdc" stroke="#222" stroke-width="0.48" stroke-linejoin="round"/>
<rect x="662.45" y="185.78" width="1.8" height="8.02" fill="url(#fade)"/>
<path d="M669.56,211.50 L677.84,211.50 C677.53,211.30 676.58,210.85 676.00,210.32 C675.42,209.80 674.66,209.08 674.39,208.36 C674.12,207.64 674.46,207.05 674.39,206.00 C674.32,204.96 674.09,205.74 673.98,202.08 C673.86,198.42 673.75,187.03 673.70,184.03 C673.65,187.03 673.54,198.42 673.42,202.08 C673.31,205.74 673.08,204.96 673.01,206.00 C672.94,207.05 673.28,207.64 673.01,208.36 C672.74,209.08 671.98,209.80 671.40,210.32 C670.83,210.85 669.87,211.30 669.56,211.50 Z" fill="#fbc0bc" stroke="#222" stroke-width="0.48" stroke-linejoin="round"/>
<rect x="672.80" y="183.43" width="1.8" height="16.66" fill="url(#fade)"/>
<line x1="625.60" y1="177.71" x2="625.60" y2="213.51" stroke="#4a4a4a" stroke-width="0.8"/>
<line x1="625.20" y1="213.11" x2="680.40" y2="213.11" stroke="#4a4a4a" stroke-width="0.8"/>
<line x1="623.90" y1="211.50" x2="625.60" y2="211.50" stroke="#4a4a4a" stroke-width="0.6"/>
<text x="622.70" y="213.20" font-size="4.8" text-anchor="end" fill="#222" stroke="#222" stroke-width="0.07">0</text>
<line x1="623.90" y1="203.65" x2="625.60" y2="203.65" stroke="#4a4a4a" stroke-width="0.6"/>
<text x="622.70" y="205.35" font-size="4.8" text-anchor="end" fill="#222" stroke="#222" stroke-width="0.07">1</text>
<line x1="623.90" y1="195.80" x2="625.60" y2="195.80" stroke="#4a4a4a" stroke-width="0.6"/>
<text x="622.70" y="197.50" font-size="4.8" text-anchor="end" fill="#222" stroke="#222" stroke-width="0.07">2</text>
<line x1="623.90" y1="187.95" x2="625.60" y2="187.95" stroke="#4a4a4a" stroke-width="0.6"/>
<text x="622.70" y="189.65" font-size="4.8" text-anchor="end" fill="#222" stroke="#222" stroke-width="0.07">3</text>
<line x1="623.90" y1="180.10" x2="625.60" y2="180.10" stroke="#4a4a4a" stroke-width="0.6"/>
<text x="622.70" y="181.80" font-size="4.8" text-anchor="end" fill="#222" stroke="#222" stroke-width="0.07">4</text>
<line x1="632.30" y1="213.11" x2="632.30" y2="214.61" stroke="#4a4a4a" stroke-width="0.6"/>
<text x="634.10" y="215.91" font-size="5.1" text-anchor="end" fill="#222" transform="rotate(-90 634.10 215.91)" stroke="#222" stroke-width="0.07">LH3</text>
<line x1="642.65" y1="213.11" x2="642.65" y2="214.61" stroke="#4a4a4a" stroke-width="0.6"/>
<text x="644.45" y="215.91" font-size="5.1" text-anchor="end" fill="#222" transform="rotate(-90 644.45 215.91)" stroke="#222" stroke-width="0.07">LH5</text>
<line x1="653.00" y1="213.11" x2="653.00" y2="214.61" stroke="#4a4a4a" stroke-width="0.6"/>
<text x="654.80" y="215.91" font-size="5.1" text-anchor="end" fill="#222" transform="rotate(-90 654.80 215.91)" stroke="#222" stroke-width="0.07">LH7</text>
<line x1="663.35" y1="213.11" x2="663.35" y2="214.61" stroke="#4a4a4a" stroke-width="0.6"/>
<text x="665.15" y="215.91" font-size="5.1" text-anchor="end" fill="#222" transform="rotate(-90 665.15 215.91)" stroke="#222" stroke-width="0.07">LH9</text>
<line x1="673.70" y1="213.11" x2="673.70" y2="214.61" stroke="#4a4a4a" stroke-width="0.6"/>
<text x="675.50" y="215.91" font-size="5.1" text-anchor="end" fill="#222" transform="rotate(-90 675.50 215.91)" stroke="#222" stroke-width="0.07">LH11</text>
<text x="655.00" y="240.50" font-size="6.8" text-anchor="middle" font-weight="bold" fill="#000">FPR3</text>
<path d="M630.03,278.60 L638.77,278.60 C638.58,278.31 638.08,277.57 637.62,276.84 C637.16,276.11 636.32,275.37 636.01,274.20 C635.70,273.03 635.86,271.41 635.78,269.80 C635.70,268.19 635.70,266.13 635.55,264.52 C635.40,262.91 635.05,261.44 634.86,260.12 C634.67,258.80 634.48,257.19 634.40,256.60 C634.32,257.19 634.13,258.80 633.94,260.12 C633.75,261.44 633.40,262.91 633.25,264.52 C633.10,266.13 633.10,268.19 633.02,269.80 C632.94,271.41 633.10,273.03 632.79,274.20 C632.48,275.37 631.64,276.11 631.18,276.84 C630.72,277.57 630.22,278.31 630.03,278.60 Z" fill="#9a0541" stroke="#222" stroke-width="0.48" stroke-linejoin="round"/>
<path d="M640.79,278.60 L648.61,278.60 C648.48,278.57 648.40,278.50 647.83,278.45 C647.25,278.39 645.67,278.49 645.16,278.29 C644.65,278.10 644.82,279.90 644.76,277.28 C644.69,274.66 644.76,266.18 644.76,262.58 C644.75,258.99 644.71,256.86 644.70,255.72 C644.69,256.86 644.65,258.99 644.64,262.58 C644.64,266.18 644.71,274.66 644.64,277.28 C644.58,279.90 644.75,278.10 644.24,278.29 C643.73,278.49 642.15,278.39 641.57,278.45 C641.00,278.50 640.92,278.57 640.79,278.60 Z" fill="#d91c78" stroke="#222" stroke-width="0.48" stroke-linejoin="round"/>
<rect x="643.80" y="255.12" width="1.8" height="21.17" fill="url(#fade)"/>
<path d="M650.86,278.60 L659.14,278.60 C658.83,278.31 657.84,277.57 657.30,276.84 C656.76,276.11 656.15,275.37 655.92,274.20 C655.69,273.03 655.96,271.71 655.92,269.80 C655.88,267.89 655.81,264.52 655.69,262.76 C655.58,261.00 655.35,262.03 655.23,259.24 C655.12,256.45 655.04,248.24 655.00,246.04 C654.96,248.24 654.88,256.45 654.77,259.24 C654.65,262.03 654.42,261.00 654.31,262.76 C654.19,264.52 654.12,267.89 654.08,269.80 C654.04,271.71 654.31,273.03 654.08,274.20 C653.85,275.37 653.24,276.11 652.70,276.84 C652.16,277.57 651.17,278.31 650.86,278.60 Z" fill="#df6db5" stroke="#222" stroke-width="0.48" stroke-linejoin="round"/>
<rect x="654.10" y="245.44" width="1.8" height="15.32" fill="url(#fade)"/>
<path d="M661.39,278.60 L669.21,278.60 C668.90,278.31 667.87,277.57 667.37,276.84 C666.87,276.11 666.45,275.37 666.22,274.20 C665.99,273.03 666.07,271.41 665.99,269.80 C665.91,268.19 665.88,266.72 665.76,264.52 C665.64,262.32 665.38,257.92 665.30,256.60 C665.22,257.92 664.95,262.32 664.84,264.52 C664.72,266.72 664.69,268.19 664.61,269.80 C664.53,271.41 664.61,273.03 664.38,274.20 C664.15,275.37 663.73,276.11 663.23,276.84 C662.73,277.57 661.70,278.31 661.39,278.60 Z" fill="#d7acdc" stroke="#222" stroke-width="0.48" stroke-linejoin="round"/>
<rect x="664.40" y="256.00" width="1.8" height="6.52" fill="url(#fade)"/>
<path d="M671.46,278.60 L679.74,278.60 C679.60,278.53 679.53,278.31 678.91,278.16 C678.30,278.01 676.60,278.01 676.06,277.72 C675.52,277.43 675.72,279.23 675.66,276.40 C675.59,273.57 675.66,264.62 675.66,260.74 C675.65,256.85 675.61,254.36 675.60,253.08 C675.59,254.36 675.55,256.85 675.54,260.74 C675.54,264.62 675.61,273.57 675.54,276.40 C675.48,279.23 675.68,277.43 675.14,277.72 C674.60,278.01 672.90,278.01 672.29,278.16 C671.67,278.31 671.60,278.53 671.46,278.60 Z" fill="#fbc0bc" stroke="#222" stroke-width="0.48" stroke-linejoin="round"/>
<rect x="674.70" y="252.48" width="1.8" height="23.24" fill="url(#fade)"/>
<line x1="628.30" y1="244.41" x2="628.30" y2="280.63" stroke="#4a4a4a" stroke-width="0.8"/>
<line x1="627.90" y1="280.23" x2="681.70" y2="280.23" stroke="#4a4a4a" stroke-width="0.8"/>
<line x1="626.60" y1="278.60" x2="628.30" y2="278.60" stroke="#4a4a4a" stroke-width="0.6"/>
<text x="625.40" y="280.30" font-size="4.8" text-anchor="end" fill="#222" stroke="#222" stroke-width="0.07">0</text>
<line x1="626.60" y1="269.80" x2="628.30" y2="269.80" stroke="#4a4a4a" stroke-width="0.6"/>
<text x="625.40" y="271.50" font-size="4.8" text-anchor="end" fill="#222" stroke="#222" stroke-width="0.07">1</text>
<line x1="626.60" y1="261.00" x2="628.30" y2="261.00" stroke="#4a4a4a" stroke-width="0.6"/>
<text x="625.40" y="262.70" font-size="4.8" text-anchor="end" fill="#222" stroke="#222" stroke-width="0.07">2</text>
<line x1="626.60" y1="252.20" x2="628.30" y2="252.20" stroke="#4a4a4a" stroke-width="0.6"/>
<text x="625.40" y="253.90" font-size="4.8" text-anchor="end" fill="#222" stroke="#222" stroke-width="0.07">3</text>
<line x1="634.40" y1="280.23" x2="634.40" y2="281.73" stroke="#4a4a4a" stroke-width="0.6"/>
<text x="636.20" y="283.03" font-size="5.1" text-anchor="end" fill="#222" transform="rotate(-90 636.20 283.03)" stroke="#222" stroke-width="0.07">LH3</text>
<line x1="644.70" y1="280.23" x2="644.70" y2="281.73" stroke="#4a4a4a" stroke-width="0.6"/>
<text x="646.50" y="283.03" font-size="5.1" text-anchor="end" fill="#222" transform="rotate(-90 646.50 283.03)" stroke="#222" stroke-width="0.07">LH5</text>
<line x1="655.00" y1="280.23" x2="655.00" y2="281.73" stroke="#4a4a4a" stroke-width="0.6"/>
<text x="656.80" y="283.03" font-size="5.1" text-anchor="end" fill="#222" transform="rotate(-90 656.80 283.03)" stroke="#222" stroke-width="0.07">LH7</text>
<line x1="665.30" y1="280.23" x2="665.30" y2="281.73" stroke="#4a4a4a" stroke-width="0.6"/>
<text x="667.10" y="283.03" font-size="5.1" text-anchor="end" fill="#222" transform="rotate(-90 667.10 283.03)" stroke="#222" stroke-width="0.07">LH9</text>
<line x1="675.60" y1="280.23" x2="675.60" y2="281.73" stroke="#4a4a4a" stroke-width="0.6"/>
<text x="677.40" y="283.03" font-size="5.1" text-anchor="end" fill="#222" transform="rotate(-90 677.40 283.03)" stroke="#222" stroke-width="0.07">LH11</text>
<text x="653.00" y="307.10" font-size="6.8" text-anchor="middle" font-weight="bold" fill="#000">FAM3C</text>
<path d="M628.16,344.80 L636.44,344.80 C636.30,344.74 636.23,344.56 635.61,344.44 C635.00,344.31 633.30,344.31 632.76,344.07 C632.22,343.83 632.42,345.12 632.36,342.98 C632.29,340.83 632.36,334.13 632.36,331.19 C632.35,328.26 632.31,326.33 632.30,325.36 C632.29,326.33 632.25,328.26 632.24,331.19 C632.24,334.13 632.31,340.83 632.24,342.98 C632.18,345.12 632.38,343.83 631.84,344.07 C631.30,344.31 629.60,344.31 628.99,344.44 C628.37,344.56 628.30,344.74 628.16,344.80 Z" fill="#9a0541" stroke="#222" stroke-width="0.48" stroke-linejoin="round"/>
<rect x="631.40" y="324.76" width="1.8" height="17.31" fill="url(#fade)"/>
<path d="M638.74,344.80 L646.56,344.80 C646.43,344.76 646.35,344.66 645.78,344.59 C645.20,344.52 643.62,344.64 643.11,344.37 C642.60,344.11 642.77,345.17 642.71,342.98 C642.64,340.78 642.71,334.13 642.71,331.19 C642.70,328.26 642.66,326.33 642.65,325.36 C642.64,326.33 642.60,328.26 642.59,331.19 C642.59,334.13 642.66,340.78 642.59,342.98 C642.53,345.17 642.70,344.11 642.19,344.37 C641.68,344.64 640.10,344.52 639.52,344.59 C638.95,344.66 638.87,344.76 638.74,344.80 Z" fill="#d91c78" stroke="#222" stroke-width="0.48" stroke-linejoin="round"/>
<rect x="641.75" y="324.76" width="1.8" height="17.61" fill="url(#fade)"/>
<path d="M648.86,344.80 L657.14,344.80 C656.87,344.56 656.03,343.95 655.53,343.34 C655.03,342.73 654.42,342.13 654.15,341.16 C653.88,340.18 654.05,338.93 653.92,337.51 C653.79,336.09 653.52,336.70 653.37,332.65 C653.21,328.60 653.06,316.45 653.00,313.21 C652.94,316.45 652.79,328.60 652.63,332.65 C652.48,336.70 652.21,336.09 652.08,337.51 C651.95,338.93 652.12,340.18 651.85,341.16 C651.58,342.13 650.97,342.73 650.47,343.34 C649.97,343.95 649.13,344.56 648.86,344.80 Z" fill="#df6db5" stroke="#222" stroke-width="0.48" stroke-linejoin="round"/>
<rect x="652.10" y="312.61" width="1.8" height="18.04" fill="url(#fade)"/>
<path d="M659.44,344.80 L667.26,344.80 C666.91,344.56 665.73,343.95 665.19,343.34 C664.65,342.73 664.25,342.13 664.04,341.16 C663.83,340.18 663.98,338.93 663.90,337.51 C663.83,336.09 663.67,335.08 663.58,332.65 C663.49,330.22 663.39,324.55 663.35,322.93 C663.31,324.55 663.21,330.22 663.12,332.65 C663.03,335.08 662.87,336.09 662.80,337.51 C662.72,338.93 662.87,340.18 662.66,341.16 C662.45,342.13 662.05,342.73 661.51,343.34 C660.97,343.95 659.78,344.56 659.44,344.80 Z" fill="#d7acdc" stroke="#222" stroke-width="0.48" stroke-linejoin="round"/>
<rect x="662.45" y="322.33" width="1.8" height="13.18" fill="url(#fade)"/>
<path d="M669.79,344.80 L677.61,344.80 C677.30,344.56 676.27,343.95 675.77,343.34 C675.27,342.73 674.80,342.33 674.62,341.16 C674.44,339.98 674.79,337.71 674.71,336.30 C674.64,334.88 674.33,334.88 674.16,332.65 C673.99,330.42 673.78,324.55 673.70,322.93 C673.62,324.55 673.41,330.42 673.24,332.65 C673.07,334.88 672.76,334.88 672.69,336.30 C672.61,337.71 672.96,339.98 672.78,341.16 C672.60,342.33 672.13,342.73 671.63,343.34 C671.13,343.95 670.10,344.56 669.79,344.80 Z" fill="#fbc0bc" stroke="#222" stroke-width="0.48" stroke-linejoin="round"/>
<rect x="672.80" y="322.33" width="1.8" height="8.32" fill="url(#fade)"/>
<line x1="625.90" y1="311.63" x2="625.90" y2="346.78" stroke="#4a4a4a" stroke-width="0.8"/>
<line x1="625.50" y1="346.38" x2="680.10" y2="346.38" stroke="#4a4a4a" stroke-width="0.8"/>
<line x1="624.20" y1="344.80" x2="625.90" y2="344.80" stroke="#4a4a4a" stroke-width="0.6"/>
<text x="623.00" y="346.50" font-size="4.8" text-anchor="end" fill="#222" stroke="#222" stroke-width="0.07">0</text>
<line x1="624.20" y1="332.65" x2="625.90" y2="332.65" stroke="#4a4a4a" stroke-width="0.6"/>
<text x="623.00" y="334.35" font-size="4.8" text-anchor="end" fill="#222" stroke="#222" stroke-width="0.07">1</text>
<line x1="624.20" y1="320.50" x2="625.90" y2="320.50" stroke="#4a4a4a" stroke-width="0.6"/>
<text x="623.00" y="322.20" font-size="4.8" text-anchor="end" fill="#222" stroke="#222" stroke-width="0.07">2</text>
<line x1="632.30" y1="346.38" x2="632.30" y2="347.88" stroke="#4a4a4a" stroke-width="0.6"/>
<text x="634.10" y="349.18" font-size="5.1" text-anchor="end" fill="#222" transform="rotate(-90 634.10 349.18)" stroke="#222" stroke-width="0.07">LH3</text>
<line x1="642.65" y1="346.38" x2="642.65" y2="347.88" stroke="#4a4a4a" stroke-width="0.6"/>
<text x="644.45" y="349.18" font-size="5.1" text-anchor="end" fill="#222" transform="rotate(-90 644.45 349.18)" stroke="#222" stroke-width="0.07">LH5</text>
<line x1="653.00" y1="346.38" x2="653.00" y2="347.88" stroke="#4a4a4a" stroke-width="0.6"/>
<text x="654.80" y="349.18" font-size="5.1" text-anchor="end" fill="#222" transform="rotate(-90 654.80 349.18)" stroke="#222" stroke-width="0.07">LH7</text>
<line x1="663.35" y1="346.38" x2="663.35" y2="347.88" stroke="#4a4a4a" stroke-width="0.6"/>
<text x="665.15" y="349.18" font-size="5.1" text-anchor="end" fill="#222" transform="rotate(-90 665.15 349.18)" stroke="#222" stroke-width="0.07">LH9</text>
<line x1="673.70" y1="346.38" x2="673.70" y2="347.88" stroke="#4a4a4a" stroke-width="0.6"/>
<text x="675.50" y="349.18" font-size="5.1" text-anchor="end" fill="#222" transform="rotate(-90 675.50 349.18)" stroke="#222" stroke-width="0.07">LH11</text>
<text x="655.00" y="373.80" font-size="6.8" text-anchor="middle" font-weight="bold" fill="#000">ITGB2</text>
<path d="M632.33,411.40 L636.47,411.40 C636.36,411.15 636.01,410.56 635.78,409.89 C635.55,409.22 635.01,408.63 635.09,407.37 C635.17,406.11 635.65,404.35 636.24,402.34 C636.83,400.32 638.59,397.47 638.63,395.29 C638.67,393.11 637.06,390.92 636.47,389.25 C635.88,387.57 635.44,386.39 635.09,385.22 C634.75,384.04 634.51,382.70 634.40,382.20 C634.28,382.70 634.05,384.04 633.71,385.22 C633.36,386.39 632.92,387.57 632.33,389.25 C631.74,390.92 630.13,393.11 630.17,395.29 C630.21,397.47 631.97,400.32 632.56,402.34 C633.15,404.35 633.63,406.11 633.71,407.37 C633.79,408.63 633.25,409.22 633.02,409.89 C632.79,410.56 632.44,411.15 632.33,411.40 Z" fill="#9a0541" stroke="#222" stroke-width="0.48" stroke-linejoin="round"/>
<path d="M640.79,411.40 L648.61,411.40 C648.38,411.15 647.65,410.56 647.23,409.89 C646.81,409.22 646.04,408.80 646.08,407.37 C646.12,405.95 646.98,403.34 647.46,401.33 C647.94,399.32 648.97,397.30 648.93,395.29 C648.89,393.27 647.82,391.09 647.23,389.25 C646.64,387.40 645.81,385.55 645.39,384.21 C644.97,382.87 644.81,381.69 644.70,381.19 C644.58,381.69 644.43,382.87 644.01,384.21 C643.59,385.55 642.76,387.40 642.17,389.25 C641.58,391.09 640.51,393.27 640.47,395.29 C640.43,397.30 641.46,399.32 641.94,401.33 C642.42,403.34 643.28,405.95 643.32,407.37 C643.36,408.80 642.59,409.22 642.17,409.89 C641.75,410.56 641.02,411.15 640.79,411.40 Z" fill="#d91c78" stroke="#222" stroke-width="0.48" stroke-linejoin="round"/>
<path d="M650.86,411.40 L659.14,411.40 C658.91,411.15 658.11,410.56 657.76,409.89 C657.41,409.22 656.99,408.80 657.07,407.37 C657.15,405.95 657.86,403.34 658.22,401.33 C658.58,399.32 659.39,397.30 659.23,395.29 C659.08,393.27 657.89,390.92 657.30,389.25 C656.71,387.57 656.07,386.90 655.69,385.22 C655.31,383.54 655.12,380.18 655.00,379.18 C654.88,380.18 654.69,383.54 654.31,385.22 C653.93,386.90 653.29,387.57 652.70,389.25 C652.11,390.92 650.92,393.27 650.77,395.29 C650.61,397.30 651.42,399.32 651.78,401.33 C652.14,403.34 652.85,405.95 652.93,407.37 C653.01,408.80 652.59,409.22 652.24,409.89 C651.89,410.56 651.09,411.15 650.86,411.40 Z" fill="#df6db5" stroke="#222" stroke-width="0.48" stroke-linejoin="round"/>
<rect x="654.10" y="378.58" width="1.8" height="4.64" fill="url(#fade)"/>
<path d="M661.62,411.40 L668.98,411.40 C668.75,411.15 667.98,410.56 667.60,409.89 C667.22,409.22 666.60,408.80 666.68,407.37 C666.76,405.95 667.58,403.34 668.06,401.33 C668.54,399.32 669.49,397.30 669.53,395.29 C669.57,393.27 668.84,391.09 668.29,389.25 C667.74,387.40 666.72,385.47 666.22,384.21 C665.72,382.95 665.45,382.11 665.30,381.69 C665.15,382.11 664.88,382.95 664.38,384.21 C663.88,385.47 662.86,387.40 662.31,389.25 C661.76,391.09 661.03,393.27 661.07,395.29 C661.11,397.30 662.06,399.32 662.54,401.33 C663.02,403.34 663.84,405.95 663.92,407.37 C664.00,408.80 663.38,409.22 663.00,409.89 C662.62,410.56 661.85,411.15 661.62,411.40 Z" fill="#d7acdc" stroke="#222" stroke-width="0.48" stroke-linejoin="round"/>
<path d="M671.23,411.40 L679.97,411.40 C679.78,411.15 679.20,410.56 678.82,409.89 C678.44,409.22 677.67,408.80 677.67,407.37 C677.67,405.95 678.55,403.34 678.82,401.33 C679.09,399.32 679.32,397.30 679.28,395.29 C679.24,393.27 679.05,391.09 678.59,389.25 C678.13,387.40 677.02,385.39 676.52,384.21 C676.02,383.04 675.75,382.53 675.60,382.20 C675.45,382.53 675.18,383.04 674.68,384.21 C674.18,385.39 673.07,387.40 672.61,389.25 C672.15,391.09 671.96,393.27 671.92,395.29 C671.88,397.30 672.11,399.32 672.38,401.33 C672.65,403.34 673.53,405.95 673.53,407.37 C673.53,408.80 672.76,409.22 672.38,409.89 C672.00,410.56 671.42,411.15 671.23,411.40 Z" fill="#fbc0bc" stroke="#222" stroke-width="0.48" stroke-linejoin="round"/>
<line x1="628.30" y1="377.56" x2="628.30" y2="413.41" stroke="#4a4a4a" stroke-width="0.8"/>
<line x1="627.90" y1="413.01" x2="681.70" y2="413.01" stroke="#4a4a4a" stroke-width="0.8"/>
<line x1="626.60" y1="411.40" x2="628.30" y2="411.40" stroke="#4a4a4a" stroke-width="0.6"/>
<text x="625.40" y="413.10" font-size="4.8" text-anchor="end" fill="#222" stroke="#222" stroke-width="0.07">0</text>
<line x1="626.60" y1="401.33" x2="628.30" y2="401.33" stroke="#4a4a4a" stroke-width="0.6"/>
<text x="625.40" y="403.03" font-size="4.8" text-anchor="end" fill="#222" stroke="#222" stroke-width="0.07">1</text>
<line x1="626.60" y1="391.26" x2="628.30" y2="391.26" stroke="#4a4a4a" stroke-width="0.6"/>
<text x="625.40" y="392.96" font-size="4.8" text-anchor="end" fill="#222" stroke="#222" stroke-width="0.07">2</text>
<line x1="626.60" y1="381.19" x2="628.30" y2="381.19" stroke="#4a4a4a" stroke-width="0.6"/>
<text x="625.40" y="382.89" font-size="4.8" text-anchor="end" fill="#222" stroke="#222" stroke-width="0.07">3</text>
<line x1="634.40" y1="413.01" x2="634.40" y2="414.51" stroke="#4a4a4a" stroke-width="0.6"/>
<text x="636.20" y="415.81" font-size="5.1" text-anchor="end" fill="#222" transform="rotate(-90 636.20 415.81)" stroke="#222" stroke-width="0.07">LH3</text>
<line x1="644.70" y1="413.01" x2="644.70" y2="414.51" stroke="#4a4a4a" stroke-width="0.6"/>
<text x="646.50" y="415.81" font-size="5.1" text-anchor="end" fill="#222" transform="rotate(-90 646.50 415.81)" stroke="#222" stroke-width="0.07">LH5</text>
<line x1="655.00" y1="413.01" x2="655.00" y2="414.51" stroke="#4a4a4a" stroke-width="0.6"/>
<text x="656.80" y="415.81" font-size="5.1" text-anchor="end" fill="#222" transform="rotate(-90 656.80 415.81)" stroke="#222" stroke-width="0.07">LH7</text>
<line x1="665.30" y1="413.01" x2="665.30" y2="414.51" stroke="#4a4a4a" stroke-width="0.6"/>
<text x="667.10" y="415.81" font-size="5.1" text-anchor="end" fill="#222" transform="rotate(-90 667.10 415.81)" stroke="#222" stroke-width="0.07">LH9</text>
<line x1="675.60" y1="413.01" x2="675.60" y2="414.51" stroke="#4a4a4a" stroke-width="0.6"/>
<text x="677.40" y="415.81" font-size="5.1" text-anchor="end" fill="#222" transform="rotate(-90 677.40 415.81)" stroke="#222" stroke-width="0.07">LH11</text>
<text x="655.00" y="440.40" font-size="6.8" text-anchor="middle" font-weight="bold" fill="#000">ITGAM</text>
<path d="M630.03,478.50 L638.77,478.50 C638.58,478.21 638.00,477.55 637.62,476.78 C637.24,476.02 636.78,475.16 636.47,473.92 C636.16,472.68 636.01,471.06 635.78,469.34 C635.55,467.62 635.32,465.71 635.09,463.62 C634.86,461.52 634.51,457.89 634.40,456.75 C634.28,457.89 633.94,461.52 633.71,463.62 C633.48,465.71 633.25,467.62 633.02,469.34 C632.79,471.06 632.64,472.68 632.33,473.92 C632.02,475.16 631.56,476.02 631.18,476.78 C630.80,477.55 630.22,478.21 630.03,478.50 Z" fill="#9a0541" stroke="#222" stroke-width="0.48" stroke-linejoin="round"/>
<rect x="633.50" y="456.14" width="1.8" height="5.47" fill="url(#fade)"/>
<path d="M640.33,478.50 L649.07,478.50 C648.80,478.21 647.96,477.55 647.46,476.78 C646.96,476.02 646.39,475.16 646.08,473.92 C645.77,472.68 645.77,471.06 645.62,469.34 C645.47,467.62 645.31,466.67 645.16,463.62 C645.01,460.56 644.78,453.12 644.70,451.02 C644.62,453.12 644.39,460.56 644.24,463.62 C644.09,466.67 643.93,467.62 643.78,469.34 C643.63,471.06 643.63,472.68 643.32,473.92 C643.01,475.16 642.44,476.02 641.94,476.78 C641.44,477.55 640.60,478.21 640.33,478.50 Z" fill="#d91c78" stroke="#222" stroke-width="0.48" stroke-linejoin="round"/>
<rect x="643.80" y="450.42" width="1.8" height="11.20" fill="url(#fade)"/>
<path d="M650.77,478.50 L659.23,478.50 C658.95,478.21 658.04,477.55 657.53,476.78 C657.02,476.02 656.42,475.16 656.15,473.92 C655.88,472.68 656.03,471.25 655.92,469.34 C655.80,467.43 655.58,464.76 655.46,462.47 C655.34,460.18 655.26,458.08 655.18,455.60 C655.11,453.12 655.03,448.92 655.00,447.58 C654.97,448.92 654.89,453.12 654.82,455.60 C654.74,458.08 654.66,460.18 654.54,462.47 C654.42,464.76 654.20,467.43 654.08,469.34 C653.97,471.25 654.12,472.68 653.85,473.92 C653.58,475.16 652.98,476.02 652.47,476.78 C651.96,477.55 651.05,478.21 650.77,478.50 Z" fill="#df6db5" stroke="#222" stroke-width="0.48" stroke-linejoin="round"/>
<rect x="654.10" y="446.98" width="1.8" height="13.49" fill="url(#fade)"/>
<path d="M661.39,478.50 L669.21,478.50 C668.90,478.21 667.88,477.55 667.37,476.78 C666.86,476.02 666.40,475.16 666.13,473.92 C665.86,472.68 665.90,473.06 665.76,469.34 C665.62,465.62 665.38,454.55 665.30,451.59 C665.22,454.55 664.98,465.62 664.84,469.34 C664.70,473.06 664.74,472.68 664.47,473.92 C664.20,475.16 663.74,476.02 663.23,476.78 C662.72,477.55 661.70,478.21 661.39,478.50 Z" fill="#d7acdc" stroke="#222" stroke-width="0.48" stroke-linejoin="round"/>
<rect x="664.40" y="450.99" width="1.8" height="16.35" fill="url(#fade)"/>
<path d="M671.92,478.50 L679.28,478.50 C678.93,478.31 677.75,477.93 677.21,477.36 C676.67,476.78 676.27,476.40 676.06,475.06 C675.85,473.73 676.04,473.16 675.97,469.34 C675.89,465.52 675.66,455.03 675.60,452.17 C675.54,455.03 675.31,465.52 675.23,469.34 C675.16,473.16 675.35,473.73 675.14,475.06 C674.93,476.40 674.53,476.78 673.99,477.36 C673.45,477.93 672.27,478.31 671.92,478.50 Z" fill="#fbc0bc" stroke="#222" stroke-width="0.48" stroke-linejoin="round"/>
<rect x="674.70" y="451.56" width="1.8" height="15.77" fill="url(#fade)"/>
<line x1="628.30" y1="446.04" x2="628.30" y2="480.45" stroke="#4a4a4a" stroke-width="0.8"/>
<line x1="627.90" y1="480.05" x2="681.70" y2="480.05" stroke="#4a4a4a" stroke-width="0.8"/>
<line x1="626.60" y1="478.50" x2="628.30" y2="478.50" stroke="#4a4a4a" stroke-width="0.6"/>
<text x="625.40" y="480.20" font-size="4.8" text-anchor="end" fill="#222" stroke="#222" stroke-width="0.07">0</text>
<line x1="626.60" y1="467.05" x2="628.30" y2="467.05" stroke="#4a4a4a" stroke-width="0.6"/>
<text x="625.40" y="468.75" font-size="4.8" text-anchor="end" fill="#222" stroke="#222" stroke-width="0.07">1</text>
<line x1="626.60" y1="455.60" x2="628.30" y2="455.60" stroke="#4a4a4a" stroke-width="0.6"/>
<text x="625.40" y="457.30" font-size="4.8" text-anchor="end" fill="#222" stroke="#222" stroke-width="0.07">2</text>
<line x1="634.40" y1="480.05" x2="634.40" y2="481.55" stroke="#4a4a4a" stroke-width="0.6"/>
<text x="636.20" y="482.85" font-size="5.1" text-anchor="end" fill="#222" transform="rotate(-90 636.20 482.85)" stroke="#222" stroke-width="0.07">LH3</text>
<line x1="644.70" y1="480.05" x2="644.70" y2="481.55" stroke="#4a4a4a" stroke-width="0.6"/>
<text x="646.50" y="482.85" font-size="5.1" text-anchor="end" fill="#222" transform="rotate(-90 646.50 482.85)" stroke="#222" stroke-width="0.07">LH5</text>
<line x1="655.00" y1="480.05" x2="655.00" y2="481.55" stroke="#4a4a4a" stroke-width="0.6"/>
<text x="656.80" y="482.85" font-size="5.1" text-anchor="end" fill="#222" transform="rotate(-90 656.80 482.85)" stroke="#222" stroke-width="0.07">LH7</text>
<line x1="665.30" y1="480.05" x2="665.30" y2="481.55" stroke="#4a4a4a" stroke-width="0.6"/>
<text x="667.10" y="482.85" font-size="5.1" text-anchor="end" fill="#222" transform="rotate(-90 667.10 482.85)" stroke="#222" stroke-width="0.07">LH9</text>
<line x1="675.60" y1="480.05" x2="675.60" y2="481.55" stroke="#4a4a4a" stroke-width="0.6"/>
<text x="677.40" y="482.85" font-size="5.1" text-anchor="end" fill="#222" transform="rotate(-90 677.40 482.85)" stroke="#222" stroke-width="0.07">LH11</text>
<text x="655.00" y="507.10" font-size="6.8" text-anchor="middle" font-weight="bold" fill="#000">ADGRE5</text>
<path d="M630.03,545.20 L638.77,545.20 C638.62,544.77 638.12,543.78 637.85,542.64 C637.58,541.50 637.16,539.94 637.16,538.38 C637.16,536.81 637.93,534.96 637.85,533.26 C637.77,531.55 637.12,529.70 636.70,528.14 C636.28,526.58 635.70,525.58 635.32,523.88 C634.94,522.17 634.55,518.90 634.40,517.90 C634.25,518.90 633.86,522.17 633.48,523.88 C633.10,525.58 632.52,526.58 632.10,528.14 C631.68,529.70 631.03,531.55 630.95,533.26 C630.87,534.96 631.64,536.81 631.64,538.38 C631.64,539.94 631.22,541.50 630.95,542.64 C630.68,543.78 630.18,544.77 630.03,545.20 Z" fill="#9a0541" stroke="#222" stroke-width="0.48" stroke-linejoin="round"/>
<rect x="633.50" y="517.30" width="1.8" height="4.57" fill="url(#fade)"/>
<path d="M640.33,545.20 L649.07,545.20 C648.92,544.77 648.34,543.78 648.15,542.64 C647.96,541.50 647.84,539.94 647.92,538.38 C648.00,536.81 648.69,534.96 648.61,533.26 C648.53,531.55 647.88,530.13 647.46,528.14 C647.04,526.15 646.45,523.16 646.08,521.32 C645.71,519.47 645.48,518.40 645.25,517.05 C645.02,515.70 644.79,513.85 644.70,513.21 C644.61,513.85 644.38,515.70 644.15,517.05 C643.92,518.40 643.69,519.47 643.32,521.32 C642.95,523.16 642.36,526.15 641.94,528.14 C641.52,530.13 640.87,531.55 640.79,533.26 C640.71,534.96 641.40,536.81 641.48,538.38 C641.56,539.94 641.44,541.50 641.25,542.64 C641.06,543.78 640.48,544.77 640.33,545.20 Z" fill="#d91c78" stroke="#222" stroke-width="0.48" stroke-linejoin="round"/>
<path d="M650.86,545.20 L659.14,545.20 C658.99,544.92 658.53,544.20 658.22,543.49 C657.91,542.78 657.55,542.07 657.30,540.94 C657.05,539.80 656.94,538.23 656.75,536.67 C656.56,535.11 656.36,533.40 656.15,531.55 C655.94,529.70 655.65,528.14 655.46,525.58 C655.27,523.02 655.08,517.76 655.00,516.20 C654.92,517.76 654.73,523.02 654.54,525.58 C654.35,528.14 654.06,529.70 653.85,531.55 C653.64,533.40 653.44,535.11 653.25,536.67 C653.06,538.23 652.95,539.80 652.70,540.94 C652.45,542.07 652.09,542.78 651.78,543.49 C651.47,544.20 651.01,544.92 650.86,545.20 Z" fill="#df6db5" stroke="#222" stroke-width="0.48" stroke-linejoin="round"/>
<rect x="654.10" y="515.60" width="1.8" height="7.98" fill="url(#fade)"/>
<path d="M661.16,545.20 L669.44,545.20 C669.29,544.92 668.87,544.20 668.52,543.49 C668.17,542.78 667.62,542.07 667.37,540.94 C667.12,539.80 667.16,538.23 667.05,536.67 C666.93,535.11 666.88,533.26 666.68,531.55 C666.48,529.85 666.08,528.99 665.85,526.43 C665.62,523.88 665.39,517.90 665.30,516.20 C665.21,517.90 664.98,523.88 664.75,526.43 C664.52,528.99 664.12,529.85 663.92,531.55 C663.72,533.26 663.67,535.11 663.55,536.67 C663.44,538.23 663.48,539.80 663.23,540.94 C662.98,542.07 662.42,542.78 662.08,543.49 C661.73,544.20 661.31,544.92 661.16,545.20 Z" fill="#d7acdc" stroke="#222" stroke-width="0.48" stroke-linejoin="round"/>
<rect x="664.40" y="515.60" width="1.8" height="8.84" fill="url(#fade)"/>
<path d="M671.46,545.20 L679.74,545.20 C679.55,544.92 678.94,544.20 678.59,543.49 C678.25,542.78 677.79,542.07 677.67,540.94 C677.56,539.80 677.94,538.23 677.90,536.67 C677.86,535.11 677.67,533.26 677.44,531.55 C677.21,529.85 676.83,528.57 676.52,526.43 C676.21,524.30 675.75,520.04 675.60,518.76 C675.45,520.04 674.99,524.30 674.68,526.43 C674.37,528.57 673.99,529.85 673.76,531.55 C673.53,533.26 673.34,535.11 673.30,536.67 C673.26,538.23 673.64,539.80 673.53,540.94 C673.41,542.07 672.96,542.78 672.61,543.49 C672.26,544.20 671.65,544.92 671.46,545.20 Z" fill="#fbc0bc" stroke="#222" stroke-width="0.48" stroke-linejoin="round"/>
<rect x="674.70" y="518.16" width="1.8" height="6.28" fill="url(#fade)"/>
<line x1="628.30" y1="511.61" x2="628.30" y2="547.20" stroke="#4a4a4a" stroke-width="0.8"/>
<line x1="627.90" y1="546.80" x2="681.70" y2="546.80" stroke="#4a4a4a" stroke-width="0.8"/>
<line x1="626.60" y1="545.20" x2="628.30" y2="545.20" stroke="#4a4a4a" stroke-width="0.6"/>
<text x="625.40" y="546.90" font-size="4.8" text-anchor="end" fill="#222" stroke="#222" stroke-width="0.07">0</text>
<line x1="626.60" y1="536.67" x2="628.30" y2="536.67" stroke="#4a4a4a" stroke-width="0.6"/>
<text x="625.40" y="538.37" font-size="4.8" text-anchor="end" fill="#222" stroke="#222" stroke-width="0.07">1</text>
<line x1="626.60" y1="528.14" x2="628.30" y2="528.14" stroke="#4a4a4a" stroke-width="0.6"/>
<text x="625.40" y="529.84" font-size="4.8" text-anchor="end" fill="#222" stroke="#222" stroke-width="0.07">2</text>
<line x1="626.60" y1="519.61" x2="628.30" y2="519.61" stroke="#4a4a4a" stroke-width="0.6"/>
<text x="625.40" y="521.31" font-size="4.8" text-anchor="end" fill="#222" stroke="#222" stroke-width="0.07">3</text>
<line x1="634.40" y1="546.80" x2="634.40" y2="548.30" stroke="#4a4a4a" stroke-width="0.6"/>
<text x="636.20" y="549.60" font-size="5.1" text-anchor="end" fill="#222" transform="rotate(-90 636.20 549.60)" stroke="#222" stroke-width="0.07">LH3</text>
<line x1="644.70" y1="546.80" x2="644.70" y2="548.30" stroke="#4a4a4a" stroke-width="0.6"/>
<text x="646.50" y="549.60" font-size="5.1" text-anchor="end" fill="#222" transform="rotate(-90 646.50 549.60)" stroke="#222" stroke-width="0.07">LH5</text>
<line x1="655.00" y1="546.80" x2="655.00" y2="548.30" stroke="#4a4a4a" stroke-width="0.6"/>
<text x="656.80" y="549.60" font-size="5.1" text-anchor="end" fill="#222" transform="rotate(-90 656.80 549.60)" stroke="#222" stroke-width="0.07">LH7</text>
<line x1="665.30" y1="546.80" x2="665.30" y2="548.30" stroke="#4a4a4a" stroke-width="0.6"/>
<text x="667.10" y="549.60" font-size="5.1" text-anchor="end" fill="#222" transform="rotate(-90 667.10 549.60)" stroke="#222" stroke-width="0.07">LH9</text>
<line x1="675.60" y1="546.80" x2="675.60" y2="548.30" stroke="#4a4a4a" stroke-width="0.6"/>
<text x="677.40" y="549.60" font-size="5.1" text-anchor="end" fill="#222" transform="rotate(-90 677.40 549.60)" stroke="#222" stroke-width="0.07">LH11</text>
<text x="58.00" y="507.40" font-size="6.8" text-anchor="middle" font-weight="bold" fill="#000">TGFB2</text>
<path d="M33.59,545.50 L41.41,545.50 C41.28,545.48 41.20,545.41 40.63,545.36 C40.05,545.31 38.47,545.40 37.96,545.22 C37.45,545.04 37.62,545.84 37.56,544.30 C37.49,542.75 37.56,538.02 37.56,535.94 C37.55,533.87 37.51,532.53 37.50,531.85 C37.49,532.53 37.45,533.87 37.44,535.94 C37.44,538.02 37.51,542.75 37.44,544.30 C37.38,545.84 37.55,545.04 37.04,545.22 C36.53,545.40 34.95,545.31 34.37,545.36 C33.80,545.41 33.72,545.48 33.59,545.50 Z" fill="#9a0541" stroke="#222" stroke-width="0.48" stroke-linejoin="round"/>
<rect x="36.60" y="531.25" width="1.8" height="11.97" fill="url(#fade)"/>
<path d="M43.84,545.50 L51.66,545.50 C51.53,545.48 51.45,545.41 50.88,545.36 C50.30,545.31 48.72,545.40 48.21,545.22 C47.70,545.04 47.87,545.37 47.81,544.30 C47.74,543.22 47.81,540.16 47.81,538.75 C47.80,537.35 47.76,536.35 47.75,535.86 C47.74,536.35 47.70,537.35 47.69,538.75 C47.69,540.16 47.76,543.22 47.69,544.30 C47.63,545.37 47.80,545.04 47.29,545.22 C46.78,545.40 45.20,545.31 44.62,545.36 C44.05,545.41 43.97,545.48 43.84,545.50 Z" fill="#d91c78" stroke="#222" stroke-width="0.48" stroke-linejoin="round"/>
<rect x="46.85" y="535.26" width="1.8" height="7.95" fill="url(#fade)"/>
<path d="M54.09,545.50 L61.91,545.50 C61.78,545.48 61.70,545.41 61.13,545.36 C60.55,545.31 58.97,545.40 58.46,545.22 C57.95,545.04 58.12,547.71 58.06,544.30 C57.99,540.88 58.06,529.45 58.06,524.70 C58.05,519.95 58.01,517.27 58.00,515.79 C57.99,517.27 57.95,519.95 57.94,524.70 C57.94,529.45 58.01,540.88 57.94,544.30 C57.88,547.71 58.05,545.04 57.54,545.22 C57.03,545.40 55.45,545.31 54.87,545.36 C54.30,545.41 54.22,545.48 54.09,545.50 Z" fill="#df6db5" stroke="#222" stroke-width="0.48" stroke-linejoin="round"/>
<rect x="57.10" y="515.19" width="1.8" height="28.03" fill="url(#fade)"/>
<path d="M64.34,545.50 L72.16,545.50 C72.03,545.48 71.95,545.41 71.38,545.36 C70.80,545.31 69.22,545.40 68.71,545.22 C68.20,545.04 68.37,547.71 68.31,544.30 C68.24,540.88 68.31,529.45 68.31,524.70 C68.30,519.95 68.26,517.27 68.25,515.79 C68.24,517.27 68.20,519.95 68.19,524.70 C68.19,529.45 68.26,540.88 68.19,544.30 C68.13,547.71 68.30,545.04 67.79,545.22 C67.28,545.40 65.70,545.31 65.12,545.36 C64.55,545.41 64.47,545.48 64.34,545.50 Z" fill="#d7acdc" stroke="#222" stroke-width="0.48" stroke-linejoin="round"/>
<rect x="67.35" y="515.19" width="1.8" height="28.03" fill="url(#fade)"/>
<path d="M74.13,545.50 L82.87,545.50 C82.68,545.30 82.18,544.83 81.72,544.30 C81.26,543.76 80.49,543.16 80.11,542.29 C79.73,541.42 79.57,540.55 79.42,539.08 C79.27,537.60 79.27,535.46 79.19,533.46 C79.11,531.45 79.05,529.04 78.96,527.03 C78.87,525.02 78.71,523.69 78.64,521.41 C78.56,519.13 78.52,514.72 78.50,513.38 C78.48,514.72 78.44,519.13 78.36,521.41 C78.29,523.69 78.13,525.02 78.04,527.03 C77.95,529.04 77.89,531.45 77.81,533.46 C77.73,535.46 77.73,537.60 77.58,539.08 C77.43,540.55 77.27,541.42 76.89,542.29 C76.51,543.16 75.74,543.76 75.28,544.30 C74.82,544.83 74.32,545.30 74.13,545.50 Z" fill="#fbc0bc" stroke="#222" stroke-width="0.48" stroke-linejoin="round"/>
<rect x="77.60" y="512.78" width="1.8" height="12.25" fill="url(#fade)"/>
<line x1="31.50" y1="511.77" x2="31.50" y2="547.51" stroke="#4a4a4a" stroke-width="0.8"/>
<line x1="31.10" y1="547.11" x2="84.50" y2="547.11" stroke="#4a4a4a" stroke-width="0.8"/>
<line x1="29.80" y1="545.50" x2="31.50" y2="545.50" stroke="#4a4a4a" stroke-width="0.6"/>
<text x="28.60" y="547.20" font-size="4.8" text-anchor="end" fill="#222" stroke="#222" stroke-width="0.07">0</text>
<line x1="29.80" y1="537.47" x2="31.50" y2="537.47" stroke="#4a4a4a" stroke-width="0.6"/>
<text x="28.60" y="539.17" font-size="4.8" text-anchor="end" fill="#222" stroke="#222" stroke-width="0.07">1</text>
<line x1="29.80" y1="529.44" x2="31.50" y2="529.44" stroke="#4a4a4a" stroke-width="0.6"/>
<text x="28.60" y="531.14" font-size="4.8" text-anchor="end" fill="#222" stroke="#222" stroke-width="0.07">2</text>
<line x1="29.80" y1="521.41" x2="31.50" y2="521.41" stroke="#4a4a4a" stroke-width="0.6"/>
<text x="28.60" y="523.11" font-size="4.8" text-anchor="end" fill="#222" stroke="#222" stroke-width="0.07">3</text>
<line x1="29.80" y1="513.38" x2="31.50" y2="513.38" stroke="#4a4a4a" stroke-width="0.6"/>
<text x="28.60" y="515.08" font-size="4.8" text-anchor="end" fill="#222" stroke="#222" stroke-width="0.07">4</text>
<line x1="37.50" y1="547.11" x2="37.50" y2="548.61" stroke="#4a4a4a" stroke-width="0.6"/>
<text x="39.30" y="549.91" font-size="5.1" text-anchor="end" fill="#222" transform="rotate(-90 39.30 549.91)" stroke="#222" stroke-width="0.07">LH3</text>
<line x1="47.75" y1="547.11" x2="47.75" y2="548.61" stroke="#4a4a4a" stroke-width="0.6"/>
<text x="49.55" y="549.91" font-size="5.1" text-anchor="end" fill="#222" transform="rotate(-90 49.55 549.91)" stroke="#222" stroke-width="0.07">LH5</text>
<line x1="58.00" y1="547.11" x2="58.00" y2="548.61" stroke="#4a4a4a" stroke-width="0.6"/>
<text x="59.80" y="549.91" font-size="5.1" text-anchor="end" fill="#222" transform="rotate(-90 59.80 549.91)" stroke="#222" stroke-width="0.07">LH7</text>
<line x1="68.25" y1="547.11" x2="68.25" y2="548.61" stroke="#4a4a4a" stroke-width="0.6"/>
<text x="70.05" y="549.91" font-size="5.1" text-anchor="end" fill="#222" transform="rotate(-90 70.05 549.91)" stroke="#222" stroke-width="0.07">LH9</text>
<line x1="78.50" y1="547.11" x2="78.50" y2="548.61" stroke="#4a4a4a" stroke-width="0.6"/>
<text x="80.30" y="549.91" font-size="5.1" text-anchor="end" fill="#222" transform="rotate(-90 80.30 549.91)" stroke="#222" stroke-width="0.07">LH11</text>
<text x="54.70" y="606.10" font-size="6.8" text-anchor="middle" font-weight="bold" fill="#000">SPP1</text>
<path d="M30.58,643.40 L37.02,643.40 C36.91,643.38 36.84,643.33 36.38,643.30 C35.92,643.27 34.68,643.33 34.26,643.20 C33.84,643.08 33.92,643.77 33.86,642.55 C33.79,641.33 33.86,637.53 33.86,635.89 C33.85,634.24 33.81,633.20 33.80,632.66 C33.79,633.20 33.75,634.24 33.74,635.89 C33.74,637.53 33.81,641.33 33.74,642.55 C33.68,643.77 33.76,643.08 33.34,643.20 C32.92,643.33 31.68,643.27 31.22,643.30 C30.76,643.33 30.69,643.38 30.58,643.40 Z" fill="#9a0541" stroke="#222" stroke-width="0.48" stroke-linejoin="round"/>
<rect x="32.90" y="632.06" width="1.8" height="9.14" fill="url(#fade)"/>
<path d="M40.11,643.40 L48.39,643.40 C48.08,643.21 47.09,642.74 46.55,642.27 C46.01,641.80 45.46,641.33 45.17,640.57 C44.88,639.82 44.92,638.79 44.80,637.75 C44.69,636.71 44.57,636.24 44.48,634.36 C44.39,632.48 44.29,627.77 44.25,626.45 C44.21,627.77 44.11,632.48 44.02,634.36 C43.93,636.24 43.81,636.71 43.70,637.75 C43.58,638.79 43.62,639.82 43.33,640.57 C43.04,641.33 42.49,641.80 41.95,642.27 C41.41,642.74 40.42,643.21 40.11,643.40 Z" fill="#d91c78" stroke="#222" stroke-width="0.48" stroke-linejoin="round"/>
<rect x="43.35" y="625.85" width="1.8" height="9.90" fill="url(#fade)"/>
<path d="M50.56,643.40 L58.84,643.40 C58.53,643.21 57.54,642.74 57.00,642.27 C56.46,641.80 55.89,641.33 55.62,640.57 C55.35,639.82 55.50,638.79 55.39,637.75 C55.28,636.71 55.09,638.60 54.98,634.36 C54.86,630.12 54.75,616.00 54.70,612.32 C54.65,616.00 54.54,630.12 54.42,634.36 C54.31,638.60 54.12,636.71 54.01,637.75 C53.90,638.79 54.05,639.82 53.78,640.57 C53.51,641.33 52.94,641.80 52.40,642.27 C51.86,642.74 50.87,643.21 50.56,643.40 Z" fill="#df6db5" stroke="#222" stroke-width="0.48" stroke-linejoin="round"/>
<rect x="53.80" y="611.72" width="1.8" height="20.64" fill="url(#fade)"/>
<path d="M60.78,643.40 L69.52,643.40 C69.37,643.21 68.94,642.84 68.60,642.27 C68.25,641.70 67.72,641.23 67.45,640.01 C67.18,638.79 67.18,636.71 66.99,634.92 C66.80,633.14 66.51,631.16 66.30,629.27 C66.09,627.39 65.86,625.32 65.70,623.62 C65.55,621.93 65.47,620.89 65.38,619.11 C65.29,617.32 65.19,613.93 65.15,612.89 C65.11,613.93 65.01,617.32 64.92,619.11 C64.83,620.89 64.75,621.93 64.60,623.62 C64.44,625.32 64.21,627.39 64.00,629.27 C63.79,631.16 63.50,633.14 63.31,634.92 C63.12,636.71 63.12,638.79 62.85,640.01 C62.58,641.23 62.04,641.70 61.70,642.27 C61.35,642.84 60.93,643.21 60.78,643.40 Z" fill="#d7acdc" stroke="#222" stroke-width="0.48" stroke-linejoin="round"/>
<rect x="64.25" y="612.29" width="1.8" height="9.34" fill="url(#fade)"/>
<path d="M71.23,643.40 L79.97,643.40 C79.78,643.21 79.13,643.02 78.82,642.27 C78.51,641.52 78.09,640.39 78.13,638.88 C78.17,637.37 79.01,635.11 79.05,633.23 C79.09,631.35 78.70,629.18 78.36,627.58 C78.02,625.98 77.36,624.75 76.98,623.62 C76.60,622.50 76.29,621.84 76.06,620.80 C75.83,619.76 75.68,617.97 75.60,617.41 C75.52,617.97 75.37,619.76 75.14,620.80 C74.91,621.84 74.60,622.50 74.22,623.62 C73.84,624.75 73.18,625.98 72.84,627.58 C72.49,629.18 72.11,631.35 72.15,633.23 C72.19,635.11 73.03,637.37 73.07,638.88 C73.11,640.39 72.69,641.52 72.38,642.27 C72.07,643.02 71.42,643.21 71.23,643.40 Z" fill="#fbc0bc" stroke="#222" stroke-width="0.48" stroke-linejoin="round"/>
<line x1="28.00" y1="610.77" x2="28.00" y2="645.35" stroke="#4a4a4a" stroke-width="0.8"/>
<line x1="27.60" y1="644.95" x2="81.40" y2="644.95" stroke="#4a4a4a" stroke-width="0.8"/>
<line x1="26.30" y1="643.40" x2="28.00" y2="643.40" stroke="#4a4a4a" stroke-width="0.6"/>
<text x="25.10" y="645.10" font-size="4.8" text-anchor="end" fill="#222" stroke="#222" stroke-width="0.07">0</text>
<line x1="26.30" y1="632.10" x2="28.00" y2="632.10" stroke="#4a4a4a" stroke-width="0.6"/>
<text x="25.10" y="633.80" font-size="4.8" text-anchor="end" fill="#222" stroke="#222" stroke-width="0.07">2</text>
<line x1="26.30" y1="620.80" x2="28.00" y2="620.80" stroke="#4a4a4a" stroke-width="0.6"/>
<text x="25.10" y="622.50" font-size="4.8" text-anchor="end" fill="#222" stroke="#222" stroke-width="0.07">4</text>
<line x1="33.80" y1="644.95" x2="33.80" y2="646.45" stroke="#4a4a4a" stroke-width="0.6"/>
<text x="35.60" y="647.75" font-size="5.1" text-anchor="end" fill="#222" transform="rotate(-90 35.60 647.75)" stroke="#222" stroke-width="0.07">LH3</text>
<line x1="44.25" y1="644.95" x2="44.25" y2="646.45" stroke="#4a4a4a" stroke-width="0.6"/>
<text x="46.05" y="647.75" font-size="5.1" text-anchor="end" fill="#222" transform="rotate(-90 46.05 647.75)" stroke="#222" stroke-width="0.07">LH5</text>
<line x1="54.70" y1="644.95" x2="54.70" y2="646.45" stroke="#4a4a4a" stroke-width="0.6"/>
<text x="56.50" y="647.75" font-size="5.1" text-anchor="end" fill="#222" transform="rotate(-90 56.50 647.75)" stroke="#222" stroke-width="0.07">LH7</text>
<line x1="65.15" y1="644.95" x2="65.15" y2="646.45" stroke="#4a4a4a" stroke-width="0.6"/>
<text x="66.95" y="647.75" font-size="5.1" text-anchor="end" fill="#222" transform="rotate(-90 66.95 647.75)" stroke="#222" stroke-width="0.07">LH9</text>
<line x1="75.60" y1="644.95" x2="75.60" y2="646.45" stroke="#4a4a4a" stroke-width="0.6"/>
<text x="77.40" y="647.75" font-size="5.1" text-anchor="end" fill="#222" transform="rotate(-90 77.40 647.75)" stroke="#222" stroke-width="0.07">LH11</text>
<text x="54.50" y="716.80" font-size="6.8" text-anchor="middle" font-weight="bold" fill="#000">CDH1</text>
<path d="M29.46,754.40 L37.74,754.40 C37.51,754.15 36.63,753.48 36.36,752.89 C36.09,752.30 35.98,751.63 36.13,750.88 C36.28,750.12 37.32,749.28 37.28,748.36 C37.24,747.43 36.32,746.34 35.90,745.34 C35.48,744.33 35.07,743.32 34.75,742.32 C34.43,741.31 34.16,740.97 33.97,739.29 C33.78,737.62 33.66,733.42 33.60,732.25 C33.54,733.42 33.42,737.62 33.23,739.29 C33.04,740.97 32.77,741.31 32.45,742.32 C32.13,743.32 31.72,744.33 31.30,745.34 C30.88,746.34 29.96,747.43 29.92,748.36 C29.88,749.28 30.92,750.12 31.07,750.88 C31.22,751.63 31.11,752.30 30.84,752.89 C30.57,753.48 29.69,754.15 29.46,754.40 Z" fill="#9a0541" stroke="#222" stroke-width="0.48" stroke-linejoin="round"/>
<rect x="32.70" y="731.65" width="1.8" height="5.65" fill="url(#fade)"/>
<path d="M39.68,754.40 L48.42,754.40 C48.27,754.15 47.81,753.56 47.50,752.89 C47.19,752.22 46.70,751.46 46.58,750.37 C46.46,749.28 46.85,747.85 46.81,746.34 C46.77,744.83 46.62,742.99 46.35,741.31 C46.08,739.63 45.52,737.62 45.20,736.27 C44.88,734.93 44.61,735.43 44.42,733.25 C44.23,731.07 44.11,724.86 44.05,723.18 C43.99,724.86 43.87,731.07 43.68,733.25 C43.49,735.43 43.22,734.93 42.90,736.27 C42.58,737.62 42.02,739.63 41.75,741.31 C41.48,742.99 41.33,744.83 41.29,746.34 C41.25,747.85 41.63,749.28 41.52,750.37 C41.40,751.46 40.91,752.22 40.60,752.89 C40.29,753.56 39.83,754.15 39.68,754.40 Z" fill="#d91c78" stroke="#222" stroke-width="0.48" stroke-linejoin="round"/>
<rect x="43.15" y="722.58" width="1.8" height="8.67" fill="url(#fade)"/>
<path d="M51.97,754.40 L57.03,754.40 C56.84,754.15 56.07,753.56 55.88,752.89 C55.69,752.22 55.57,751.46 55.88,750.37 C56.19,749.28 57.24,747.69 57.72,746.34 C58.20,745.00 58.73,743.66 58.73,742.32 C58.73,740.97 58.23,739.80 57.72,738.29 C57.21,736.78 56.14,734.76 55.65,733.25 C55.16,731.74 54.97,730.90 54.78,729.23 C54.58,727.55 54.55,724.19 54.50,723.18 C54.45,724.19 54.42,727.55 54.22,729.23 C54.03,730.90 53.84,731.74 53.35,733.25 C52.86,734.76 51.79,736.78 51.28,738.29 C50.77,739.80 50.27,740.97 50.27,742.32 C50.27,743.66 50.80,745.00 51.28,746.34 C51.76,747.69 52.81,749.28 53.12,750.37 C53.43,751.46 53.31,752.22 53.12,752.89 C52.93,753.56 52.16,754.15 51.97,754.40 Z" fill="#df6db5" stroke="#222" stroke-width="0.48" stroke-linejoin="round"/>
<rect x="53.60" y="722.58" width="1.8" height="4.64" fill="url(#fade)"/>
<path d="M63.80,754.40 L66.10,754.40 C66.00,754.15 65.58,753.73 65.50,752.89 C65.43,752.05 65.31,750.79 65.64,749.37 C65.97,747.94 66.89,746.01 67.48,744.33 C68.07,742.65 69.14,740.97 69.18,739.29 C69.22,737.62 68.26,735.77 67.71,734.26 C67.16,732.75 66.29,731.24 65.87,730.23 C65.45,729.22 65.33,729.22 65.18,728.22 C65.03,727.21 64.99,724.86 64.95,724.19 C64.91,724.86 64.87,727.21 64.72,728.22 C64.57,729.22 64.45,729.22 64.03,730.23 C63.61,731.24 62.74,732.75 62.19,734.26 C61.64,735.77 60.68,737.62 60.72,739.29 C60.76,740.97 61.83,742.65 62.42,744.33 C63.01,746.01 63.93,747.94 64.26,749.37 C64.59,750.79 64.47,752.05 64.40,752.89 C64.32,753.73 63.90,754.15 63.80,754.40 Z" fill="#d7acdc" stroke="#222" stroke-width="0.48" stroke-linejoin="round"/>
<rect x="64.05" y="723.59" width="1.8" height="4.64" fill="url(#fade)"/>
<path d="M74.02,754.40 L76.78,754.40 C76.63,754.06 75.94,753.39 75.86,752.39 C75.78,751.38 75.86,750.04 76.32,748.36 C76.78,746.68 78.05,744.33 78.62,742.32 C79.20,740.30 79.85,738.12 79.77,736.27 C79.69,734.43 78.74,732.75 78.16,731.24 C77.59,729.73 76.78,728.39 76.32,727.21 C75.86,726.04 75.55,724.69 75.40,724.19 C75.25,724.69 74.94,726.04 74.48,727.21 C74.02,728.39 73.22,729.73 72.64,731.24 C72.06,732.75 71.11,734.43 71.03,736.27 C70.95,738.12 71.61,740.30 72.18,742.32 C72.76,744.33 74.02,746.68 74.48,748.36 C74.94,750.04 75.02,751.38 74.94,752.39 C74.86,753.39 74.17,754.06 74.02,754.40 Z" fill="#fbc0bc" stroke="#222" stroke-width="0.48" stroke-linejoin="round"/>
<line x1="27.70" y1="721.62" x2="27.70" y2="756.36" stroke="#4a4a4a" stroke-width="0.8"/>
<line x1="27.30" y1="755.96" x2="81.30" y2="755.96" stroke="#4a4a4a" stroke-width="0.8"/>
<line x1="26.00" y1="754.40" x2="27.70" y2="754.40" stroke="#4a4a4a" stroke-width="0.6"/>
<text x="24.80" y="756.10" font-size="4.8" text-anchor="end" fill="#222" stroke="#222" stroke-width="0.07">0</text>
<line x1="26.00" y1="744.33" x2="27.70" y2="744.33" stroke="#4a4a4a" stroke-width="0.6"/>
<text x="24.80" y="746.03" font-size="4.8" text-anchor="end" fill="#222" stroke="#222" stroke-width="0.07">1</text>
<line x1="26.00" y1="734.26" x2="27.70" y2="734.26" stroke="#4a4a4a" stroke-width="0.6"/>
<text x="24.80" y="735.96" font-size="4.8" text-anchor="end" fill="#222" stroke="#222" stroke-width="0.07">2</text>
<line x1="26.00" y1="724.19" x2="27.70" y2="724.19" stroke="#4a4a4a" stroke-width="0.6"/>
<text x="24.80" y="725.89" font-size="4.8" text-anchor="end" fill="#222" stroke="#222" stroke-width="0.07">3</text>
<line x1="33.60" y1="755.96" x2="33.60" y2="757.46" stroke="#4a4a4a" stroke-width="0.6"/>
<text x="35.40" y="758.76" font-size="5.1" text-anchor="end" fill="#222" transform="rotate(-90 35.40 758.76)" stroke="#222" stroke-width="0.07">LH3</text>
<line x1="44.05" y1="755.96" x2="44.05" y2="757.46" stroke="#4a4a4a" stroke-width="0.6"/>
<text x="45.85" y="758.76" font-size="5.1" text-anchor="end" fill="#222" transform="rotate(-90 45.85 758.76)" stroke="#222" stroke-width="0.07">LH5</text>
<line x1="54.50" y1="755.96" x2="54.50" y2="757.46" stroke="#4a4a4a" stroke-width="0.6"/>
<text x="56.30" y="758.76" font-size="5.1" text-anchor="end" fill="#222" transform="rotate(-90 56.30 758.76)" stroke="#222" stroke-width="0.07">LH7</text>
<line x1="64.95" y1="755.96" x2="64.95" y2="757.46" stroke="#4a4a4a" stroke-width="0.6"/>
<text x="66.75" y="758.76" font-size="5.1" text-anchor="end" fill="#222" transform="rotate(-90 66.75 758.76)" stroke="#222" stroke-width="0.07">LH9</text>
<line x1="75.40" y1="755.96" x2="75.40" y2="757.46" stroke="#4a4a4a" stroke-width="0.6"/>
<text x="77.20" y="758.76" font-size="5.1" text-anchor="end" fill="#222" transform="rotate(-90 77.20 758.76)" stroke="#222" stroke-width="0.07">LH11</text>
<text x="225.20" y="470.20" font-size="6.8" text-anchor="middle" font-weight="bold" fill="#000">TGFBR1</text>
<path d="M200.26,508.30 L208.54,508.30 C208.31,508.16 207.73,507.87 207.16,507.44 C206.59,507.01 205.44,506.44 205.09,505.72 C204.75,505.00 205.04,504.14 205.09,503.14 C205.14,502.14 205.47,500.99 205.41,499.70 C205.36,498.41 204.94,498.27 204.77,495.40 C204.60,492.53 204.46,484.65 204.40,482.50 C204.34,484.65 204.20,492.53 204.03,495.40 C203.86,498.27 203.44,498.41 203.39,499.70 C203.33,500.99 203.66,502.14 203.71,503.14 C203.76,504.14 204.06,505.00 203.71,505.72 C203.37,506.44 202.22,507.01 201.64,507.44 C201.07,507.87 200.49,508.16 200.26,508.30 Z" fill="#9a0541" stroke="#222" stroke-width="0.48" stroke-linejoin="round"/>
<rect x="203.50" y="481.90" width="1.8" height="11.50" fill="url(#fade)"/>
<path d="M210.66,508.30 L218.94,508.30 C218.71,508.16 218.16,507.87 217.56,507.44 C216.96,507.01 215.70,506.44 215.35,505.72 C215.01,505.00 215.39,504.00 215.49,503.14 C215.59,502.28 215.99,501.85 215.95,500.56 C215.91,499.27 215.45,498.70 215.26,495.40 C215.07,492.10 214.88,483.22 214.80,480.78 C214.72,483.22 214.53,492.10 214.34,495.40 C214.15,498.70 213.69,499.27 213.65,500.56 C213.61,501.85 214.01,502.28 214.11,503.14 C214.21,504.00 214.59,505.00 214.25,505.72 C213.90,506.44 212.64,507.01 212.04,507.44 C211.44,507.87 210.89,508.16 210.66,508.30 Z" fill="#d91c78" stroke="#222" stroke-width="0.48" stroke-linejoin="round"/>
<rect x="213.90" y="480.18" width="1.8" height="13.22" fill="url(#fade)"/>
<path d="M221.29,508.30 L229.11,508.30 C228.84,508.16 228.09,507.87 227.50,507.44 C226.91,507.01 225.84,507.01 225.57,505.72 C225.30,504.43 225.91,501.42 225.89,499.70 C225.87,497.98 225.55,498.84 225.43,495.40 C225.31,491.96 225.24,481.78 225.20,479.06 C225.16,481.78 225.09,491.96 224.97,495.40 C224.86,498.84 224.53,497.98 224.51,499.70 C224.49,501.42 225.10,504.43 224.83,505.72 C224.56,507.01 223.49,507.01 222.90,507.44 C222.31,507.87 221.56,508.16 221.29,508.30 Z" fill="#df6db5" stroke="#222" stroke-width="0.48" stroke-linejoin="round"/>
<rect x="224.30" y="478.46" width="1.8" height="19.24" fill="url(#fade)"/>
<path d="M231.69,508.30 L239.51,508.30 C239.20,508.16 238.26,507.87 237.67,507.44 C237.08,507.01 236.22,507.01 235.97,505.72 C235.72,504.43 236.21,504.00 236.15,499.70 C236.09,495.40 235.69,483.22 235.60,479.92 C235.51,483.22 235.11,495.40 235.05,499.70 C234.99,504.00 235.49,504.43 235.23,505.72 C234.98,507.01 234.12,507.01 233.53,507.44 C232.94,507.87 232.00,508.16 231.69,508.30 Z" fill="#d7acdc" stroke="#222" stroke-width="0.48" stroke-linejoin="round"/>
<rect x="234.70" y="479.32" width="1.8" height="18.38" fill="url(#fade)"/>
<path d="M242.09,508.30 L249.91,508.30 C249.78,508.26 249.70,508.13 249.13,508.04 C248.55,507.96 246.97,507.96 246.46,507.78 C245.95,507.61 246.12,510.64 246.06,507.01 C245.99,503.38 246.06,491.11 246.06,486.03 C246.05,480.94 246.01,478.07 246.00,476.48 C245.99,478.07 245.95,480.94 245.94,486.03 C245.94,491.11 246.01,503.38 245.94,507.01 C245.88,510.64 246.05,507.61 245.54,507.78 C245.03,507.96 243.45,507.96 242.87,508.04 C242.30,508.13 242.22,508.26 242.09,508.30 Z" fill="#fbc0bc" stroke="#222" stroke-width="0.48" stroke-linejoin="round"/>
<rect x="245.10" y="475.88" width="1.8" height="29.90" fill="url(#fade)"/>
<line x1="198.60" y1="474.89" x2="198.60" y2="510.29" stroke="#4a4a4a" stroke-width="0.8"/>
<line x1="198.20" y1="509.89" x2="251.80" y2="509.89" stroke="#4a4a4a" stroke-width="0.8"/>
<line x1="196.90" y1="508.30" x2="198.60" y2="508.30" stroke="#4a4a4a" stroke-width="0.6"/>
<text x="195.70" y="510.00" font-size="4.8" text-anchor="end" fill="#222" stroke="#222" stroke-width="0.07">0</text>
<line x1="196.90" y1="499.70" x2="198.60" y2="499.70" stroke="#4a4a4a" stroke-width="0.6"/>
<text x="195.70" y="501.40" font-size="4.8" text-anchor="end" fill="#222" stroke="#222" stroke-width="0.07">1</text>
<line x1="196.90" y1="491.10" x2="198.60" y2="491.10" stroke="#4a4a4a" stroke-width="0.6"/>
<text x="195.70" y="492.80" font-size="4.8" text-anchor="end" fill="#222" stroke="#222" stroke-width="0.07">2</text>
<line x1="196.90" y1="482.50" x2="198.60" y2="482.50" stroke="#4a4a4a" stroke-width="0.6"/>
<text x="195.70" y="484.20" font-size="4.8" text-anchor="end" fill="#222" stroke="#222" stroke-width="0.07">3</text>
<line x1="204.40" y1="509.89" x2="204.40" y2="511.39" stroke="#4a4a4a" stroke-width="0.6"/>
<text x="206.20" y="512.69" font-size="5.1" text-anchor="end" fill="#222" transform="rotate(-90 206.20 512.69)" stroke="#222" stroke-width="0.07">LH3</text>
<line x1="214.80" y1="509.89" x2="214.80" y2="511.39" stroke="#4a4a4a" stroke-width="0.6"/>
<text x="216.60" y="512.69" font-size="5.1" text-anchor="end" fill="#222" transform="rotate(-90 216.60 512.69)" stroke="#222" stroke-width="0.07">LH5</text>
<line x1="225.20" y1="509.89" x2="225.20" y2="511.39" stroke="#4a4a4a" stroke-width="0.6"/>
<text x="227.00" y="512.69" font-size="5.1" text-anchor="end" fill="#222" transform="rotate(-90 227.00 512.69)" stroke="#222" stroke-width="0.07">LH7</text>
<line x1="235.60" y1="509.89" x2="235.60" y2="511.39" stroke="#4a4a4a" stroke-width="0.6"/>
<text x="237.40" y="512.69" font-size="5.1" text-anchor="end" fill="#222" transform="rotate(-90 237.40 512.69)" stroke="#222" stroke-width="0.07">LH9</text>
<line x1="246.00" y1="509.89" x2="246.00" y2="511.39" stroke="#4a4a4a" stroke-width="0.6"/>
<text x="247.80" y="512.69" font-size="5.1" text-anchor="end" fill="#222" transform="rotate(-90 247.80 512.69)" stroke="#222" stroke-width="0.07">LH11</text>
<text x="225.20" y="540.00" font-size="6.8" text-anchor="middle" font-weight="bold" fill="#000">TGFBR2</text>
<path d="M200.23,578.20 L208.97,578.20 C208.70,578.07 207.97,577.82 207.36,577.43 C206.75,577.05 205.52,576.53 205.29,575.89 C205.06,575.25 205.71,574.61 205.98,573.58 C206.25,572.55 206.90,571.27 206.90,569.73 C206.90,568.19 206.29,565.88 205.98,564.34 C205.67,562.80 205.29,562.67 205.06,560.49 C204.83,558.31 204.68,552.79 204.60,551.25 C204.52,552.79 204.37,558.31 204.14,560.49 C203.91,562.67 203.53,562.80 203.22,564.34 C202.91,565.88 202.30,568.19 202.30,569.73 C202.30,571.27 202.95,572.55 203.22,573.58 C203.49,574.61 204.14,575.25 203.91,575.89 C203.68,576.53 202.45,577.05 201.84,577.43 C201.23,577.82 200.50,578.07 200.23,578.20 Z" fill="#9a0541" stroke="#222" stroke-width="0.48" stroke-linejoin="round"/>
<rect x="203.70" y="550.65" width="1.8" height="7.84" fill="url(#fade)"/>
<path d="M210.76,578.20 L219.04,578.20 C218.81,578.07 218.23,577.82 217.66,577.43 C217.09,577.05 215.90,576.53 215.59,575.89 C215.28,575.25 215.67,574.48 215.82,573.58 C215.97,572.68 216.51,571.78 216.51,570.50 C216.51,569.22 216.04,567.16 215.82,565.88 C215.60,564.60 215.33,564.98 215.18,562.80 C215.02,560.62 214.95,554.46 214.90,552.79 C214.85,554.46 214.78,560.62 214.62,562.80 C214.47,564.98 214.20,564.60 213.98,565.88 C213.76,567.16 213.29,569.22 213.29,570.50 C213.29,571.78 213.83,572.68 213.98,573.58 C214.13,574.48 214.52,575.25 214.21,575.89 C213.90,576.53 212.72,577.05 212.14,577.43 C211.57,577.82 210.99,578.07 210.76,578.20 Z" fill="#d91c78" stroke="#222" stroke-width="0.48" stroke-linejoin="round"/>
<rect x="214.00" y="552.19" width="1.8" height="8.61" fill="url(#fade)"/>
<path d="M221.29,578.20 L229.11,578.20 C228.84,578.07 228.07,577.82 227.50,577.43 C226.93,577.05 225.89,577.05 225.66,575.89 C225.43,574.74 226.14,572.04 226.12,570.50 C226.10,568.96 225.72,569.60 225.57,566.65 C225.41,563.70 225.26,555.10 225.20,552.79 C225.14,555.10 224.99,563.70 224.83,566.65 C224.68,569.60 224.30,568.96 224.28,570.50 C224.26,572.04 224.97,574.74 224.74,575.89 C224.51,577.05 223.47,577.05 222.90,577.43 C222.32,577.82 221.56,578.07 221.29,578.20 Z" fill="#df6db5" stroke="#222" stroke-width="0.48" stroke-linejoin="round"/>
<rect x="224.30" y="552.19" width="1.8" height="12.46" fill="url(#fade)"/>
<path d="M231.59,578.20 L239.41,578.20 C239.10,578.07 238.16,577.82 237.57,577.43 C236.98,577.05 236.12,577.05 235.87,575.89 C235.62,574.74 236.11,574.61 236.05,570.50 C235.99,566.39 235.59,554.46 235.50,551.25 C235.41,554.46 235.01,566.39 234.95,570.50 C234.89,574.61 235.38,574.74 235.13,575.89 C234.88,577.05 234.02,577.05 233.43,577.43 C232.84,577.82 231.90,578.07 231.59,578.20 Z" fill="#d7acdc" stroke="#222" stroke-width="0.48" stroke-linejoin="round"/>
<rect x="234.60" y="550.65" width="1.8" height="17.85" fill="url(#fade)"/>
<path d="M241.89,578.20 L249.71,578.20 C249.40,578.07 248.46,577.82 247.87,577.43 C247.28,577.05 246.42,577.05 246.17,575.89 C245.92,574.74 246.41,575.38 246.35,570.50 C246.29,565.62 245.89,550.61 245.80,546.63 C245.71,550.61 245.31,565.62 245.25,570.50 C245.19,575.38 245.69,574.74 245.43,575.89 C245.18,577.05 244.32,577.05 243.73,577.43 C243.14,577.82 242.20,578.07 241.89,578.20 Z" fill="#fbc0bc" stroke="#222" stroke-width="0.48" stroke-linejoin="round"/>
<rect x="244.90" y="546.03" width="1.8" height="22.47" fill="url(#fade)"/>
<line x1="198.60" y1="545.05" x2="198.60" y2="580.18" stroke="#4a4a4a" stroke-width="0.8"/>
<line x1="198.20" y1="579.78" x2="251.80" y2="579.78" stroke="#4a4a4a" stroke-width="0.8"/>
<line x1="196.90" y1="578.20" x2="198.60" y2="578.20" stroke="#4a4a4a" stroke-width="0.6"/>
<text x="195.70" y="579.90" font-size="4.8" text-anchor="end" fill="#222" stroke="#222" stroke-width="0.07">0</text>
<line x1="196.90" y1="570.50" x2="198.60" y2="570.50" stroke="#4a4a4a" stroke-width="0.6"/>
<text x="195.70" y="572.20" font-size="4.8" text-anchor="end" fill="#222" stroke="#222" stroke-width="0.07">1</text>
<line x1="196.90" y1="562.80" x2="198.60" y2="562.80" stroke="#4a4a4a" stroke-width="0.6"/>
<text x="195.70" y="564.50" font-size="4.8" text-anchor="end" fill="#222" stroke="#222" stroke-width="0.07">2</text>
<line x1="196.90" y1="555.10" x2="198.60" y2="555.10" stroke="#4a4a4a" stroke-width="0.6"/>
<text x="195.70" y="556.80" font-size="4.8" text-anchor="end" fill="#222" stroke="#222" stroke-width="0.07">3</text>
<line x1="196.90" y1="547.40" x2="198.60" y2="547.40" stroke="#4a4a4a" stroke-width="0.6"/>
<text x="195.70" y="549.10" font-size="4.8" text-anchor="end" fill="#222" stroke="#222" stroke-width="0.07">4</text>
<line x1="204.60" y1="579.78" x2="204.60" y2="581.28" stroke="#4a4a4a" stroke-width="0.6"/>
<text x="206.40" y="582.58" font-size="5.1" text-anchor="end" fill="#222" transform="rotate(-90 206.40 582.58)" stroke="#222" stroke-width="0.07">LH3</text>
<line x1="214.90" y1="579.78" x2="214.90" y2="581.28" stroke="#4a4a4a" stroke-width="0.6"/>
<text x="216.70" y="582.58" font-size="5.1" text-anchor="end" fill="#222" transform="rotate(-90 216.70 582.58)" stroke="#222" stroke-width="0.07">LH5</text>
<line x1="225.20" y1="579.78" x2="225.20" y2="581.28" stroke="#4a4a4a" stroke-width="0.6"/>
<text x="227.00" y="582.58" font-size="5.1" text-anchor="end" fill="#222" transform="rotate(-90 227.00 582.58)" stroke="#222" stroke-width="0.07">LH7</text>
<line x1="235.50" y1="579.78" x2="235.50" y2="581.28" stroke="#4a4a4a" stroke-width="0.6"/>
<text x="237.30" y="582.58" font-size="5.1" text-anchor="end" fill="#222" transform="rotate(-90 237.30 582.58)" stroke="#222" stroke-width="0.07">LH9</text>
<line x1="245.80" y1="579.78" x2="245.80" y2="581.28" stroke="#4a4a4a" stroke-width="0.6"/>
<text x="247.60" y="582.58" font-size="5.1" text-anchor="end" fill="#222" transform="rotate(-90 247.60 582.58)" stroke="#222" stroke-width="0.07">LH11</text>
<text x="225.10" y="607.40" font-size="6.8" text-anchor="middle" font-weight="bold" fill="#000">CD44</text>
<path d="M200.03,645.40 L208.77,645.40 C208.50,645.29 207.77,645.19 207.16,644.76 C206.55,644.34 205.09,643.80 205.09,642.85 C205.09,641.89 206.62,640.51 207.16,639.02 C207.70,637.53 208.35,635.51 208.31,633.92 C208.27,632.32 207.47,630.83 206.93,629.45 C206.39,628.07 205.51,627.22 205.09,625.62 C204.67,624.03 204.52,620.84 204.40,619.88 C204.28,620.84 204.13,624.03 203.71,625.62 C203.29,627.22 202.41,628.07 201.87,629.45 C201.33,630.83 200.53,632.32 200.49,633.92 C200.45,635.51 201.10,637.53 201.64,639.02 C202.18,640.51 203.71,641.89 203.71,642.85 C203.71,643.80 202.25,644.34 201.64,644.76 C201.03,645.19 200.30,645.29 200.03,645.40 Z" fill="#9a0541" stroke="#222" stroke-width="0.48" stroke-linejoin="round"/>
<rect x="203.50" y="619.28" width="1.8" height="4.34" fill="url(#fade)"/>
<path d="M210.38,645.40 L219.12,645.40 C218.85,645.29 218.12,645.19 217.51,644.76 C216.90,644.34 215.48,643.80 215.44,642.85 C215.40,641.89 216.78,640.40 217.28,639.02 C217.78,637.64 218.47,636.04 218.43,634.55 C218.39,633.07 217.57,631.47 217.05,630.09 C216.53,628.71 215.69,627.96 215.30,626.26 C214.92,624.56 214.84,620.94 214.75,619.88 C214.66,620.94 214.58,624.56 214.20,626.26 C213.81,627.96 212.97,628.71 212.45,630.09 C211.93,631.47 211.11,633.07 211.07,634.55 C211.03,636.04 211.72,637.64 212.22,639.02 C212.72,640.40 214.10,641.89 214.06,642.85 C214.02,643.80 212.60,644.34 211.99,644.76 C211.38,645.19 210.65,645.29 210.38,645.40 Z" fill="#d91c78" stroke="#222" stroke-width="0.48" stroke-linejoin="round"/>
<rect x="213.85" y="619.28" width="1.8" height="4.98" fill="url(#fade)"/>
<path d="M221.19,645.40 L229.01,645.40 C228.74,645.29 227.96,645.19 227.40,644.76 C226.84,644.34 225.77,643.80 225.65,642.85 C225.54,641.89 226.38,640.40 226.71,639.02 C227.04,637.64 227.63,636.15 227.63,634.55 C227.63,632.96 227.06,630.83 226.71,629.45 C226.37,628.07 225.83,628.49 225.56,626.26 C225.29,624.03 225.18,617.75 225.10,616.05 C225.02,617.75 224.91,624.03 224.64,626.26 C224.37,628.49 223.83,628.07 223.49,629.45 C223.14,630.83 222.57,632.96 222.57,634.55 C222.57,636.15 223.16,637.64 223.49,639.02 C223.82,640.40 224.66,641.89 224.55,642.85 C224.43,643.80 223.36,644.34 222.80,644.76 C222.24,645.19 221.46,645.29 221.19,645.40 Z" fill="#df6db5" stroke="#222" stroke-width="0.48" stroke-linejoin="round"/>
<rect x="224.20" y="615.45" width="1.8" height="8.81" fill="url(#fade)"/>
<path d="M231.54,645.40 L239.36,645.40 C239.09,645.29 238.31,645.19 237.75,644.76 C237.19,644.34 236.19,643.80 236.00,642.85 C235.81,641.89 236.42,640.51 236.60,639.02 C236.78,637.53 237.06,635.51 237.06,633.92 C237.06,632.32 236.79,630.73 236.60,629.45 C236.41,628.17 236.10,627.86 235.91,626.26 C235.72,624.66 235.53,620.94 235.45,619.88 C235.37,620.94 235.18,624.66 234.99,626.26 C234.80,627.86 234.49,628.17 234.30,629.45 C234.11,630.73 233.84,632.32 233.84,633.92 C233.84,635.51 234.12,637.53 234.30,639.02 C234.48,640.51 235.09,641.89 234.90,642.85 C234.71,643.80 233.71,644.34 233.15,644.76 C232.59,645.19 231.81,645.29 231.54,645.40 Z" fill="#d7acdc" stroke="#222" stroke-width="0.48" stroke-linejoin="round"/>
<rect x="234.55" y="619.28" width="1.8" height="4.98" fill="url(#fade)"/>
<path d="M243.50,645.40 L248.10,645.40 C247.95,645.29 247.49,645.19 247.18,644.76 C246.87,644.34 246.07,644.02 246.26,642.85 C246.45,641.68 247.72,639.66 248.33,637.74 C248.94,635.83 249.98,633.28 249.94,631.36 C249.90,629.45 248.68,627.64 248.10,626.26 C247.53,624.88 246.87,625.20 246.49,623.07 C246.11,620.94 245.92,615.10 245.80,613.50 C245.69,615.10 245.49,620.94 245.11,623.07 C244.73,625.20 244.07,624.88 243.50,626.26 C242.93,627.64 241.70,629.45 241.66,631.36 C241.62,633.28 242.66,635.83 243.27,637.74 C243.88,639.66 245.15,641.68 245.34,642.85 C245.53,644.02 244.73,644.34 244.42,644.76 C244.11,645.19 243.65,645.29 243.50,645.40 Z" fill="#fbc0bc" stroke="#222" stroke-width="0.48" stroke-linejoin="round"/>
<rect x="244.90" y="612.90" width="1.8" height="8.17" fill="url(#fade)"/>
<line x1="198.60" y1="611.90" x2="198.60" y2="647.39" stroke="#4a4a4a" stroke-width="0.8"/>
<line x1="198.20" y1="647.00" x2="251.60" y2="647.00" stroke="#4a4a4a" stroke-width="0.8"/>
<line x1="196.90" y1="645.40" x2="198.60" y2="645.40" stroke="#4a4a4a" stroke-width="0.6"/>
<text x="195.70" y="647.10" font-size="4.8" text-anchor="end" fill="#222" stroke="#222" stroke-width="0.07">0</text>
<line x1="196.90" y1="639.02" x2="198.60" y2="639.02" stroke="#4a4a4a" stroke-width="0.6"/>
<text x="195.70" y="640.72" font-size="4.8" text-anchor="end" fill="#222" stroke="#222" stroke-width="0.07">1</text>
<line x1="196.90" y1="632.64" x2="198.60" y2="632.64" stroke="#4a4a4a" stroke-width="0.6"/>
<text x="195.70" y="634.34" font-size="4.8" text-anchor="end" fill="#222" stroke="#222" stroke-width="0.07">2</text>
<line x1="196.90" y1="626.26" x2="198.60" y2="626.26" stroke="#4a4a4a" stroke-width="0.6"/>
<text x="195.70" y="627.96" font-size="4.8" text-anchor="end" fill="#222" stroke="#222" stroke-width="0.07">3</text>
<line x1="196.90" y1="619.88" x2="198.60" y2="619.88" stroke="#4a4a4a" stroke-width="0.6"/>
<text x="195.70" y="621.58" font-size="4.8" text-anchor="end" fill="#222" stroke="#222" stroke-width="0.07">4</text>
<line x1="196.90" y1="613.50" x2="198.60" y2="613.50" stroke="#4a4a4a" stroke-width="0.6"/>
<text x="195.70" y="615.20" font-size="4.8" text-anchor="end" fill="#222" stroke="#222" stroke-width="0.07">5</text>
<line x1="204.40" y1="647.00" x2="204.40" y2="648.50" stroke="#4a4a4a" stroke-width="0.6"/>
<text x="206.20" y="649.79" font-size="5.1" text-anchor="end" fill="#222" transform="rotate(-90 206.20 649.79)" stroke="#222" stroke-width="0.07">LH3</text>
<line x1="214.75" y1="647.00" x2="214.75" y2="648.50" stroke="#4a4a4a" stroke-width="0.6"/>
<text x="216.55" y="649.79" font-size="5.1" text-anchor="end" fill="#222" transform="rotate(-90 216.55 649.79)" stroke="#222" stroke-width="0.07">LH5</text>
<line x1="225.10" y1="647.00" x2="225.10" y2="648.50" stroke="#4a4a4a" stroke-width="0.6"/>
<text x="226.90" y="649.79" font-size="5.1" text-anchor="end" fill="#222" transform="rotate(-90 226.90 649.79)" stroke="#222" stroke-width="0.07">LH7</text>
<line x1="235.45" y1="647.00" x2="235.45" y2="648.50" stroke="#4a4a4a" stroke-width="0.6"/>
<text x="237.25" y="649.79" font-size="5.1" text-anchor="end" fill="#222" transform="rotate(-90 237.25 649.79)" stroke="#222" stroke-width="0.07">LH9</text>
<line x1="245.80" y1="647.00" x2="245.80" y2="648.50" stroke="#4a4a4a" stroke-width="0.6"/>
<text x="247.60" y="649.79" font-size="5.1" text-anchor="end" fill="#222" transform="rotate(-90 247.60 649.79)" stroke="#222" stroke-width="0.07">LH11</text>
<text x="226.90" y="677.90" font-size="6.8" text-anchor="middle" font-weight="bold" fill="#000">ITGB1</text>
<path d="M202.06,716.00 L210.34,716.00 C210.11,715.85 209.53,715.85 208.96,715.11 C208.38,714.36 207.08,712.87 206.89,711.53 C206.70,710.20 207.58,709.00 207.81,707.07 C208.04,705.14 208.31,702.16 208.27,699.93 C208.23,697.69 207.85,695.31 207.58,693.67 C207.31,692.04 206.89,691.44 206.66,690.10 C206.43,688.76 206.28,686.38 206.20,685.64 C206.12,686.38 205.97,688.76 205.74,690.10 C205.51,691.44 205.09,692.04 204.82,693.67 C204.55,695.31 204.17,697.69 204.13,699.93 C204.09,702.16 204.36,705.14 204.59,707.07 C204.82,709.00 205.70,710.20 205.51,711.53 C205.32,712.87 204.01,714.36 203.44,715.11 C202.87,715.85 202.29,715.85 202.06,716.00 Z" fill="#9a0541" stroke="#222" stroke-width="0.48" stroke-linejoin="round"/>
<rect x="205.30" y="685.04" width="1.8" height="3.06" fill="url(#fade)"/>
<path d="M212.41,716.00 L220.69,716.00 C220.46,715.85 219.88,715.85 219.31,715.11 C218.73,714.36 217.35,712.87 217.24,711.53 C217.12,710.20 218.24,708.71 218.62,707.07 C219.00,705.43 219.54,703.50 219.54,701.71 C219.54,699.93 219.00,697.99 218.62,696.35 C218.24,694.72 217.58,693.82 217.24,691.89 C216.89,689.95 216.66,685.94 216.55,684.75 C216.43,685.94 216.20,689.95 215.86,691.89 C215.51,693.82 214.86,694.72 214.48,696.35 C214.10,697.99 213.56,699.93 213.56,701.71 C213.56,703.50 214.10,705.43 214.48,707.07 C214.86,708.71 215.97,710.20 215.86,711.53 C215.74,712.87 214.36,714.36 213.79,715.11 C213.22,715.85 212.64,715.85 212.41,716.00 Z" fill="#d91c78" stroke="#222" stroke-width="0.48" stroke-linejoin="round"/>
<rect x="215.65" y="684.14" width="1.8" height="5.74" fill="url(#fade)"/>
<path d="M222.76,716.00 L231.04,716.00 C230.77,715.85 230.03,715.85 229.43,715.11 C228.83,714.36 227.53,712.87 227.45,711.53 C227.38,710.20 228.60,709.00 228.97,707.07 C229.34,705.14 229.74,702.01 229.66,699.93 C229.58,697.84 228.89,696.06 228.51,694.57 C228.13,693.08 227.63,692.78 227.36,691.00 C227.09,689.21 226.98,685.04 226.90,683.85 C226.82,685.04 226.71,689.21 226.44,691.00 C226.17,692.78 225.67,693.08 225.29,694.57 C224.91,696.06 224.22,697.84 224.14,699.93 C224.06,702.01 224.46,705.14 224.83,707.07 C225.20,709.00 226.42,710.20 226.35,711.53 C226.27,712.87 224.97,714.36 224.37,715.11 C223.77,715.85 223.03,715.85 222.76,716.00 Z" fill="#df6db5" stroke="#222" stroke-width="0.48" stroke-linejoin="round"/>
<rect x="226.00" y="683.25" width="1.8" height="5.74" fill="url(#fade)"/>
<path d="M233.57,716.00 L240.93,716.00 C240.70,715.85 240.07,715.85 239.55,715.11 C239.03,714.36 237.76,712.87 237.80,711.53 C237.84,710.20 239.17,709.00 239.78,707.07 C240.39,705.14 241.52,702.01 241.48,699.93 C241.44,697.84 240.14,696.06 239.55,694.57 C238.96,693.08 238.32,692.63 237.94,691.00 C237.56,689.36 237.37,685.79 237.25,684.75 C237.13,685.79 236.94,689.36 236.56,691.00 C236.18,692.63 235.54,693.08 234.95,694.57 C234.36,696.06 233.06,697.84 233.02,699.93 C232.98,702.01 234.11,705.14 234.72,707.07 C235.33,709.00 236.66,710.20 236.70,711.53 C236.74,712.87 235.47,714.36 234.95,715.11 C234.43,715.85 233.80,715.85 233.57,716.00 Z" fill="#d7acdc" stroke="#222" stroke-width="0.48" stroke-linejoin="round"/>
<rect x="236.35" y="684.14" width="1.8" height="4.85" fill="url(#fade)"/>
<path d="M243.92,716.00 L251.28,716.00 C251.01,715.85 250.19,715.85 249.67,715.11 C249.15,714.36 248.23,712.87 248.15,711.53 C248.08,710.20 248.88,709.00 249.21,707.07 C249.54,705.14 250.09,702.01 250.13,699.93 C250.17,697.84 249.78,696.06 249.44,694.57 C249.09,693.08 248.37,692.78 248.06,691.00 C247.75,689.21 247.68,685.04 247.60,683.85 C247.52,685.04 247.45,689.21 247.14,691.00 C246.83,692.78 246.10,693.08 245.76,694.57 C245.41,696.06 245.03,697.84 245.07,699.93 C245.11,702.01 245.66,705.14 245.99,707.07 C246.32,709.00 247.12,710.20 247.05,711.53 C246.97,712.87 246.05,714.36 245.53,715.11 C245.01,715.85 244.19,715.85 243.92,716.00 Z" fill="#fbc0bc" stroke="#222" stroke-width="0.48" stroke-linejoin="round"/>
<rect x="246.70" y="683.25" width="1.8" height="5.74" fill="url(#fade)"/>
<line x1="200.20" y1="682.24" x2="200.20" y2="718.01" stroke="#4a4a4a" stroke-width="0.8"/>
<line x1="199.80" y1="717.61" x2="253.60" y2="717.61" stroke="#4a4a4a" stroke-width="0.8"/>
<line x1="198.50" y1="716.00" x2="200.20" y2="716.00" stroke="#4a4a4a" stroke-width="0.6"/>
<text x="197.30" y="717.70" font-size="4.8" text-anchor="end" fill="#222" stroke="#222" stroke-width="0.07">0</text>
<line x1="198.50" y1="707.07" x2="200.20" y2="707.07" stroke="#4a4a4a" stroke-width="0.6"/>
<text x="197.30" y="708.77" font-size="4.8" text-anchor="end" fill="#222" stroke="#222" stroke-width="0.07">1</text>
<line x1="198.50" y1="698.14" x2="200.20" y2="698.14" stroke="#4a4a4a" stroke-width="0.6"/>
<text x="197.30" y="699.84" font-size="4.8" text-anchor="end" fill="#222" stroke="#222" stroke-width="0.07">2</text>
<line x1="198.50" y1="689.21" x2="200.20" y2="689.21" stroke="#4a4a4a" stroke-width="0.6"/>
<text x="197.30" y="690.91" font-size="4.8" text-anchor="end" fill="#222" stroke="#222" stroke-width="0.07">3</text>
<line x1="206.20" y1="717.61" x2="206.20" y2="719.11" stroke="#4a4a4a" stroke-width="0.6"/>
<text x="208.00" y="720.41" font-size="5.1" text-anchor="end" fill="#222" transform="rotate(-90 208.00 720.41)" stroke="#222" stroke-width="0.07">LH3</text>
<line x1="216.55" y1="717.61" x2="216.55" y2="719.11" stroke="#4a4a4a" stroke-width="0.6"/>
<text x="218.35" y="720.41" font-size="5.1" text-anchor="end" fill="#222" transform="rotate(-90 218.35 720.41)" stroke="#222" stroke-width="0.07">LH5</text>
<line x1="226.90" y1="717.61" x2="226.90" y2="719.11" stroke="#4a4a4a" stroke-width="0.6"/>
<text x="228.70" y="720.41" font-size="5.1" text-anchor="end" fill="#222" transform="rotate(-90 228.70 720.41)" stroke="#222" stroke-width="0.07">LH7</text>
<line x1="237.25" y1="717.61" x2="237.25" y2="719.11" stroke="#4a4a4a" stroke-width="0.6"/>
<text x="239.05" y="720.41" font-size="5.1" text-anchor="end" fill="#222" transform="rotate(-90 239.05 720.41)" stroke="#222" stroke-width="0.07">LH9</text>
<line x1="247.60" y1="717.61" x2="247.60" y2="719.11" stroke="#4a4a4a" stroke-width="0.6"/>
<text x="249.40" y="720.41" font-size="5.1" text-anchor="end" fill="#222" transform="rotate(-90 249.40 720.41)" stroke="#222" stroke-width="0.07">LH11</text>
<text x="224.80" y="747.90" font-size="6.8" text-anchor="middle" font-weight="bold" fill="#000">ITGAE</text>
<path d="M199.73,785.40 L208.47,785.40 C208.20,785.23 207.44,784.95 206.86,784.38 C206.28,783.82 205.29,783.25 205.02,782.01 C204.75,780.77 205.29,778.62 205.25,776.93 C205.21,775.24 204.94,773.68 204.79,771.85 C204.64,770.01 204.44,768.32 204.33,765.92 C204.21,763.52 204.14,758.86 204.10,757.45 C204.06,758.86 203.99,763.52 203.87,765.92 C203.75,768.32 203.56,770.01 203.41,771.85 C203.26,773.68 202.99,775.24 202.95,776.93 C202.91,778.62 203.45,780.77 203.18,782.01 C202.91,783.25 201.92,783.82 201.34,784.38 C200.76,784.95 200.00,785.23 199.73,785.40 Z" fill="#9a0541" stroke="#222" stroke-width="0.48" stroke-linejoin="round"/>
<rect x="203.20" y="756.85" width="1.8" height="13.00" fill="url(#fade)"/>
<path d="M210.08,785.40 L218.82,785.40 C218.55,785.23 217.78,784.95 217.21,784.38 C216.63,783.82 215.56,783.25 215.37,782.01 C215.18,780.77 215.98,778.91 216.06,776.93 C216.14,774.95 215.98,772.13 215.83,770.15 C215.68,768.18 215.37,767.19 215.14,765.07 C214.91,762.95 214.56,758.72 214.45,757.45 C214.33,758.72 213.99,762.95 213.76,765.07 C213.53,767.19 213.22,768.18 213.07,770.15 C212.92,772.13 212.76,774.95 212.84,776.93 C212.92,778.91 213.72,780.77 213.53,782.01 C213.34,783.25 212.26,783.82 211.69,784.38 C211.12,784.95 210.35,785.23 210.08,785.40 Z" fill="#d91c78" stroke="#222" stroke-width="0.48" stroke-linejoin="round"/>
<rect x="213.55" y="756.85" width="1.8" height="6.22" fill="url(#fade)"/>
<path d="M220.66,785.40 L228.94,785.40 C228.63,785.23 227.70,784.95 227.10,784.38 C226.50,783.82 225.62,783.25 225.35,782.01 C225.08,780.77 225.52,778.62 225.49,776.93 C225.46,775.24 225.28,775.52 225.17,771.85 C225.05,768.18 224.86,757.73 224.80,754.91 C224.74,757.73 224.55,768.18 224.43,771.85 C224.32,775.52 224.14,775.24 224.11,776.93 C224.08,778.62 224.52,780.77 224.25,782.01 C223.98,783.25 223.10,783.82 222.50,784.38 C221.90,784.95 220.97,785.23 220.66,785.40 Z" fill="#df6db5" stroke="#222" stroke-width="0.48" stroke-linejoin="round"/>
<rect x="223.90" y="754.31" width="1.8" height="15.54" fill="url(#fade)"/>
<path d="M231.01,785.40 L239.29,785.40 C238.94,785.23 237.83,784.95 237.22,784.38 C236.61,783.82 235.84,783.25 235.61,782.01 C235.38,780.77 235.92,781.16 235.84,776.93 C235.76,772.69 235.26,759.99 235.15,756.60 C235.03,759.99 234.54,772.69 234.46,776.93 C234.38,781.16 234.92,780.77 234.69,782.01 C234.46,783.25 233.69,783.82 233.08,784.38 C232.47,784.95 231.35,785.23 231.01,785.40 Z" fill="#d7acdc" stroke="#222" stroke-width="0.48" stroke-linejoin="round"/>
<rect x="234.25" y="756.00" width="1.8" height="18.93" fill="url(#fade)"/>
<path d="M241.36,785.40 L249.64,785.40 C249.26,785.23 247.97,784.95 247.34,784.38 C246.71,783.82 246.06,783.25 245.87,782.01 C245.68,780.77 246.25,781.16 246.19,776.93 C246.13,772.69 245.62,759.99 245.50,756.60 C245.38,759.99 244.87,772.69 244.81,776.93 C244.75,781.16 245.32,780.77 245.13,782.01 C244.94,783.25 244.29,783.82 243.66,784.38 C243.03,784.95 241.74,785.23 241.36,785.40 Z" fill="#fbc0bc" stroke="#222" stroke-width="0.48" stroke-linejoin="round"/>
<rect x="244.60" y="756.00" width="1.8" height="18.93" fill="url(#fade)"/>
<line x1="198.40" y1="753.38" x2="198.40" y2="787.32" stroke="#4a4a4a" stroke-width="0.8"/>
<line x1="198.00" y1="786.92" x2="251.20" y2="786.92" stroke="#4a4a4a" stroke-width="0.8"/>
<line x1="196.70" y1="785.40" x2="198.40" y2="785.40" stroke="#4a4a4a" stroke-width="0.6"/>
<text x="195.50" y="787.10" font-size="4.8" text-anchor="end" fill="#222" stroke="#222" stroke-width="0.07">0</text>
<line x1="196.70" y1="776.93" x2="198.40" y2="776.93" stroke="#4a4a4a" stroke-width="0.6"/>
<text x="195.50" y="778.63" font-size="4.8" text-anchor="end" fill="#222" stroke="#222" stroke-width="0.07">1</text>
<line x1="196.70" y1="768.46" x2="198.40" y2="768.46" stroke="#4a4a4a" stroke-width="0.6"/>
<text x="195.50" y="770.16" font-size="4.8" text-anchor="end" fill="#222" stroke="#222" stroke-width="0.07">2</text>
<line x1="196.70" y1="759.99" x2="198.40" y2="759.99" stroke="#4a4a4a" stroke-width="0.6"/>
<text x="195.50" y="761.69" font-size="4.8" text-anchor="end" fill="#222" stroke="#222" stroke-width="0.07">3</text>
<line x1="204.10" y1="786.92" x2="204.10" y2="788.42" stroke="#4a4a4a" stroke-width="0.6"/>
<text x="205.90" y="789.72" font-size="5.1" text-anchor="end" fill="#222" transform="rotate(-90 205.90 789.72)" stroke="#222" stroke-width="0.07">LH3</text>
<line x1="214.45" y1="786.92" x2="214.45" y2="788.42" stroke="#4a4a4a" stroke-width="0.6"/>
<text x="216.25" y="789.72" font-size="5.1" text-anchor="end" fill="#222" transform="rotate(-90 216.25 789.72)" stroke="#222" stroke-width="0.07">LH5</text>
<line x1="224.80" y1="786.92" x2="224.80" y2="788.42" stroke="#4a4a4a" stroke-width="0.6"/>
<text x="226.60" y="789.72" font-size="5.1" text-anchor="end" fill="#222" transform="rotate(-90 226.60 789.72)" stroke="#222" stroke-width="0.07">LH7</text>
<line x1="235.15" y1="786.92" x2="235.15" y2="788.42" stroke="#4a4a4a" stroke-width="0.6"/>
<text x="236.95" y="789.72" font-size="5.1" text-anchor="end" fill="#222" transform="rotate(-90 236.95 789.72)" stroke="#222" stroke-width="0.07">LH9</text>
<line x1="245.50" y1="786.92" x2="245.50" y2="788.42" stroke="#4a4a4a" stroke-width="0.6"/>
<text x="247.30" y="789.72" font-size="5.1" text-anchor="end" fill="#222" transform="rotate(-90 247.30 789.72)" stroke="#222" stroke-width="0.07">LH11</text>
<text x="300.00" y="470.30" font-size="6.8" text-anchor="middle" font-weight="bold" fill="#000">TGFBR1</text>
<path d="M274.83,508.40 L283.57,508.40 C283.38,508.15 282.80,507.56 282.42,506.90 C282.04,506.23 281.58,505.64 281.27,504.39 C280.96,503.13 280.77,501.21 280.58,499.37 C280.39,497.53 280.27,495.19 280.12,493.35 C279.97,491.52 279.81,490.18 279.66,488.34 C279.51,486.50 279.28,483.32 279.20,482.32 C279.12,483.32 278.89,486.50 278.74,488.34 C278.59,490.18 278.43,491.52 278.28,493.35 C278.13,495.19 278.01,497.53 277.82,499.37 C277.63,501.21 277.44,503.13 277.13,504.39 C276.82,505.64 276.36,506.23 275.98,506.90 C275.60,507.56 275.02,508.15 274.83,508.40 Z" fill="#9a0541" stroke="#222" stroke-width="0.48" stroke-linejoin="round"/>
<rect x="278.30" y="481.72" width="1.8" height="4.62" fill="url(#fade)"/>
<path d="M285.37,508.40 L293.83,508.40 C293.59,508.15 292.87,507.56 292.36,506.90 C291.85,506.23 291.12,505.64 290.75,504.39 C290.38,503.13 290.30,501.21 290.15,499.37 C290.01,497.53 289.97,496.36 289.88,493.35 C289.78,490.35 289.65,483.32 289.60,481.32 C289.55,483.32 289.42,490.35 289.32,493.35 C289.23,496.36 289.19,497.53 289.05,499.37 C288.90,501.21 288.82,503.13 288.45,504.39 C288.08,505.64 287.35,506.23 286.84,506.90 C286.33,507.56 285.61,508.15 285.37,508.40 Z" fill="#d91c78" stroke="#222" stroke-width="0.48" stroke-linejoin="round"/>
<rect x="288.70" y="480.72" width="1.8" height="10.64" fill="url(#fade)"/>
<path d="M295.86,508.40 L304.14,508.40 C303.87,508.15 302.99,507.56 302.53,506.90 C302.07,506.23 301.65,505.81 301.38,504.39 C301.11,502.97 301.07,500.38 300.92,498.37 C300.77,496.36 300.58,494.36 300.46,492.35 C300.34,490.35 300.26,489.01 300.18,486.33 C300.11,483.66 300.03,477.98 300.00,476.30 C299.97,477.98 299.89,483.66 299.82,486.33 C299.74,489.01 299.66,490.35 299.54,492.35 C299.42,494.36 299.23,496.36 299.08,498.37 C298.93,500.38 298.89,502.97 298.62,504.39 C298.35,505.81 297.93,506.23 297.47,506.90 C297.01,507.56 296.13,508.15 295.86,508.40 Z" fill="#df6db5" stroke="#222" stroke-width="0.48" stroke-linejoin="round"/>
<rect x="299.10" y="475.70" width="1.8" height="14.65" fill="url(#fade)"/>
<path d="M306.26,508.40 L314.54,508.40 C314.27,508.15 313.39,507.56 312.93,506.90 C312.47,506.23 312.05,505.81 311.78,504.39 C311.51,502.97 311.46,500.38 311.32,498.37 C311.18,496.36 311.07,494.36 310.95,492.35 C310.84,490.35 310.72,488.51 310.63,486.33 C310.54,484.16 310.44,480.48 310.40,479.31 C310.36,480.48 310.26,484.16 310.17,486.33 C310.08,488.51 309.96,490.35 309.85,492.35 C309.73,494.36 309.62,496.36 309.48,498.37 C309.34,500.38 309.29,502.97 309.02,504.39 C308.75,505.81 308.33,506.23 307.87,506.90 C307.41,507.56 306.53,508.15 306.26,508.40 Z" fill="#d7acdc" stroke="#222" stroke-width="0.48" stroke-linejoin="round"/>
<rect x="309.50" y="478.71" width="1.8" height="11.64" fill="url(#fade)"/>
<path d="M316.89,508.40 L324.71,508.40 C324.40,508.15 323.37,507.56 322.87,506.90 C322.37,506.23 321.95,505.64 321.72,504.39 C321.49,503.13 321.61,501.21 321.49,499.37 C321.38,497.53 321.15,496.53 321.03,493.35 C320.92,490.18 320.84,482.49 320.80,480.32 C320.76,482.49 320.69,490.18 320.57,493.35 C320.45,496.53 320.23,497.53 320.11,499.37 C320.00,501.21 320.11,503.13 319.88,504.39 C319.65,505.64 319.23,506.23 318.73,506.90 C318.23,507.56 317.20,508.15 316.89,508.40 Z" fill="#fbc0bc" stroke="#222" stroke-width="0.48" stroke-linejoin="round"/>
<rect x="319.90" y="479.72" width="1.8" height="17.66" fill="url(#fade)"/>
<line x1="273.00" y1="474.70" x2="273.00" y2="510.40" stroke="#4a4a4a" stroke-width="0.8"/>
<line x1="272.60" y1="510.00" x2="327.00" y2="510.00" stroke="#4a4a4a" stroke-width="0.8"/>
<line x1="271.30" y1="508.40" x2="273.00" y2="508.40" stroke="#4a4a4a" stroke-width="0.6"/>
<text x="270.10" y="510.10" font-size="4.8" text-anchor="end" fill="#222" stroke="#222" stroke-width="0.07">0</text>
<line x1="271.30" y1="498.37" x2="273.00" y2="498.37" stroke="#4a4a4a" stroke-width="0.6"/>
<text x="270.10" y="500.07" font-size="4.8" text-anchor="end" fill="#222" stroke="#222" stroke-width="0.07">1</text>
<line x1="271.30" y1="488.34" x2="273.00" y2="488.34" stroke="#4a4a4a" stroke-width="0.6"/>
<text x="270.10" y="490.04" font-size="4.8" text-anchor="end" fill="#222" stroke="#222" stroke-width="0.07">2</text>
<line x1="271.30" y1="478.31" x2="273.00" y2="478.31" stroke="#4a4a4a" stroke-width="0.6"/>
<text x="270.10" y="480.01" font-size="4.8" text-anchor="end" fill="#222" stroke="#222" stroke-width="0.07">3</text>
<line x1="279.20" y1="510.00" x2="279.20" y2="511.50" stroke="#4a4a4a" stroke-width="0.6"/>
<text x="281.00" y="512.80" font-size="5.1" text-anchor="end" fill="#222" transform="rotate(-90 281.00 512.80)" stroke="#222" stroke-width="0.07">LH3</text>
<line x1="289.60" y1="510.00" x2="289.60" y2="511.50" stroke="#4a4a4a" stroke-width="0.6"/>
<text x="291.40" y="512.80" font-size="5.1" text-anchor="end" fill="#222" transform="rotate(-90 291.40 512.80)" stroke="#222" stroke-width="0.07">LH5</text>
<line x1="300.00" y1="510.00" x2="300.00" y2="511.50" stroke="#4a4a4a" stroke-width="0.6"/>
<text x="301.80" y="512.80" font-size="5.1" text-anchor="end" fill="#222" transform="rotate(-90 301.80 512.80)" stroke="#222" stroke-width="0.07">LH7</text>
<line x1="310.40" y1="510.00" x2="310.40" y2="511.50" stroke="#4a4a4a" stroke-width="0.6"/>
<text x="312.20" y="512.80" font-size="5.1" text-anchor="end" fill="#222" transform="rotate(-90 312.20 512.80)" stroke="#222" stroke-width="0.07">LH9</text>
<line x1="320.80" y1="510.00" x2="320.80" y2="511.50" stroke="#4a4a4a" stroke-width="0.6"/>
<text x="322.60" y="512.80" font-size="5.1" text-anchor="end" fill="#222" transform="rotate(-90 322.60 512.80)" stroke="#222" stroke-width="0.07">LH11</text>
<text x="300.10" y="539.00" font-size="6.8" text-anchor="middle" font-weight="bold" fill="#000">TGFBR2</text>
<path d="M275.03,576.90 L283.77,576.90 C283.69,576.43 283.58,575.33 283.31,574.08 C283.04,572.83 282.51,571.26 282.16,569.38 C281.81,567.50 281.55,564.99 281.24,562.80 C280.93,560.61 280.63,558.41 280.32,556.22 C280.01,554.03 279.55,550.74 279.40,549.64 C279.25,550.74 278.79,554.03 278.48,556.22 C278.17,558.41 277.87,560.61 277.56,562.80 C277.25,564.99 276.99,567.50 276.64,569.38 C276.30,571.26 275.76,572.83 275.49,574.08 C275.22,575.33 275.11,576.43 275.03,576.90 Z" fill="#9a0541" stroke="#222" stroke-width="0.48" stroke-linejoin="round"/>
<rect x="278.50" y="549.04" width="1.8" height="5.18" fill="url(#fade)"/>
<path d="M285.38,576.90 L294.12,576.90 C294.08,576.43 294.01,575.33 293.89,574.08 C293.78,572.83 293.66,571.26 293.43,569.38 C293.20,567.50 292.82,565.15 292.51,562.80 C292.20,560.45 291.94,557.47 291.59,555.28 C291.25,553.09 290.75,551.36 290.44,549.64 C290.13,547.92 289.87,545.72 289.75,544.94 C289.64,545.72 289.37,547.92 289.06,549.64 C288.75,551.36 288.26,553.09 287.91,555.28 C287.57,557.47 287.30,560.45 286.99,562.80 C286.68,565.15 286.30,567.50 286.07,569.38 C285.84,571.26 285.73,572.83 285.61,574.08 C285.50,575.33 285.42,576.43 285.38,576.90 Z" fill="#d91c78" stroke="#222" stroke-width="0.48" stroke-linejoin="round"/>
<rect x="288.85" y="544.34" width="1.8" height="3.30" fill="url(#fade)"/>
<path d="M295.96,576.90 L304.24,576.90 C304.09,576.59 303.67,575.96 303.32,575.02 C302.98,574.08 302.48,572.83 302.17,571.26 C301.86,569.69 301.73,567.81 301.48,565.62 C301.23,563.43 300.88,560.61 300.65,558.10 C300.42,555.59 300.19,551.83 300.10,550.58 C300.01,551.83 299.78,555.59 299.55,558.10 C299.32,560.61 298.97,563.43 298.72,565.62 C298.47,567.81 298.34,569.69 298.03,571.26 C297.72,572.83 297.23,574.08 296.88,575.02 C296.53,575.96 296.11,576.59 295.96,576.90 Z" fill="#df6db5" stroke="#222" stroke-width="0.48" stroke-linejoin="round"/>
<rect x="299.20" y="549.98" width="1.8" height="6.12" fill="url(#fade)"/>
<path d="M306.31,576.90 L314.59,576.90 C314.44,576.59 313.98,575.96 313.67,575.02 C313.36,574.08 312.94,572.83 312.75,571.26 C312.56,569.69 312.71,567.81 312.52,565.62 C312.33,563.43 311.87,560.14 311.60,558.10 C311.33,556.06 311.10,555.44 310.91,553.40 C310.72,551.36 310.53,547.13 310.45,545.88 C310.37,547.13 310.18,551.36 309.99,553.40 C309.80,555.44 309.57,556.06 309.30,558.10 C309.03,560.14 308.57,563.43 308.38,565.62 C308.19,567.81 308.34,569.69 308.15,571.26 C307.96,572.83 307.54,574.08 307.23,575.02 C306.92,575.96 306.46,576.59 306.31,576.90 Z" fill="#d7acdc" stroke="#222" stroke-width="0.48" stroke-linejoin="round"/>
<rect x="309.55" y="545.28" width="1.8" height="6.12" fill="url(#fade)"/>
<path d="M316.89,576.90 L324.71,576.90 C324.37,576.74 323.20,576.43 322.64,575.96 C322.08,575.49 321.60,575.18 321.35,574.08 C321.11,572.98 321.26,573.14 321.17,569.38 C321.08,565.62 320.86,554.50 320.80,551.52 C320.74,554.50 320.52,565.62 320.43,569.38 C320.34,573.14 320.49,572.98 320.25,574.08 C320.00,575.18 319.52,575.49 318.96,575.96 C318.40,576.43 317.24,576.74 316.89,576.90 Z" fill="#fbc0bc" stroke="#222" stroke-width="0.48" stroke-linejoin="round"/>
<rect x="319.90" y="550.92" width="1.8" height="16.46" fill="url(#fade)"/>
<line x1="273.30" y1="543.34" x2="273.30" y2="578.90" stroke="#4a4a4a" stroke-width="0.8"/>
<line x1="272.90" y1="578.50" x2="326.90" y2="578.50" stroke="#4a4a4a" stroke-width="0.8"/>
<line x1="271.60" y1="576.90" x2="273.30" y2="576.90" stroke="#4a4a4a" stroke-width="0.6"/>
<text x="270.40" y="578.60" font-size="4.8" text-anchor="end" fill="#222" stroke="#222" stroke-width="0.07">0</text>
<line x1="271.60" y1="567.50" x2="273.30" y2="567.50" stroke="#4a4a4a" stroke-width="0.6"/>
<text x="270.40" y="569.20" font-size="4.8" text-anchor="end" fill="#222" stroke="#222" stroke-width="0.07">1</text>
<line x1="271.60" y1="558.10" x2="273.30" y2="558.10" stroke="#4a4a4a" stroke-width="0.6"/>
<text x="270.40" y="559.80" font-size="4.8" text-anchor="end" fill="#222" stroke="#222" stroke-width="0.07">2</text>
<line x1="271.60" y1="548.70" x2="273.30" y2="548.70" stroke="#4a4a4a" stroke-width="0.6"/>
<text x="270.40" y="550.40" font-size="4.8" text-anchor="end" fill="#222" stroke="#222" stroke-width="0.07">3</text>
<line x1="279.40" y1="578.50" x2="279.40" y2="580.00" stroke="#4a4a4a" stroke-width="0.6"/>
<text x="281.20" y="581.30" font-size="5.1" text-anchor="end" fill="#222" transform="rotate(-90 281.20 581.30)" stroke="#222" stroke-width="0.07">LH3</text>
<line x1="289.75" y1="578.50" x2="289.75" y2="580.00" stroke="#4a4a4a" stroke-width="0.6"/>
<text x="291.55" y="581.30" font-size="5.1" text-anchor="end" fill="#222" transform="rotate(-90 291.55 581.30)" stroke="#222" stroke-width="0.07">LH5</text>
<line x1="300.10" y1="578.50" x2="300.10" y2="580.00" stroke="#4a4a4a" stroke-width="0.6"/>
<text x="301.90" y="581.30" font-size="5.1" text-anchor="end" fill="#222" transform="rotate(-90 301.90 581.30)" stroke="#222" stroke-width="0.07">LH7</text>
<line x1="310.45" y1="578.50" x2="310.45" y2="580.00" stroke="#4a4a4a" stroke-width="0.6"/>
<text x="312.25" y="581.30" font-size="5.1" text-anchor="end" fill="#222" transform="rotate(-90 312.25 581.30)" stroke="#222" stroke-width="0.07">LH9</text>
<line x1="320.80" y1="578.50" x2="320.80" y2="580.00" stroke="#4a4a4a" stroke-width="0.6"/>
<text x="322.60" y="581.30" font-size="5.1" text-anchor="end" fill="#222" transform="rotate(-90 322.60 581.30)" stroke="#222" stroke-width="0.07">LH11</text>
<text x="301.80" y="606.70" font-size="6.8" text-anchor="middle" font-weight="bold" fill="#000">CD44</text>
<path d="M277.78,644.20 L284.22,644.20 C284.11,643.71 283.68,642.73 283.53,641.25 C283.38,639.77 283.19,637.32 283.30,635.35 C283.42,633.38 283.95,631.22 284.22,629.45 C284.49,627.68 284.99,626.21 284.91,624.73 C284.83,623.25 284.33,621.88 283.76,620.60 C283.19,619.32 281.92,617.75 281.46,617.06 C281.00,616.37 281.08,616.57 281.00,616.47 C280.92,616.57 281.00,616.37 280.54,617.06 C280.08,617.75 278.81,619.32 278.24,620.60 C277.67,621.88 277.17,623.25 277.09,624.73 C277.01,626.21 277.51,627.68 277.78,629.45 C278.05,631.22 278.58,633.38 278.70,635.35 C278.81,637.32 278.62,639.77 278.47,641.25 C278.32,642.73 277.89,643.71 277.78,644.20 Z" fill="#9a0541" stroke="#222" stroke-width="0.48" stroke-linejoin="round"/>
<path d="M287.49,644.20 L295.31,644.20 C295.12,643.91 294.58,643.22 294.16,642.43 C293.74,641.64 293.09,640.66 292.78,639.48 C292.47,638.30 292.32,636.53 292.32,635.35 C292.32,634.17 292.78,633.68 292.78,632.40 C292.78,631.12 292.49,629.45 292.32,627.68 C292.15,625.91 291.92,623.75 291.77,621.78 C291.61,619.81 291.46,616.86 291.40,615.88 C291.34,616.86 291.19,619.81 291.03,621.78 C290.88,623.75 290.65,625.91 290.48,627.68 C290.31,629.45 290.02,631.12 290.02,632.40 C290.02,633.68 290.48,634.17 290.48,635.35 C290.48,636.53 290.33,638.30 290.02,639.48 C289.71,640.66 289.06,641.64 288.64,642.43 C288.22,643.22 287.68,643.91 287.49,644.20 Z" fill="#d91c78" stroke="#222" stroke-width="0.48" stroke-linejoin="round"/>
<rect x="290.50" y="615.28" width="1.8" height="4.50" fill="url(#fade)"/>
<path d="M298.35,644.20 L305.25,644.20 C305.13,643.71 304.71,642.73 304.56,641.25 C304.41,639.77 304.25,637.32 304.33,635.35 C304.41,633.38 304.83,631.22 305.02,629.45 C305.21,627.68 305.63,626.21 305.48,624.73 C305.33,623.25 304.60,621.78 304.10,620.60 C303.60,619.42 302.87,618.93 302.49,617.65 C302.11,616.37 301.92,613.72 301.80,612.93 C301.69,613.72 301.49,616.37 301.11,617.65 C300.73,618.93 300.00,619.42 299.50,620.60 C299.00,621.78 298.27,623.25 298.12,624.73 C297.97,626.21 298.39,627.68 298.58,629.45 C298.77,631.22 299.19,633.38 299.27,635.35 C299.35,637.32 299.19,639.77 299.04,641.25 C298.89,642.73 298.47,643.71 298.35,644.20 Z" fill="#df6db5" stroke="#222" stroke-width="0.48" stroke-linejoin="round"/>
<rect x="300.90" y="612.33" width="1.8" height="3.32" fill="url(#fade)"/>
<path d="M308.29,644.20 L316.11,644.20 C315.96,643.91 315.46,643.41 315.19,642.43 C314.92,641.45 314.69,639.97 314.50,638.30 C314.31,636.63 314.27,634.37 314.04,632.40 C313.81,630.43 313.37,628.47 313.12,626.50 C312.87,624.53 312.72,622.08 312.57,620.60 C312.41,619.12 312.26,618.14 312.20,617.65 C312.14,618.14 311.99,619.12 311.83,620.60 C311.68,622.08 311.53,624.53 311.28,626.50 C311.03,628.47 310.59,630.43 310.36,632.40 C310.13,634.37 310.09,636.63 309.90,638.30 C309.71,639.97 309.48,641.45 309.21,642.43 C308.94,643.41 308.44,643.91 308.29,644.20 Z" fill="#d7acdc" stroke="#222" stroke-width="0.48" stroke-linejoin="round"/>
<path d="M321.91,644.20 L323.29,644.20 C323.29,643.71 323.25,642.73 323.29,641.25 C323.33,639.77 323.37,637.32 323.52,635.35 C323.67,633.38 323.71,631.42 324.21,629.45 C324.71,627.48 326.47,625.22 326.51,623.55 C326.55,621.88 325.09,620.70 324.44,619.42 C323.79,618.14 322.91,616.47 322.60,615.88 C322.29,616.47 321.41,618.14 320.76,619.42 C320.11,620.70 318.65,621.88 318.69,623.55 C318.73,625.22 320.49,627.48 320.99,629.45 C321.49,631.42 321.53,633.38 321.68,635.35 C321.83,637.32 321.87,639.77 321.91,641.25 C321.95,642.73 321.91,643.71 321.91,644.20 Z" fill="#fbc0bc" stroke="#222" stroke-width="0.48" stroke-linejoin="round"/>
<line x1="274.60" y1="611.37" x2="274.60" y2="646.16" stroke="#4a4a4a" stroke-width="0.8"/>
<line x1="274.20" y1="645.76" x2="329.00" y2="645.76" stroke="#4a4a4a" stroke-width="0.8"/>
<line x1="272.90" y1="644.20" x2="274.60" y2="644.20" stroke="#4a4a4a" stroke-width="0.6"/>
<text x="271.70" y="645.90" font-size="4.8" text-anchor="end" fill="#222" stroke="#222" stroke-width="0.07">0</text>
<line x1="272.90" y1="632.40" x2="274.60" y2="632.40" stroke="#4a4a4a" stroke-width="0.6"/>
<text x="271.70" y="634.10" font-size="4.8" text-anchor="end" fill="#222" stroke="#222" stroke-width="0.07">2</text>
<line x1="272.90" y1="620.60" x2="274.60" y2="620.60" stroke="#4a4a4a" stroke-width="0.6"/>
<text x="271.70" y="622.30" font-size="4.8" text-anchor="end" fill="#222" stroke="#222" stroke-width="0.07">4</text>
<line x1="281.00" y1="645.76" x2="281.00" y2="647.26" stroke="#4a4a4a" stroke-width="0.6"/>
<text x="282.80" y="648.56" font-size="5.1" text-anchor="end" fill="#222" transform="rotate(-90 282.80 648.56)" stroke="#222" stroke-width="0.07">LH3</text>
<line x1="291.40" y1="645.76" x2="291.40" y2="647.26" stroke="#4a4a4a" stroke-width="0.6"/>
<text x="293.20" y="648.56" font-size="5.1" text-anchor="end" fill="#222" transform="rotate(-90 293.20 648.56)" stroke="#222" stroke-width="0.07">LH5</text>
<line x1="301.80" y1="645.76" x2="301.80" y2="647.26" stroke="#4a4a4a" stroke-width="0.6"/>
<text x="303.60" y="648.56" font-size="5.1" text-anchor="end" fill="#222" transform="rotate(-90 303.60 648.56)" stroke="#222" stroke-width="0.07">LH7</text>
<line x1="312.20" y1="645.76" x2="312.20" y2="647.26" stroke="#4a4a4a" stroke-width="0.6"/>
<text x="314.00" y="648.56" font-size="5.1" text-anchor="end" fill="#222" transform="rotate(-90 314.00 648.56)" stroke="#222" stroke-width="0.07">LH9</text>
<line x1="322.60" y1="645.76" x2="322.60" y2="647.26" stroke="#4a4a4a" stroke-width="0.6"/>
<text x="324.40" y="648.56" font-size="5.1" text-anchor="end" fill="#222" transform="rotate(-90 324.40 648.56)" stroke="#222" stroke-width="0.07">LH11</text>
<text x="302.60" y="677.20" font-size="6.8" text-anchor="middle" font-weight="bold" fill="#000">ITGB1</text>
<path d="M277.79,715.30 L285.61,715.30 C285.42,714.94 284.73,714.03 284.46,713.12 C284.19,712.21 283.75,711.67 284.00,709.85 C284.25,708.03 285.78,704.58 285.93,702.22 C286.09,699.86 285.47,697.50 284.92,695.68 C284.37,693.86 283.16,692.41 282.62,691.32 C282.08,690.23 281.85,689.50 281.70,689.14 C281.55,689.50 281.32,690.23 280.78,691.32 C280.24,692.41 279.03,693.86 278.48,695.68 C277.93,697.50 277.31,699.86 277.47,702.22 C277.62,704.58 279.15,708.03 279.40,709.85 C279.65,711.67 279.21,712.21 278.94,713.12 C278.67,714.03 277.98,714.94 277.79,715.30 Z" fill="#9a0541" stroke="#222" stroke-width="0.48" stroke-linejoin="round"/>
<path d="M288.24,715.30 L296.06,715.30 C295.79,714.94 294.95,714.03 294.45,713.12 C293.95,712.21 293.22,711.30 293.07,709.85 C292.92,708.40 293.53,706.22 293.53,704.40 C293.53,702.58 293.25,700.77 293.07,698.95 C292.89,697.13 292.58,695.32 292.43,693.50 C292.27,691.68 292.20,688.96 292.15,688.05 C292.10,688.96 292.03,691.68 291.87,693.50 C291.72,695.32 291.41,697.13 291.23,698.95 C291.05,700.77 290.77,702.58 290.77,704.40 C290.77,706.22 291.38,708.40 291.23,709.85 C291.08,711.30 290.35,712.21 289.85,713.12 C289.35,714.03 288.51,714.94 288.24,715.30 Z" fill="#d91c78" stroke="#222" stroke-width="0.48" stroke-linejoin="round"/>
<rect x="291.25" y="687.45" width="1.8" height="4.05" fill="url(#fade)"/>
<path d="M298.69,715.30 L306.51,715.30 C306.28,714.94 305.55,714.03 305.13,713.12 C304.71,712.21 303.75,711.67 303.98,709.85 C304.21,708.03 306.28,704.58 306.51,702.22 C306.74,699.86 305.86,697.50 305.36,695.68 C304.86,693.86 303.98,693.14 303.52,691.32 C303.06,689.50 302.75,685.87 302.60,684.78 C302.45,685.87 302.14,689.50 301.68,691.32 C301.22,693.14 300.34,693.86 299.84,695.68 C299.34,697.50 298.46,699.86 298.69,702.22 C298.92,704.58 300.99,708.03 301.22,709.85 C301.45,711.67 300.49,712.21 300.07,713.12 C299.65,714.03 298.92,714.94 298.69,715.30 Z" fill="#df6db5" stroke="#222" stroke-width="0.48" stroke-linejoin="round"/>
<rect x="301.70" y="684.18" width="1.8" height="5.14" fill="url(#fade)"/>
<path d="M309.14,715.30 L316.96,715.30 C316.73,714.94 316.00,714.03 315.58,713.12 C315.16,712.21 314.28,711.67 314.43,709.85 C314.58,708.03 316.35,704.58 316.50,702.22 C316.65,699.86 315.81,697.50 315.35,695.68 C314.89,693.86 314.12,692.23 313.74,691.32 C313.36,690.41 313.17,690.41 313.05,690.23 C312.94,690.41 312.74,690.41 312.36,691.32 C311.98,692.23 311.21,693.86 310.75,695.68 C310.29,697.50 309.45,699.86 309.60,702.22 C309.75,704.58 311.52,708.03 311.67,709.85 C311.82,711.67 310.94,712.21 310.52,713.12 C310.10,714.03 309.37,714.94 309.14,715.30 Z" fill="#d7acdc" stroke="#222" stroke-width="0.48" stroke-linejoin="round"/>
<path d="M320.74,715.30 L326.26,715.30 C326.07,714.94 325.42,714.03 325.11,713.12 C324.80,712.21 324.04,711.67 324.42,709.85 C324.80,708.03 327.07,704.58 327.41,702.22 C327.75,699.86 326.99,697.68 326.49,695.68 C325.99,693.68 324.92,692.23 324.42,690.23 C323.92,688.23 323.65,684.78 323.50,683.69 C323.35,684.78 323.08,688.23 322.58,690.23 C322.08,692.23 321.01,693.68 320.51,695.68 C320.01,697.68 319.25,699.86 319.59,702.22 C319.93,704.58 322.20,708.03 322.58,709.85 C322.96,711.67 322.20,712.21 321.89,713.12 C321.58,714.03 320.93,714.94 320.74,715.30 Z" fill="#fbc0bc" stroke="#222" stroke-width="0.48" stroke-linejoin="round"/>
<rect x="322.60" y="683.09" width="1.8" height="5.14" fill="url(#fade)"/>
<line x1="275.40" y1="682.11" x2="275.40" y2="717.28" stroke="#4a4a4a" stroke-width="0.8"/>
<line x1="275.00" y1="716.88" x2="329.80" y2="716.88" stroke="#4a4a4a" stroke-width="0.8"/>
<line x1="273.70" y1="715.30" x2="275.40" y2="715.30" stroke="#4a4a4a" stroke-width="0.6"/>
<text x="272.50" y="717.00" font-size="4.8" text-anchor="end" fill="#222" stroke="#222" stroke-width="0.07">0</text>
<line x1="273.70" y1="704.40" x2="275.40" y2="704.40" stroke="#4a4a4a" stroke-width="0.6"/>
<text x="272.50" y="706.10" font-size="4.8" text-anchor="end" fill="#222" stroke="#222" stroke-width="0.07">1</text>
<line x1="273.70" y1="693.50" x2="275.40" y2="693.50" stroke="#4a4a4a" stroke-width="0.6"/>
<text x="272.50" y="695.20" font-size="4.8" text-anchor="end" fill="#222" stroke="#222" stroke-width="0.07">2</text>
<line x1="273.70" y1="682.60" x2="275.40" y2="682.60" stroke="#4a4a4a" stroke-width="0.6"/>
<text x="272.50" y="684.30" font-size="4.8" text-anchor="end" fill="#222" stroke="#222" stroke-width="0.07">3</text>
<line x1="281.70" y1="716.88" x2="281.70" y2="718.38" stroke="#4a4a4a" stroke-width="0.6"/>
<text x="283.50" y="719.68" font-size="5.1" text-anchor="end" fill="#222" transform="rotate(-90 283.50 719.68)" stroke="#222" stroke-width="0.07">LH3</text>
<line x1="292.15" y1="716.88" x2="292.15" y2="718.38" stroke="#4a4a4a" stroke-width="0.6"/>
<text x="293.95" y="719.68" font-size="5.1" text-anchor="end" fill="#222" transform="rotate(-90 293.95 719.68)" stroke="#222" stroke-width="0.07">LH5</text>
<line x1="302.60" y1="716.88" x2="302.60" y2="718.38" stroke="#4a4a4a" stroke-width="0.6"/>
<text x="304.40" y="719.68" font-size="5.1" text-anchor="end" fill="#222" transform="rotate(-90 304.40 719.68)" stroke="#222" stroke-width="0.07">LH7</text>
<line x1="313.05" y1="716.88" x2="313.05" y2="718.38" stroke="#4a4a4a" stroke-width="0.6"/>
<text x="314.85" y="719.68" font-size="5.1" text-anchor="end" fill="#222" transform="rotate(-90 314.85 719.68)" stroke="#222" stroke-width="0.07">LH9</text>
<line x1="323.50" y1="716.88" x2="323.50" y2="718.38" stroke="#4a4a4a" stroke-width="0.6"/>
<text x="325.30" y="719.68" font-size="5.1" text-anchor="end" fill="#222" transform="rotate(-90 325.30 719.68)" stroke="#222" stroke-width="0.07">LH11</text>
<text x="303.50" y="747.90" font-size="6.8" text-anchor="middle" font-weight="bold" fill="#000">ITGAE</text>
<path d="M280.36,785.60 L288.64,785.60 C288.33,785.47 287.38,785.21 286.80,784.82 C286.23,784.43 285.48,784.11 285.19,783.26 C284.90,782.41 285.14,780.88 285.05,779.75 C284.96,778.62 284.73,779.42 284.64,776.50 C284.55,773.58 284.52,764.58 284.50,762.20 C284.48,764.58 284.45,773.58 284.36,776.50 C284.27,779.42 284.04,778.62 283.95,779.75 C283.86,780.88 284.10,782.41 283.81,783.26 C283.52,784.11 282.77,784.43 282.20,784.82 C281.62,785.21 280.67,785.47 280.36,785.60 Z" fill="#9a0541" stroke="#222" stroke-width="0.48" stroke-linejoin="round"/>
<rect x="283.60" y="761.60" width="1.8" height="16.15" fill="url(#fade)"/>
<path d="M289.86,785.60 L298.14,785.60 C297.83,785.47 296.90,785.21 296.30,784.82 C295.70,784.43 294.87,784.00 294.55,783.26 C294.23,782.52 294.44,781.74 294.37,780.40 C294.29,779.06 294.15,779.10 294.09,775.20 C294.03,771.30 294.02,760.03 294.00,757.00 C293.98,760.03 293.97,771.30 293.91,775.20 C293.85,779.10 293.71,779.06 293.63,780.40 C293.56,781.74 293.77,782.52 293.45,783.26 C293.13,784.00 292.30,784.43 291.70,784.82 C291.10,785.21 290.17,785.47 289.86,785.60 Z" fill="#d91c78" stroke="#222" stroke-width="0.48" stroke-linejoin="round"/>
<rect x="293.10" y="756.40" width="1.8" height="22.00" fill="url(#fade)"/>
<path d="M299.59,785.60 L307.41,785.60 C307.10,785.47 306.14,785.21 305.57,784.82 C305.00,784.43 304.24,784.11 303.96,783.26 C303.68,782.41 303.93,781.09 303.87,779.75 C303.81,778.41 303.65,779.53 303.59,775.20 C303.53,770.87 303.52,757.33 303.50,753.75 C303.48,757.33 303.47,770.87 303.41,775.20 C303.35,779.53 303.19,778.41 303.13,779.75 C303.07,781.09 303.32,782.41 303.04,783.26 C302.76,784.11 302.00,784.43 301.43,784.82 C300.86,785.21 299.90,785.47 299.59,785.60 Z" fill="#df6db5" stroke="#222" stroke-width="0.48" stroke-linejoin="round"/>
<rect x="302.60" y="753.15" width="1.8" height="24.60" fill="url(#fade)"/>
<path d="M309.32,785.60 L316.68,785.60 C316.37,785.47 315.41,785.21 314.84,784.82 C314.27,784.43 313.56,784.00 313.28,783.26 C312.99,782.52 313.18,784.56 313.14,780.40 C313.09,776.24 313.02,761.98 313.00,758.30 C312.98,761.98 312.91,776.24 312.86,780.40 C312.82,784.56 313.01,782.52 312.72,783.26 C312.44,784.00 311.73,784.43 311.16,784.82 C310.59,785.21 309.63,785.47 309.32,785.60 Z" fill="#d7acdc" stroke="#222" stroke-width="0.48" stroke-linejoin="round"/>
<rect x="312.10" y="757.70" width="1.8" height="23.56" fill="url(#fade)"/>
<path d="M319.74,785.60 L325.26,785.60 C325.17,785.56 325.09,785.45 324.71,785.37 C324.32,785.30 323.32,785.43 322.96,785.14 C322.60,784.86 322.62,786.76 322.56,783.65 C322.49,780.54 322.56,770.72 322.56,766.49 C322.55,762.26 322.51,759.67 322.50,758.30 C322.49,759.67 322.45,762.26 322.44,766.49 C322.44,770.72 322.51,780.54 322.44,783.65 C322.38,786.76 322.40,784.86 322.04,785.14 C321.68,785.43 320.68,785.30 320.29,785.37 C319.91,785.45 319.83,785.56 319.74,785.60 Z" fill="#fbc0bc" stroke="#222" stroke-width="0.48" stroke-linejoin="round"/>
<rect x="321.60" y="757.70" width="1.8" height="25.44" fill="url(#fade)"/>
<line x1="278.30" y1="752.16" x2="278.30" y2="787.59" stroke="#4a4a4a" stroke-width="0.8"/>
<line x1="277.90" y1="787.19" x2="328.70" y2="787.19" stroke="#4a4a4a" stroke-width="0.8"/>
<line x1="276.60" y1="785.60" x2="278.30" y2="785.60" stroke="#4a4a4a" stroke-width="0.6"/>
<text x="275.40" y="787.30" font-size="4.8" text-anchor="end" fill="#222" stroke="#222" stroke-width="0.07">0.0</text>
<line x1="276.60" y1="779.10" x2="278.30" y2="779.10" stroke="#4a4a4a" stroke-width="0.6"/>
<text x="275.40" y="780.80" font-size="4.8" text-anchor="end" fill="#222" stroke="#222" stroke-width="0.07">0.5</text>
<line x1="276.60" y1="772.60" x2="278.30" y2="772.60" stroke="#4a4a4a" stroke-width="0.6"/>
<text x="275.40" y="774.30" font-size="4.8" text-anchor="end" fill="#222" stroke="#222" stroke-width="0.07">1.0</text>
<line x1="276.60" y1="766.10" x2="278.30" y2="766.10" stroke="#4a4a4a" stroke-width="0.6"/>
<text x="275.40" y="767.80" font-size="4.8" text-anchor="end" fill="#222" stroke="#222" stroke-width="0.07">1.5</text>
<line x1="276.60" y1="759.60" x2="278.30" y2="759.60" stroke="#4a4a4a" stroke-width="0.6"/>
<text x="275.40" y="761.30" font-size="4.8" text-anchor="end" fill="#222" stroke="#222" stroke-width="0.07">2.0</text>
<line x1="276.60" y1="753.10" x2="278.30" y2="753.10" stroke="#4a4a4a" stroke-width="0.6"/>
<text x="275.40" y="754.80" font-size="4.8" text-anchor="end" fill="#222" stroke="#222" stroke-width="0.07">2.5</text>
<line x1="284.50" y1="787.19" x2="284.50" y2="788.69" stroke="#4a4a4a" stroke-width="0.6"/>
<text x="286.30" y="789.99" font-size="5.1" text-anchor="end" fill="#222" transform="rotate(-90 286.30 789.99)" stroke="#222" stroke-width="0.07">LH3</text>
<line x1="294.00" y1="787.19" x2="294.00" y2="788.69" stroke="#4a4a4a" stroke-width="0.6"/>
<text x="295.80" y="789.99" font-size="5.1" text-anchor="end" fill="#222" transform="rotate(-90 295.80 789.99)" stroke="#222" stroke-width="0.07">LH5</text>
<line x1="303.50" y1="787.19" x2="303.50" y2="788.69" stroke="#4a4a4a" stroke-width="0.6"/>
<text x="305.30" y="789.99" font-size="5.1" text-anchor="end" fill="#222" transform="rotate(-90 305.30 789.99)" stroke="#222" stroke-width="0.07">LH7</text>
<line x1="313.00" y1="787.19" x2="313.00" y2="788.69" stroke="#4a4a4a" stroke-width="0.6"/>
<text x="314.80" y="789.99" font-size="5.1" text-anchor="end" fill="#222" transform="rotate(-90 314.80 789.99)" stroke="#222" stroke-width="0.07">LH9</text>
<line x1="322.50" y1="787.19" x2="322.50" y2="788.69" stroke="#4a4a4a" stroke-width="0.6"/>
<text x="324.30" y="789.99" font-size="5.1" text-anchor="end" fill="#222" transform="rotate(-90 324.30 789.99)" stroke="#222" stroke-width="0.07">LH11</text>
<text x="454.60" y="110.77" font-size="5.2" text-anchor="middle" fill="#111" stroke="#111" stroke-width="0.18">CXCL12</text>
<defs><radialGradient id="gb1" cx="0.4" cy="0.35" r="0.7"><stop offset="0" stop-color="#f6b8c6"/><stop offset="0.7" stop-color="#ea7f97"/><stop offset="1" stop-color="#d86580"/></radialGradient></defs>
<circle cx="454.3" cy="120.8" r="4.6" fill="url(#gb1)"/>
<line x1="476.50" y1="111.00" x2="481.87" y2="106.15" stroke="#1a1a1a" stroke-width="1.5"/>
<path d="M485.80,102.60 L483.64,108.86 L482.24,105.82 L479.35,104.11 Z" fill="#1a1a1a"/>
<line x1="476.50" y1="127.90" x2="482.32" y2="133.00" stroke="#1a1a1a" stroke-width="1.5"/>
<path d="M486.30,136.50 L479.83,135.08 L482.69,133.33 L484.05,130.27 Z" fill="#1a1a1a"/>
<text x="510.40" y="91.17" font-size="5.2" text-anchor="middle" fill="#111" stroke="#111" stroke-width="0.18">CXCR3</text>
<path d="M501.85,97.90 C501.45,93.70 506.30,93.70 505.90,97.90" fill="none" stroke="#3f9580" stroke-width="0.85"/><path d="M509.95,97.90 C509.55,93.70 514.40,93.70 514.00,97.90" fill="none" stroke="#3f9580" stroke-width="0.85"/><path d="M518.05,97.90 C517.65,93.70 522.50,93.70 522.10,97.90" fill="none" stroke="#3f9580" stroke-width="0.85"/><path d="M497.80,106.00 C497.40,110.20 502.25,110.20 501.85,106.00" fill="none" stroke="#3f9580" stroke-width="0.85"/><path d="M505.90,106.00 C505.50,110.20 510.35,110.20 509.95,106.00" fill="none" stroke="#3f9580" stroke-width="0.85"/><path d="M514.00,106.00 C513.60,110.20 518.45,110.20 518.05,106.00" fill="none" stroke="#3f9580" stroke-width="0.85"/><path d="M497.80,97.50 C497.50,95.10 495.30,95.70 494.30,95.40 C493.50,95.20 493.00,94.70 492.40,94.10" fill="none" stroke="#3f9580" stroke-width="0.85" stroke-linecap="round"/><path d="M522.10,106.40 C522.10,108.80 524.70,109.00 525.50,107.60" fill="none" stroke="#3f9580" stroke-width="0.85" stroke-linecap="round"/><rect x="496.60" y="96.70" width="2.40" height="10.50" rx="1.20" fill="#c9ebe1" stroke="#3f9580" stroke-width="0.85"/><rect x="500.65" y="96.70" width="2.40" height="10.50" rx="1.20" fill="#c9ebe1" stroke="#3f9580" stroke-width="0.85"/><rect x="504.70" y="96.70" width="2.40" height="10.50" rx="1.20" fill="#c9ebe1" stroke="#3f9580" stroke-width="0.85"/><rect x="508.75" y="96.70" width="2.40" height="10.50" rx="1.20" fill="#c9ebe1" stroke="#3f9580" stroke-width="0.85"/><rect x="512.80" y="96.70" width="2.40" height="10.50" rx="1.20" fill="#c9ebe1" stroke="#3f9580" stroke-width="0.85"/><rect x="516.85" y="96.70" width="2.40" height="10.50" rx="1.20" fill="#c9ebe1" stroke="#3f9580" stroke-width="0.85"/><rect x="520.90" y="96.70" width="2.40" height="10.50" rx="1.20" fill="#c9ebe1" stroke="#3f9580" stroke-width="0.85"/>
<text x="511.10" y="126.27" font-size="5.2" text-anchor="middle" fill="#111" stroke="#111" stroke-width="0.18">CXCR4</text>
<path d="M502.85,133.60 C502.45,129.40 507.30,129.40 506.90,133.60" fill="none" stroke="#6577c4" stroke-width="0.85"/><path d="M510.95,133.60 C510.55,129.40 515.40,129.40 515.00,133.60" fill="none" stroke="#6577c4" stroke-width="0.85"/><path d="M519.05,133.60 C518.65,129.40 523.50,129.40 523.10,133.60" fill="none" stroke="#6577c4" stroke-width="0.85"/><path d="M498.80,141.70 C498.40,145.90 503.25,145.90 502.85,141.70" fill="none" stroke="#6577c4" stroke-width="0.85"/><path d="M506.90,141.70 C506.50,145.90 511.35,145.90 510.95,141.70" fill="none" stroke="#6577c4" stroke-width="0.85"/><path d="M515.00,141.70 C514.60,145.90 519.45,145.90 519.05,141.70" fill="none" stroke="#6577c4" stroke-width="0.85"/><path d="M498.80,133.20 C498.50,130.80 496.30,131.40 495.30,131.10 C494.50,130.90 494.00,130.40 493.40,129.80" fill="none" stroke="#6577c4" stroke-width="0.85" stroke-linecap="round"/><path d="M523.10,142.10 C523.10,144.50 525.70,144.70 526.50,143.30" fill="none" stroke="#6577c4" stroke-width="0.85" stroke-linecap="round"/><rect x="497.60" y="132.40" width="2.40" height="10.50" rx="1.20" fill="#d3dbf4" stroke="#6577c4" stroke-width="0.85"/><rect x="501.65" y="132.40" width="2.40" height="10.50" rx="1.20" fill="#d3dbf4" stroke="#6577c4" stroke-width="0.85"/><rect x="505.70" y="132.40" width="2.40" height="10.50" rx="1.20" fill="#d3dbf4" stroke="#6577c4" stroke-width="0.85"/><rect x="509.75" y="132.40" width="2.40" height="10.50" rx="1.20" fill="#d3dbf4" stroke="#6577c4" stroke-width="0.85"/><rect x="513.80" y="132.40" width="2.40" height="10.50" rx="1.20" fill="#d3dbf4" stroke="#6577c4" stroke-width="0.85"/><rect x="517.85" y="132.40" width="2.40" height="10.50" rx="1.20" fill="#d3dbf4" stroke="#6577c4" stroke-width="0.85"/><rect x="521.90" y="132.40" width="2.40" height="10.50" rx="1.20" fill="#d3dbf4" stroke="#6577c4" stroke-width="0.85"/>
<text x="459.30" y="215.47" font-size="5.2" text-anchor="middle" fill="#111" stroke="#111" stroke-width="0.18">ANXA1</text>
<defs><radialGradient id="gb2" cx="0.4" cy="0.35" r="0.7"><stop offset="0" stop-color="#4caf50"/><stop offset="0.7" stop-color="#3a9a3e"/><stop offset="1" stop-color="#2c7d31"/></radialGradient></defs>
<circle cx="457.7" cy="225.8" r="5.6" fill="url(#gb2)"/>
<line x1="476.50" y1="215.10" x2="481.92" y2="210.59" stroke="#1a1a1a" stroke-width="1.5"/>
<path d="M486.00,207.20 L483.59,213.37 L482.31,210.27 L479.49,208.45 Z" fill="#1a1a1a"/>
<line x1="476.50" y1="234.10" x2="481.99" y2="238.84" stroke="#1a1a1a" stroke-width="1.5"/>
<path d="M486.00,242.30 L479.52,240.93 L482.37,239.16 L483.70,236.09 Z" fill="#1a1a1a"/>
<text x="508.20" y="197.67" font-size="5.2" text-anchor="middle" fill="#111" stroke="#111" stroke-width="0.18">FPR1</text>
<path d="M501.85,203.50 C501.45,199.30 506.30,199.30 505.90,203.50" fill="none" stroke="#b89c45" stroke-width="0.85"/><path d="M509.95,203.50 C509.55,199.30 514.40,199.30 514.00,203.50" fill="none" stroke="#b89c45" stroke-width="0.85"/><path d="M518.05,203.50 C517.65,199.30 522.50,199.30 522.10,203.50" fill="none" stroke="#b89c45" stroke-width="0.85"/><path d="M497.80,211.60 C497.40,215.80 502.25,215.80 501.85,211.60" fill="none" stroke="#b89c45" stroke-width="0.85"/><path d="M505.90,211.60 C505.50,215.80 510.35,215.80 509.95,211.60" fill="none" stroke="#b89c45" stroke-width="0.85"/><path d="M514.00,211.60 C513.60,215.80 518.45,215.80 518.05,211.60" fill="none" stroke="#b89c45" stroke-width="0.85"/><path d="M497.80,203.10 C497.50,200.70 495.30,201.30 494.30,201.00 C493.50,200.80 493.00,200.30 492.40,199.70" fill="none" stroke="#b89c45" stroke-width="0.85" stroke-linecap="round"/><path d="M522.10,212.00 C522.10,214.40 524.70,214.60 525.50,213.20" fill="none" stroke="#b89c45" stroke-width="0.85" stroke-linecap="round"/><rect x="496.60" y="202.30" width="2.40" height="10.50" rx="1.20" fill="#f3e7b8" stroke="#b89c45" stroke-width="0.85"/><rect x="500.65" y="202.30" width="2.40" height="10.50" rx="1.20" fill="#f3e7b8" stroke="#b89c45" stroke-width="0.85"/><rect x="504.70" y="202.30" width="2.40" height="10.50" rx="1.20" fill="#f3e7b8" stroke="#b89c45" stroke-width="0.85"/><rect x="508.75" y="202.30" width="2.40" height="10.50" rx="1.20" fill="#f3e7b8" stroke="#b89c45" stroke-width="0.85"/><rect x="512.80" y="202.30" width="2.40" height="10.50" rx="1.20" fill="#f3e7b8" stroke="#b89c45" stroke-width="0.85"/><rect x="516.85" y="202.30" width="2.40" height="10.50" rx="1.20" fill="#f3e7b8" stroke="#b89c45" stroke-width="0.85"/><rect x="520.90" y="202.30" width="2.40" height="10.50" rx="1.20" fill="#f3e7b8" stroke="#b89c45" stroke-width="0.85"/>
<text x="508.20" y="236.97" font-size="5.2" text-anchor="middle" fill="#111" stroke="#111" stroke-width="0.18">FPR3</text>
<path d="M501.85,243.00 C501.45,238.80 506.30,238.80 505.90,243.00" fill="none" stroke="#bf8250" stroke-width="0.85"/><path d="M509.95,243.00 C509.55,238.80 514.40,238.80 514.00,243.00" fill="none" stroke="#bf8250" stroke-width="0.85"/><path d="M518.05,243.00 C517.65,238.80 522.50,238.80 522.10,243.00" fill="none" stroke="#bf8250" stroke-width="0.85"/><path d="M497.80,251.10 C497.40,255.30 502.25,255.30 501.85,251.10" fill="none" stroke="#bf8250" stroke-width="0.85"/><path d="M505.90,251.10 C505.50,255.30 510.35,255.30 509.95,251.10" fill="none" stroke="#bf8250" stroke-width="0.85"/><path d="M514.00,251.10 C513.60,255.30 518.45,255.30 518.05,251.10" fill="none" stroke="#bf8250" stroke-width="0.85"/><path d="M497.80,242.60 C497.50,240.20 495.30,240.80 494.30,240.50 C493.50,240.30 493.00,239.80 492.40,239.20" fill="none" stroke="#bf8250" stroke-width="0.85" stroke-linecap="round"/><path d="M522.10,251.50 C522.10,253.90 524.70,254.10 525.50,252.70" fill="none" stroke="#bf8250" stroke-width="0.85" stroke-linecap="round"/><rect x="496.60" y="241.80" width="2.40" height="10.50" rx="1.20" fill="#f1d3b8" stroke="#bf8250" stroke-width="0.85"/><rect x="500.65" y="241.80" width="2.40" height="10.50" rx="1.20" fill="#f1d3b8" stroke="#bf8250" stroke-width="0.85"/><rect x="504.70" y="241.80" width="2.40" height="10.50" rx="1.20" fill="#f1d3b8" stroke="#bf8250" stroke-width="0.85"/><rect x="508.75" y="241.80" width="2.40" height="10.50" rx="1.20" fill="#f1d3b8" stroke="#bf8250" stroke-width="0.85"/><rect x="512.80" y="241.80" width="2.40" height="10.50" rx="1.20" fill="#f1d3b8" stroke="#bf8250" stroke-width="0.85"/><rect x="516.85" y="241.80" width="2.40" height="10.50" rx="1.20" fill="#f1d3b8" stroke="#bf8250" stroke-width="0.85"/><rect x="520.90" y="241.80" width="2.40" height="10.50" rx="1.20" fill="#f1d3b8" stroke="#bf8250" stroke-width="0.85"/>
<text x="458.60" y="314.47" font-size="5.2" text-anchor="middle" fill="#111" stroke="#111" stroke-width="0.18">HLA-C</text>
<path d="M450.0,320.6 Q450.0,319.3 451.3,319.3 L452.6,319.3 Q453.8,319.3 453.8,320.8 Q454.2,324.6 458.3,326.0 L458.3,347.2 L451.2,347.2 Q450.0,347.2 450.0,346.0 Z" fill="#6d3a7f"/>
<path d="M467.8,320.6 Q467.8,319.3 466.5,319.3 L465.2,319.3 Q464.0,319.3 464.0,320.8 Q463.6,324.6 459.2,326.0 L459.2,336.5 L466.6,336.5 Q467.8,336.5 467.8,335.3 Z" fill="#6d3a7f"/>
<rect x="459.2" y="337.6" width="8.6" height="9.6" rx="1.3" fill="#6d3a7f"/>
<line x1="453.90" y1="347.00" x2="453.90" y2="370.80" stroke="#55285f" stroke-width="1.5"/>
<line x1="478.60" y1="329.80" x2="486.20" y2="329.80" stroke="#1a1a1a" stroke-width="1.5"/>
<path d="M491.50,329.80 L485.70,333.00 L486.70,329.80 L485.70,326.60 Z" fill="#1a1a1a"/>
<text x="509.70" y="315.47" font-size="5.2" text-anchor="middle" fill="#111" stroke="#111" stroke-width="0.18">FAM3C</text>
<circle cx="502.5" cy="321.8" r="2.6" fill="#ebc665"/>
<circle cx="506.5" cy="321.0" r="2.7" fill="#e4bb54"/>
<circle cx="510.5" cy="320.9" r="2.6" fill="#eec96c"/>
<circle cx="514.6" cy="321.6" r="2.5" fill="#e6bf5a"/>
<circle cx="500.9" cy="325.6" r="2.7" fill="#ebc665"/>
<circle cx="504.8" cy="325.3" r="2.9" fill="#e4bb54"/>
<circle cx="508.8" cy="325.0" r="2.9" fill="#eec96c"/>
<circle cx="512.8" cy="325.2" r="2.9" fill="#e6bf5a"/>
<circle cx="516.7" cy="325.8" r="2.7" fill="#ebc665"/>
<circle cx="501.2" cy="330.0" r="2.7" fill="#e4bb54"/>
<circle cx="505.0" cy="329.8" r="2.9" fill="#eec96c"/>
<circle cx="509.0" cy="329.6" r="2.9" fill="#e6bf5a"/>
<circle cx="513.0" cy="329.8" r="2.9" fill="#ebc665"/>
<circle cx="517.0" cy="330.2" r="2.6" fill="#e4bb54"/>
<circle cx="503.0" cy="334.4" r="2.7" fill="#eec96c"/>
<circle cx="507.0" cy="334.3" r="2.9" fill="#e6bf5a"/>
<circle cx="511.0" cy="334.3" r="2.9" fill="#ebc665"/>
<circle cx="515.2" cy="334.4" r="2.7" fill="#e4bb54"/>
<circle cx="506.2" cy="338.2" r="2.5" fill="#eec96c"/>
<circle cx="510.0" cy="338.6" r="2.7" fill="#e6bf5a"/>
<circle cx="513.6" cy="338.0" r="2.4" fill="#ebc665"/>
<circle cx="510.4" cy="341.0" r="1.8" fill="#e4bb54"/>
<text x="454.60" y="417.17" font-size="5.2" text-anchor="middle" fill="#111" stroke="#111" stroke-width="0.18">C3</text>
<rect x="451.4" y="422.1" width="5.4" height="10.7" rx="2.7" fill="#f4dcb4" stroke="#c99a63" stroke-width="0.6"/>
<line x1="479.10" y1="413.50" x2="484.43" y2="408.52" stroke="#1a1a1a" stroke-width="1.5"/>
<path d="M488.30,404.90 L486.25,411.20 L484.79,408.18 L481.88,406.52 Z" fill="#1a1a1a"/>
<line x1="479.10" y1="432.10" x2="484.73" y2="437.38" stroke="#1a1a1a" stroke-width="1.5"/>
<path d="M488.60,441.00 L482.18,439.37 L485.10,437.72 L486.56,434.70 Z" fill="#1a1a1a"/>
<text x="507.80" y="366.67" font-size="5.2" text-anchor="middle" fill="#111" stroke="#111" stroke-width="0.18">ITGAE</text>
<g fill="#1f6b9e" stroke="none"><line x1="504.80" y1="393.70" x2="504.80" y2="411.20" stroke="#1f6b9e" stroke-width="0.9"/><circle cx="511.00" cy="373.70" r="1.9"/><circle cx="508.00" cy="374.90" r="2.0"/><circle cx="506.00" cy="376.50" r="2.6"/><circle cx="504.80" cy="378.30" r="2.0"/><ellipse cx="504.60" cy="381.90" rx="1.35" ry="1.9"/><ellipse cx="504.60" cy="385.30" rx="1.35" ry="1.9"/><ellipse cx="504.60" cy="388.30" rx="1.35" ry="1.9"/><ellipse cx="504.60" cy="392.30" rx="1.35" ry="1.9"/><ellipse cx="504.60" cy="395.70" rx="1.35" ry="1.9"/></g>
<text x="508.80" y="426.07" font-size="5.2" text-anchor="middle" fill="#111" stroke="#111" stroke-width="0.18">ITGB1</text>
<g fill="#1f9aaa" stroke="none"><line x1="505.40" y1="450.80" x2="505.40" y2="467.00" stroke="#1f9aaa" stroke-width="0.9"/><circle cx="509.80" cy="432.80" r="2.3"/><circle cx="509.00" cy="438.00" r="1.9"/><circle cx="507.40" cy="441.40" r="1.8"/><circle cx="506.00" cy="443.40" r="1.5"/><ellipse cx="505.40" cy="445.60" rx="1.25" ry="1.6"/><ellipse cx="505.40" cy="448.00" rx="1.25" ry="1.6"/><ellipse cx="505.40" cy="450.60" rx="1.25" ry="1.6"/></g>
<text x="455.80" y="505.77" font-size="5.2" text-anchor="middle" fill="#111" stroke="#111" stroke-width="0.18">CD55</text>
<line x1="458.50" y1="529.00" x2="458.50" y2="553.30" stroke="#5f7fc0" stroke-width="0.9"/>
<circle cx="452.1" cy="510.8" r="2.3" fill="#6fa5b9"/>
<circle cx="454.4" cy="515.6" r="2.3" fill="#5f7fc0"/>
<circle cx="456.5" cy="520.0" r="2.3" fill="#6fa5b9"/>
<circle cx="457.8" cy="524.6" r="2.3" fill="#5f7fc0"/>
<circle cx="458.5" cy="529.6" r="2.3" fill="#5f7fc0"/>
<line x1="474.00" y1="521.30" x2="482.00" y2="521.30" stroke="#1a1a1a" stroke-width="1.5"/>
<path d="M487.30,521.30 L481.50,524.50 L482.50,521.30 L481.50,518.10 Z" fill="#1a1a1a"/>
<text x="506.50" y="505.77" font-size="5.2" text-anchor="middle" fill="#111" stroke="#111" stroke-width="0.18">ADGRE5</text>
<path d="M498.95,516.80 C498.55,512.60 504.10,512.60 503.70,516.80" fill="none" stroke="#b94c86" stroke-width="0.65"/><path d="M508.45,516.80 C508.05,512.60 513.60,512.60 513.20,516.80" fill="none" stroke="#b94c86" stroke-width="0.65"/><path d="M517.95,516.80 C517.55,512.60 523.10,512.60 522.70,516.80" fill="none" stroke="#b94c86" stroke-width="0.65"/><path d="M494.20,533.60 C493.80,537.80 499.35,537.80 498.95,533.60" fill="none" stroke="#b94c86" stroke-width="0.65"/><path d="M503.70,533.60 C503.30,537.80 508.85,537.80 508.45,533.60" fill="none" stroke="#b94c86" stroke-width="0.65"/><path d="M513.20,533.60 C512.80,537.80 518.35,537.80 517.95,533.60" fill="none" stroke="#b94c86" stroke-width="0.65"/><path d="M494.20,516.40 L494.20,511.10" fill="none" stroke="#b94c86" stroke-width="0.65" stroke-linecap="round"/><path d="M522.70,534.00 L522.70,539.00 C522.70,540.80 519.70,540.20 514.90,541.40" fill="none" stroke="#b94c86" stroke-width="0.65" stroke-linecap="round"/><rect x="492.70" y="515.60" width="3.00" height="19.20" rx="1.50" fill="#f4cfe2" stroke="#b94c86" stroke-width="0.65"/><rect x="497.45" y="515.60" width="3.00" height="19.20" rx="1.50" fill="#f4cfe2" stroke="#b94c86" stroke-width="0.65"/><rect x="502.20" y="515.60" width="3.00" height="19.20" rx="1.50" fill="#f4cfe2" stroke="#b94c86" stroke-width="0.65"/><rect x="506.95" y="515.60" width="3.00" height="19.20" rx="1.50" fill="#f4cfe2" stroke="#b94c86" stroke-width="0.65"/><rect x="511.70" y="515.60" width="3.00" height="19.20" rx="1.50" fill="#f4cfe2" stroke="#b94c86" stroke-width="0.65"/><rect x="516.45" y="515.60" width="3.00" height="19.20" rx="1.50" fill="#f4cfe2" stroke="#b94c86" stroke-width="0.65"/><rect x="521.20" y="515.60" width="3.00" height="19.20" rx="1.50" fill="#f4cfe2" stroke="#b94c86" stroke-width="0.65"/>
<rect x="492.90" y="508.30" width="2.6" height="2.8" fill="#f4cfe2" stroke="#b94c86" stroke-width="0.6"/>
<text x="113.80" y="527.57" font-size="5.2" text-anchor="middle" fill="#111" stroke="#111" stroke-width="0.18">TGFB2</text>
<path d="M102.2,533.2 C101.5,531.3 103.6,530.2 105.2,531.4 C108.5,534.0 111.5,535.6 114.2,535.8 C117.0,535.6 120.0,534.0 123.4,531.4 C125.0,530.2 127.1,531.3 126.3,533.2 C124.0,538.3 119.5,541.9 114.3,542.1 C109.0,541.9 104.5,538.3 102.2,533.2 Z" fill="#41ad49"/>
<path d="M114.2,535.8 C115.2,537.5 115.4,540 114.3,542.1" fill="none" stroke="#2e8c36" stroke-width="0.5"/>
<line x1="132.00" y1="522.30" x2="137.39" y2="517.38" stroke="#1a1a1a" stroke-width="1.5"/>
<path d="M141.30,513.80 L139.18,520.07 L137.76,517.04 L134.86,515.35 Z" fill="#1a1a1a"/>
<line x1="132.00" y1="546.50" x2="137.47" y2="551.74" stroke="#1a1a1a" stroke-width="1.5"/>
<path d="M141.30,555.40 L134.90,553.70 L137.83,552.08 L139.32,549.08 Z" fill="#1a1a1a"/>
<text x="159.10" y="482.57" font-size="5.2" text-anchor="middle" fill="#111" stroke="#111" stroke-width="0.18">TGFBR1</text>
<line x1="154.90" y1="495.60" x2="154.90" y2="526.40" stroke="#b46fb9" stroke-width="0.9"/><path d="M154.90,496.60 C155.20,494.60 155.80,493.10 155.80,490.60 C155.80,487.20 154.50,485.80 153.60,485.80 C152.30,485.80 151.60,487.20 151.90,489.90" fill="none" stroke="#b46fb9" stroke-width="2.6" stroke-linecap="round"/><path d="M154.90,496.60 C155.20,494.60 155.80,493.10 155.80,490.60 C155.80,487.20 154.50,485.80 153.60,485.80 C152.30,485.80 151.60,487.20 151.90,489.90" fill="none" stroke="#f4e0f4" stroke-width="1.3" stroke-linecap="round"/><rect x="153.30" y="508.20" width="3.2" height="13.70" rx="1.2" fill="#f4e0f4" stroke="#b46fb9" stroke-width="0.6"/><line x1="160.90" y1="495.60" x2="160.90" y2="526.40" stroke="#b46fb9" stroke-width="0.9"/><path d="M160.90,496.60 C160.60,494.60 160.00,493.10 160.00,490.60 C160.00,487.20 161.30,485.80 162.20,485.80 C163.50,485.80 164.20,487.20 163.90,489.90" fill="none" stroke="#b46fb9" stroke-width="2.6" stroke-linecap="round"/><path d="M160.90,496.60 C160.60,494.60 160.00,493.10 160.00,490.60 C160.00,487.20 161.30,485.80 162.20,485.80 C163.50,485.80 164.20,487.20 163.90,489.90" fill="none" stroke="#f4e0f4" stroke-width="1.3" stroke-linecap="round"/><rect x="159.30" y="508.20" width="3.2" height="13.70" rx="1.2" fill="#f4e0f4" stroke="#b46fb9" stroke-width="0.6"/>
<text x="159.10" y="544.97" font-size="5.2" text-anchor="middle" fill="#111" stroke="#111" stroke-width="0.18">TGFBR2</text>
<line x1="154.90" y1="559.00" x2="154.90" y2="589.20" stroke="#5c5cb0" stroke-width="0.9"/><path d="M154.90,560.00 C155.20,558.00 155.80,556.50 155.80,554.00 C155.80,550.60 154.50,549.20 153.60,549.20 C152.30,549.20 151.60,550.60 151.90,553.30" fill="none" stroke="#5c5cb0" stroke-width="2.5" stroke-linecap="round"/><rect x="153.30" y="568.50" width="3.2" height="16.50" rx="1.2" fill="#5c5cb0" stroke="#5c5cb0" stroke-width="0.6"/><line x1="160.90" y1="559.00" x2="160.90" y2="589.20" stroke="#5c5cb0" stroke-width="0.9"/><path d="M160.90,560.00 C160.60,558.00 160.00,556.50 160.00,554.00 C160.00,550.60 161.30,549.20 162.20,549.20 C163.50,549.20 164.20,550.60 163.90,553.30" fill="none" stroke="#5c5cb0" stroke-width="2.5" stroke-linecap="round"/><rect x="159.30" y="568.50" width="3.2" height="16.50" rx="1.2" fill="#5c5cb0" stroke="#5c5cb0" stroke-width="0.6"/>
<text x="112.40" y="625.87" font-size="5.2" text-anchor="middle" fill="#111" stroke="#111" stroke-width="0.18">SPP1</text>
<circle cx="106.6" cy="632.6" r="3.0" fill="#e8c063"/>
<circle cx="110.6" cy="631.6" r="2.8" fill="#e0b552"/>
<circle cx="114.4" cy="632.2" r="2.5" fill="#ecc86d"/>
<circle cx="117.0" cy="634.0" r="1.8" fill="#e3ba58"/>
<circle cx="104.6" cy="636.6" r="3.0" fill="#e8c063"/>
<circle cx="108.6" cy="636.2" r="3.0" fill="#e0b552"/>
<circle cx="112.6" cy="636.0" r="2.5" fill="#ecc86d"/>
<circle cx="104.4" cy="641.0" r="2.8" fill="#e3ba58"/>
<circle cx="108.4" cy="640.8" r="3.0" fill="#e8c063"/>
<circle cx="111.8" cy="640.2" r="2.0" fill="#e0b552"/>
<circle cx="107.0" cy="644.6" r="2.6" fill="#ecc86d"/>
<circle cx="111.0" cy="644.6" r="2.4" fill="#e3ba58"/>
<circle cx="114.4" cy="646.2" r="2.0" fill="#e8c063"/>
<circle cx="117.4" cy="646.6" r="2.0" fill="#e0b552"/>
<circle cx="119.2" cy="648.4" r="1.7" fill="#ecc86d"/>
<circle cx="116.2" cy="649.0" r="1.6" fill="#e3ba58"/>
<circle cx="119.6" cy="645.0" r="1.3" fill="#e8c063"/>
<line x1="129.60" y1="636.20" x2="136.80" y2="636.20" stroke="#1a1a1a" stroke-width="1.5"/>
<path d="M142.10,636.20 L136.30,639.40 L137.30,636.20 L136.30,633.00 Z" fill="#1a1a1a"/>
<text x="159.60" y="614.27" font-size="5.2" text-anchor="middle" fill="#111" stroke="#111" stroke-width="0.18">CD44</text>
<path d="M153.8,620.6 C153.6,619.0 154.5,618.2 155.9,618.2 L164.6,618.2 A2.3,2.3 0 0 1 164.6,622.8 L155.9,622.8 A2.3,2.3 0 0 0 155.9,627.4 L164.6,627.4 A2.3,2.3 0 0 1 164.6,632.0 L155.9,632.0 A2.3,2.3 0 0 0 155.0,636.5 C154.0,636.9 153.7,637.6 153.8,638.3" fill="none" stroke="#5a3ea0" stroke-width="1.25" stroke-linecap="round"/>
<path d="M164.8,632.0 C161.6,634.5 161.2,644.0 161.0,650.0 C160.8,655.5 159.2,659.0 157.0,661.4" fill="none" stroke="#5a3ea0" stroke-width="1.25" stroke-linecap="round"/>
<circle cx="159.6" cy="622.8" r="0.7" fill="#ddd"/>
<circle cx="159.6" cy="627.4" r="0.7" fill="#ddd"/>
<circle cx="159.6" cy="632.0" r="0.7" fill="#ddd"/>
<text x="115.60" y="713.37" font-size="5.2" text-anchor="middle" fill="#111" stroke="#111" stroke-width="0.18">CDH1</text>
<line x1="112.60" y1="738.00" x2="112.60" y2="758.00" stroke="#90a8dc" stroke-width="0.9"/>
<rect x="111.35" y="716.40" width="2.5" height="4.4" rx="1.1" fill="#4f74be"/>
<rect x="111.35" y="721.00" width="2.5" height="4.4" rx="1.1" fill="#4f74be"/>
<rect x="111.35" y="725.60" width="2.5" height="4.4" rx="1.1" fill="#4f74be"/>
<rect x="111.35" y="730.20" width="2.5" height="4.4" rx="1.1" fill="#4f74be"/>
<rect x="111.35" y="734.80" width="2.5" height="4.4" rx="1.1" fill="#4f74be"/>
<line x1="117.60" y1="738.00" x2="117.60" y2="758.00" stroke="#90a8dc" stroke-width="0.9"/>
<rect x="116.35" y="716.40" width="2.5" height="4.4" rx="1.1" fill="#4f74be"/>
<rect x="116.35" y="721.00" width="2.5" height="4.4" rx="1.1" fill="#4f74be"/>
<rect x="116.35" y="725.60" width="2.5" height="4.4" rx="1.1" fill="#4f74be"/>
<rect x="116.35" y="730.20" width="2.5" height="4.4" rx="1.1" fill="#4f74be"/>
<rect x="116.35" y="734.80" width="2.5" height="4.4" rx="1.1" fill="#4f74be"/>
<line x1="133.40" y1="726.40" x2="138.79" y2="721.48" stroke="#1a1a1a" stroke-width="1.5"/>
<path d="M142.70,717.90 L140.58,724.17 L139.16,721.14 L136.26,719.45 Z" fill="#1a1a1a"/>
<line x1="133.40" y1="744.20" x2="138.81" y2="749.20" stroke="#1a1a1a" stroke-width="1.5"/>
<path d="M142.70,752.80 L136.27,751.21 L139.18,749.54 L140.61,746.51 Z" fill="#1a1a1a"/>
<text x="159.10" y="690.07" font-size="5.2" text-anchor="middle" fill="#111" stroke="#111" stroke-width="0.18">ITGAE</text>
<g fill="#1f6b9e" stroke="none"><line x1="155.60" y1="716.60" x2="155.60" y2="734.10" stroke="#1f6b9e" stroke-width="0.9"/><circle cx="161.80" cy="696.60" r="1.9"/><circle cx="158.80" cy="697.80" r="2.0"/><circle cx="156.80" cy="699.40" r="2.6"/><circle cx="155.60" cy="701.20" r="2.0"/><ellipse cx="155.40" cy="704.80" rx="1.35" ry="1.9"/><ellipse cx="155.40" cy="708.20" rx="1.35" ry="1.9"/><ellipse cx="155.40" cy="711.20" rx="1.35" ry="1.9"/><ellipse cx="155.40" cy="715.20" rx="1.35" ry="1.9"/><ellipse cx="155.40" cy="718.60" rx="1.35" ry="1.9"/></g>
<text x="159.80" y="749.47" font-size="5.2" text-anchor="middle" fill="#111" stroke="#111" stroke-width="0.18">ITGB1</text>
<g fill="#1f9aaa" stroke="none"><line x1="156.20" y1="774.10" x2="156.20" y2="790.30" stroke="#1f9aaa" stroke-width="0.9"/><circle cx="160.60" cy="756.10" r="2.3"/><circle cx="159.80" cy="761.30" r="1.9"/><circle cx="158.20" cy="764.70" r="1.8"/><circle cx="156.80" cy="766.70" r="1.5"/><ellipse cx="156.20" cy="768.90" rx="1.25" ry="1.6"/><ellipse cx="156.20" cy="771.30" rx="1.25" ry="1.6"/><ellipse cx="156.20" cy="773.90" rx="1.25" ry="1.6"/></g>
</svg>
</body></html>
